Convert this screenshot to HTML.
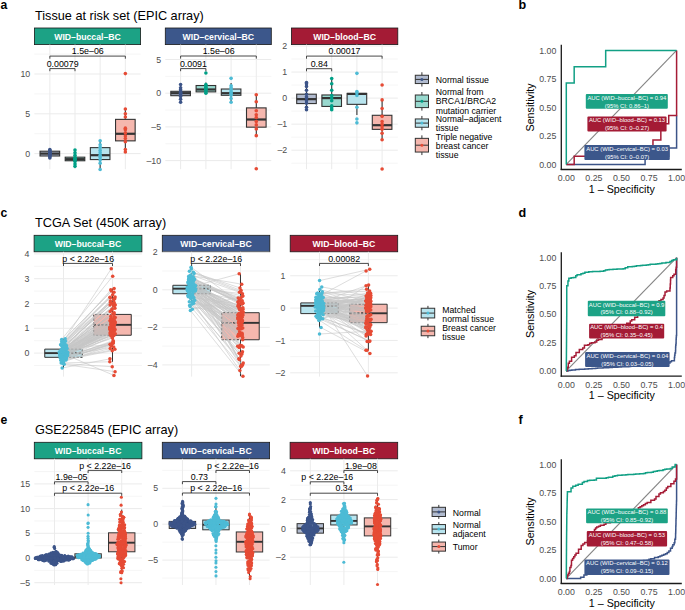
<!DOCTYPE html><html><head><meta charset="utf-8"><style>html,body{margin:0;padding:0;background:#fff;width:685px;height:610px;overflow:hidden}svg{display:block}</style></head><body><svg width="685" height="610" viewBox="0 0 685 610" font-family='"Liberation Sans", sans-serif'>
<rect x="0.00" y="0.00" width="685.00" height="610.00" fill="#fff" stroke="none" stroke-width="1" />
<text x="0.40" y="9.20" font-size="12.2" text-anchor="start" fill="#000" font-weight="bold" >a</text>
<text x="35.00" y="19.50" font-size="12.7" text-anchor="start" fill="#000" font-weight="normal" >Tissue at risk set (EPIC array)</text>
<rect x="34.40" y="28.00" width="106.20" height="16.60" fill="#1CA285" stroke="#1a1a1a" stroke-width="0.8" />
<text x="87.50" y="40.00" font-size="8.7" text-anchor="middle" fill="#fff" font-weight="bold" >WID–buccal–BC</text>
<line x1="34.40" y1="133.70" x2="140.60" y2="133.70" stroke="#EBEBEB" stroke-width="0.5" />
<line x1="34.40" y1="93.90" x2="140.60" y2="93.90" stroke="#EBEBEB" stroke-width="0.5" />
<line x1="34.40" y1="54.10" x2="140.60" y2="54.10" stroke="#EBEBEB" stroke-width="0.5" />
<line x1="34.40" y1="153.60" x2="140.60" y2="153.60" stroke="#EBEBEB" stroke-width="1" />
<line x1="34.40" y1="113.80" x2="140.60" y2="113.80" stroke="#EBEBEB" stroke-width="1" />
<line x1="34.40" y1="74.00" x2="140.60" y2="74.00" stroke="#EBEBEB" stroke-width="1" />
<line x1="49.85" y1="44.60" x2="49.85" y2="169.20" stroke="#EBEBEB" stroke-width="1" />
<line x1="75.00" y1="44.60" x2="75.00" y2="169.20" stroke="#EBEBEB" stroke-width="1" />
<line x1="100.15" y1="44.60" x2="100.15" y2="169.20" stroke="#EBEBEB" stroke-width="1" />
<line x1="125.35" y1="44.60" x2="125.35" y2="169.20" stroke="#EBEBEB" stroke-width="1" />
<text x="30.20" y="156.70" font-size="8.8" text-anchor="end" fill="#4D4D4D" font-weight="normal" >0</text>
<text x="30.20" y="116.90" font-size="8.8" text-anchor="end" fill="#4D4D4D" font-weight="normal" >5</text>
<text x="30.20" y="77.10" font-size="8.8" text-anchor="end" fill="#4D4D4D" font-weight="normal" >10</text>
<line x1="49.85" y1="148.82" x2="49.85" y2="151.21" stroke="#333333" stroke-width="1.1" />
<line x1="49.85" y1="155.99" x2="49.85" y2="158.38" stroke="#333333" stroke-width="1.1" />
<rect x="40.05" y="151.21" width="19.60" height="4.78" fill="#B1BBCF" stroke="#333333" stroke-width="1.1" />
<line x1="40.05" y1="153.60" x2="59.65" y2="153.60" stroke="#333333" stroke-width="2.2" />
<circle cx="49.85" cy="157.98" r="1.8" fill="#3C5488" />
<circle cx="49.85" cy="156.78" r="1.8" fill="#3C5488" />
<circle cx="49.85" cy="155.99" r="1.8" fill="#3C5488" />
<circle cx="49.85" cy="155.19" r="1.8" fill="#3C5488" />
<circle cx="49.85" cy="154.40" r="1.8" fill="#3C5488" />
<circle cx="49.85" cy="153.60" r="1.8" fill="#3C5488" />
<circle cx="49.85" cy="153.20" r="1.8" fill="#3C5488" />
<circle cx="49.85" cy="152.80" r="1.8" fill="#3C5488" />
<circle cx="49.85" cy="152.01" r="1.8" fill="#3C5488" />
<circle cx="49.85" cy="151.21" r="1.8" fill="#3C5488" />
<circle cx="49.85" cy="150.42" r="1.8" fill="#3C5488" />
<circle cx="49.85" cy="149.62" r="1.8" fill="#3C5488" />
<line x1="75.00" y1="149.62" x2="75.00" y2="157.18" stroke="#333333" stroke-width="1.1" />
<line x1="75.00" y1="160.76" x2="75.00" y2="166.34" stroke="#333333" stroke-width="1.1" />
<rect x="65.20" y="157.18" width="19.60" height="3.58" fill="#99D9CF" stroke="#333333" stroke-width="1.1" />
<line x1="65.20" y1="159.17" x2="84.80" y2="159.17" stroke="#333333" stroke-width="2.2" />
<circle cx="75.00" cy="166.34" r="1.8" fill="#00A087" />
<circle cx="75.00" cy="163.95" r="1.8" fill="#00A087" />
<circle cx="75.00" cy="161.56" r="1.8" fill="#00A087" />
<circle cx="75.00" cy="159.97" r="1.8" fill="#00A087" />
<circle cx="75.00" cy="159.17" r="1.8" fill="#00A087" />
<circle cx="75.00" cy="158.38" r="1.8" fill="#00A087" />
<circle cx="75.00" cy="157.58" r="1.8" fill="#00A087" />
<circle cx="75.00" cy="155.19" r="1.8" fill="#00A087" />
<circle cx="75.00" cy="152.80" r="1.8" fill="#00A087" />
<circle cx="75.00" cy="150.02" r="1.8" fill="#00A087" />
<line x1="100.15" y1="140.86" x2="100.15" y2="147.63" stroke="#333333" stroke-width="1.1" />
<line x1="100.15" y1="159.57" x2="100.15" y2="169.52" stroke="#333333" stroke-width="1.1" />
<rect x="90.35" y="147.63" width="19.60" height="11.94" fill="#B8E4EE" stroke="#333333" stroke-width="1.1" />
<line x1="90.35" y1="155.19" x2="109.95" y2="155.19" stroke="#333333" stroke-width="2.2" />
<circle cx="100.15" cy="169.52" r="1.8" fill="#4DBBD5" />
<circle cx="100.15" cy="163.15" r="1.8" fill="#4DBBD5" />
<circle cx="100.15" cy="159.97" r="1.8" fill="#4DBBD5" />
<circle cx="100.15" cy="157.58" r="1.8" fill="#4DBBD5" />
<circle cx="100.15" cy="155.19" r="1.8" fill="#4DBBD5" />
<circle cx="100.15" cy="152.80" r="1.8" fill="#4DBBD5" />
<circle cx="100.15" cy="150.42" r="1.8" fill="#4DBBD5" />
<circle cx="100.15" cy="147.23" r="1.8" fill="#4DBBD5" />
<circle cx="100.15" cy="144.84" r="1.8" fill="#4DBBD5" />
<circle cx="100.15" cy="140.86" r="1.8" fill="#4DBBD5" />
<line x1="125.35" y1="109.02" x2="125.35" y2="119.37" stroke="#333333" stroke-width="1.1" />
<line x1="125.35" y1="140.86" x2="125.35" y2="152.01" stroke="#333333" stroke-width="1.1" />
<rect x="115.55" y="119.37" width="19.60" height="21.49" fill="#F5B7AE" stroke="#333333" stroke-width="1.1" />
<line x1="115.55" y1="133.78" x2="135.15" y2="133.78" stroke="#333333" stroke-width="2.2" />
<circle cx="125.35" cy="73.60" r="1.8" fill="#E64B35" />
<circle cx="125.35" cy="109.02" r="1.8" fill="#E64B35" />
<circle cx="125.35" cy="113.80" r="1.8" fill="#E64B35" />
<circle cx="125.35" cy="116.98" r="1.8" fill="#E64B35" />
<circle cx="125.35" cy="128.13" r="1.8" fill="#E64B35" />
<circle cx="125.35" cy="129.72" r="1.8" fill="#E64B35" />
<circle cx="125.35" cy="132.90" r="1.8" fill="#E64B35" />
<circle cx="125.35" cy="136.09" r="1.8" fill="#E64B35" />
<circle cx="125.35" cy="138.48" r="1.8" fill="#E64B35" />
<circle cx="125.35" cy="141.66" r="1.8" fill="#E64B35" />
<circle cx="125.35" cy="149.62" r="1.8" fill="#E64B35" />
<circle cx="125.35" cy="152.01" r="1.8" fill="#E64B35" />
<polyline points="49.85,58.70 49.85,56.10 125.35,56.10 125.35,58.70" fill="none" stroke="#333333" stroke-width="0.9"/>
<text x="87.80" y="54.30" font-size="8.85" text-anchor="middle" fill="#000" font-weight="normal" >1.5e–06</text>
<polyline points="49.85,71.20 49.85,68.60 75.00,68.60 75.00,71.20" fill="none" stroke="#333333" stroke-width="0.9"/>
<text x="62.62" y="66.80" font-size="8.85" text-anchor="middle" fill="#000" font-weight="normal" >0.00079</text>
<rect x="165.30" y="28.00" width="106.00" height="16.60" fill="#3C578B" stroke="#1a1a1a" stroke-width="0.8" />
<text x="218.30" y="40.00" font-size="8.7" text-anchor="middle" fill="#fff" font-weight="bold" >WID–cervical–BC</text>
<line x1="165.30" y1="143.75" x2="271.30" y2="143.75" stroke="#EBEBEB" stroke-width="0.5" />
<line x1="165.30" y1="110.05" x2="271.30" y2="110.05" stroke="#EBEBEB" stroke-width="0.5" />
<line x1="165.30" y1="76.35" x2="271.30" y2="76.35" stroke="#EBEBEB" stroke-width="0.5" />
<line x1="165.30" y1="160.60" x2="271.30" y2="160.60" stroke="#EBEBEB" stroke-width="1" />
<line x1="165.30" y1="126.90" x2="271.30" y2="126.90" stroke="#EBEBEB" stroke-width="1" />
<line x1="165.30" y1="93.20" x2="271.30" y2="93.20" stroke="#EBEBEB" stroke-width="1" />
<line x1="165.30" y1="59.50" x2="271.30" y2="59.50" stroke="#EBEBEB" stroke-width="1" />
<line x1="180.60" y1="44.60" x2="180.60" y2="169.20" stroke="#EBEBEB" stroke-width="1" />
<line x1="205.90" y1="44.60" x2="205.90" y2="169.20" stroke="#EBEBEB" stroke-width="1" />
<line x1="231.10" y1="44.60" x2="231.10" y2="169.20" stroke="#EBEBEB" stroke-width="1" />
<line x1="256.30" y1="44.60" x2="256.30" y2="169.20" stroke="#EBEBEB" stroke-width="1" />
<text x="161.10" y="163.70" font-size="8.8" text-anchor="end" fill="#4D4D4D" font-weight="normal" >–10</text>
<text x="161.10" y="130.00" font-size="8.8" text-anchor="end" fill="#4D4D4D" font-weight="normal" >–5</text>
<text x="161.10" y="96.30" font-size="8.8" text-anchor="end" fill="#4D4D4D" font-weight="normal" >0</text>
<text x="161.10" y="62.60" font-size="8.8" text-anchor="end" fill="#4D4D4D" font-weight="normal" >5</text>
<line x1="180.60" y1="84.44" x2="180.60" y2="91.31" stroke="#333333" stroke-width="1.1" />
<line x1="180.60" y1="95.69" x2="180.60" y2="102.30" stroke="#333333" stroke-width="1.1" />
<rect x="170.80" y="91.31" width="19.60" height="4.38" fill="#B1BBCF" stroke="#333333" stroke-width="1.1" />
<line x1="170.80" y1="93.20" x2="190.40" y2="93.20" stroke="#333333" stroke-width="2.2" />
<circle cx="180.60" cy="102.30" r="1.8" fill="#3C5488" />
<circle cx="180.60" cy="99.27" r="1.8" fill="#3C5488" />
<circle cx="180.60" cy="96.57" r="1.8" fill="#3C5488" />
<circle cx="180.60" cy="95.22" r="1.8" fill="#3C5488" />
<circle cx="180.60" cy="93.87" r="1.8" fill="#3C5488" />
<circle cx="180.60" cy="93.20" r="1.8" fill="#3C5488" />
<circle cx="180.60" cy="92.53" r="1.8" fill="#3C5488" />
<circle cx="180.60" cy="91.52" r="1.8" fill="#3C5488" />
<circle cx="180.60" cy="89.83" r="1.8" fill="#3C5488" />
<circle cx="180.60" cy="87.81" r="1.8" fill="#3C5488" />
<circle cx="180.60" cy="84.44" r="1.8" fill="#3C5488" />
<line x1="205.90" y1="82.42" x2="205.90" y2="85.52" stroke="#333333" stroke-width="1.1" />
<line x1="205.90" y1="91.85" x2="205.90" y2="93.20" stroke="#333333" stroke-width="1.1" />
<rect x="196.10" y="85.52" width="19.60" height="6.34" fill="#99D9CF" stroke="#333333" stroke-width="1.1" />
<line x1="196.10" y1="89.49" x2="215.70" y2="89.49" stroke="#333333" stroke-width="2.2" />
<circle cx="205.90" cy="93.20" r="1.8" fill="#00A087" />
<circle cx="205.90" cy="91.85" r="1.8" fill="#00A087" />
<circle cx="205.90" cy="90.50" r="1.8" fill="#00A087" />
<circle cx="205.90" cy="89.49" r="1.8" fill="#00A087" />
<circle cx="205.90" cy="88.48" r="1.8" fill="#00A087" />
<circle cx="205.90" cy="87.13" r="1.8" fill="#00A087" />
<circle cx="205.90" cy="85.79" r="1.8" fill="#00A087" />
<circle cx="205.90" cy="84.44" r="1.8" fill="#00A087" />
<circle cx="205.90" cy="72.98" r="1.8" fill="#00A087" />
<line x1="231.10" y1="83.09" x2="231.10" y2="89.02" stroke="#333333" stroke-width="1.1" />
<line x1="231.10" y1="95.29" x2="231.10" y2="102.30" stroke="#333333" stroke-width="1.1" />
<rect x="221.30" y="89.02" width="19.60" height="6.27" fill="#B8E4EE" stroke="#333333" stroke-width="1.1" />
<line x1="221.30" y1="93.20" x2="240.90" y2="93.20" stroke="#333333" stroke-width="2.2" />
<circle cx="231.10" cy="102.30" r="1.8" fill="#4DBBD5" />
<circle cx="231.10" cy="98.59" r="1.8" fill="#4DBBD5" />
<circle cx="231.10" cy="95.22" r="1.8" fill="#4DBBD5" />
<circle cx="231.10" cy="93.20" r="1.8" fill="#4DBBD5" />
<circle cx="231.10" cy="91.85" r="1.8" fill="#4DBBD5" />
<circle cx="231.10" cy="89.83" r="1.8" fill="#4DBBD5" />
<circle cx="231.10" cy="87.81" r="1.8" fill="#4DBBD5" />
<circle cx="231.10" cy="85.79" r="1.8" fill="#4DBBD5" />
<circle cx="231.10" cy="78.37" r="1.8" fill="#4DBBD5" />
<line x1="256.30" y1="94.82" x2="256.30" y2="107.89" stroke="#333333" stroke-width="1.1" />
<line x1="256.30" y1="127.17" x2="256.30" y2="135.66" stroke="#333333" stroke-width="1.1" />
<rect x="246.50" y="107.89" width="19.60" height="19.28" fill="#F5B7AE" stroke="#333333" stroke-width="1.1" />
<line x1="246.50" y1="119.49" x2="266.10" y2="119.49" stroke="#333333" stroke-width="2.2" />
<circle cx="256.30" cy="94.82" r="1.8" fill="#E64B35" />
<circle cx="256.30" cy="101.76" r="1.8" fill="#E64B35" />
<circle cx="256.30" cy="110.72" r="1.8" fill="#E64B35" />
<circle cx="256.30" cy="114.77" r="1.8" fill="#E64B35" />
<circle cx="256.30" cy="117.46" r="1.8" fill="#E64B35" />
<circle cx="256.30" cy="121.51" r="1.8" fill="#E64B35" />
<circle cx="256.30" cy="124.88" r="1.8" fill="#E64B35" />
<circle cx="256.30" cy="128.92" r="1.8" fill="#E64B35" />
<circle cx="256.30" cy="135.66" r="1.8" fill="#E64B35" />
<circle cx="256.30" cy="168.69" r="1.8" fill="#E64B35" />
<polyline points="180.60,58.60 180.60,56.00 256.30,56.00 256.30,58.60" fill="none" stroke="#333333" stroke-width="0.9"/>
<text x="218.65" y="54.20" font-size="8.85" text-anchor="middle" fill="#000" font-weight="normal" >1.5e–06</text>
<polyline points="180.60,71.20 180.60,68.60 205.90,68.60 205.90,71.20" fill="none" stroke="#333333" stroke-width="0.9"/>
<text x="193.45" y="66.80" font-size="8.85" text-anchor="middle" fill="#000" font-weight="normal" >0.0091</text>
<rect x="291.40" y="28.00" width="106.40" height="16.60" fill="#A41B35" stroke="#1a1a1a" stroke-width="0.8" />
<text x="344.60" y="40.00" font-size="8.7" text-anchor="middle" fill="#fff" font-weight="bold" >WID–blood–BC</text>
<line x1="291.40" y1="163.22" x2="397.80" y2="163.22" stroke="#EBEBEB" stroke-width="0.5" />
<line x1="291.40" y1="137.18" x2="397.80" y2="137.18" stroke="#EBEBEB" stroke-width="0.5" />
<line x1="291.40" y1="111.12" x2="397.80" y2="111.12" stroke="#EBEBEB" stroke-width="0.5" />
<line x1="291.40" y1="85.07" x2="397.80" y2="85.07" stroke="#EBEBEB" stroke-width="0.5" />
<line x1="291.40" y1="59.02" x2="397.80" y2="59.02" stroke="#EBEBEB" stroke-width="0.5" />
<line x1="291.40" y1="150.20" x2="397.80" y2="150.20" stroke="#EBEBEB" stroke-width="1" />
<line x1="291.40" y1="124.15" x2="397.80" y2="124.15" stroke="#EBEBEB" stroke-width="1" />
<line x1="291.40" y1="98.10" x2="397.80" y2="98.10" stroke="#EBEBEB" stroke-width="1" />
<line x1="291.40" y1="72.05" x2="397.80" y2="72.05" stroke="#EBEBEB" stroke-width="1" />
<line x1="291.40" y1="46.00" x2="397.80" y2="46.00" stroke="#EBEBEB" stroke-width="1" />
<line x1="306.50" y1="44.60" x2="306.50" y2="169.20" stroke="#EBEBEB" stroke-width="1" />
<line x1="331.70" y1="44.60" x2="331.70" y2="169.20" stroke="#EBEBEB" stroke-width="1" />
<line x1="356.90" y1="44.60" x2="356.90" y2="169.20" stroke="#EBEBEB" stroke-width="1" />
<line x1="382.10" y1="44.60" x2="382.10" y2="169.20" stroke="#EBEBEB" stroke-width="1" />
<text x="287.20" y="153.30" font-size="8.8" text-anchor="end" fill="#4D4D4D" font-weight="normal" >–2</text>
<text x="287.20" y="127.25" font-size="8.8" text-anchor="end" fill="#4D4D4D" font-weight="normal" >–1</text>
<text x="287.20" y="101.20" font-size="8.8" text-anchor="end" fill="#4D4D4D" font-weight="normal" >0</text>
<text x="287.20" y="75.15" font-size="8.8" text-anchor="end" fill="#4D4D4D" font-weight="normal" >1</text>
<text x="287.20" y="49.10" font-size="8.8" text-anchor="end" fill="#4D4D4D" font-weight="normal" >2</text>
<line x1="306.50" y1="82.47" x2="306.50" y2="94.19" stroke="#333333" stroke-width="1.1" />
<line x1="306.50" y1="103.57" x2="306.50" y2="109.82" stroke="#333333" stroke-width="1.1" />
<rect x="296.70" y="94.19" width="19.60" height="9.38" fill="#B1BBCF" stroke="#333333" stroke-width="1.1" />
<line x1="296.70" y1="99.14" x2="316.30" y2="99.14" stroke="#333333" stroke-width="2.2" />
<circle cx="306.50" cy="109.82" r="1.8" fill="#3C5488" />
<circle cx="306.50" cy="107.22" r="1.8" fill="#3C5488" />
<circle cx="306.50" cy="103.31" r="1.8" fill="#3C5488" />
<circle cx="306.50" cy="100.70" r="1.8" fill="#3C5488" />
<circle cx="306.50" cy="98.10" r="1.8" fill="#3C5488" />
<circle cx="306.50" cy="96.80" r="1.8" fill="#3C5488" />
<circle cx="306.50" cy="94.19" r="1.8" fill="#3C5488" />
<circle cx="306.50" cy="90.28" r="1.8" fill="#3C5488" />
<circle cx="306.50" cy="86.38" r="1.8" fill="#3C5488" />
<circle cx="306.50" cy="83.77" r="1.8" fill="#3C5488" />
<circle cx="306.50" cy="82.47" r="1.8" fill="#3C5488" />
<line x1="331.70" y1="78.56" x2="331.70" y2="94.97" stroke="#333333" stroke-width="1.1" />
<line x1="331.70" y1="106.44" x2="331.70" y2="109.82" stroke="#333333" stroke-width="1.1" />
<rect x="321.90" y="94.97" width="19.60" height="11.46" fill="#99D9CF" stroke="#333333" stroke-width="1.1" />
<line x1="321.90" y1="98.10" x2="341.50" y2="98.10" stroke="#333333" stroke-width="2.2" />
<circle cx="331.70" cy="109.82" r="1.8" fill="#00A087" />
<circle cx="331.70" cy="108.00" r="1.8" fill="#00A087" />
<circle cx="331.70" cy="105.91" r="1.8" fill="#00A087" />
<circle cx="331.70" cy="100.70" r="1.8" fill="#00A087" />
<circle cx="331.70" cy="98.10" r="1.8" fill="#00A087" />
<circle cx="331.70" cy="95.49" r="1.8" fill="#00A087" />
<circle cx="331.70" cy="90.28" r="1.8" fill="#00A087" />
<circle cx="331.70" cy="83.77" r="1.8" fill="#00A087" />
<circle cx="331.70" cy="78.56" r="1.8" fill="#00A087" />
<line x1="356.90" y1="91.59" x2="356.90" y2="93.41" stroke="#333333" stroke-width="1.1" />
<line x1="356.90" y1="104.35" x2="356.90" y2="115.03" stroke="#333333" stroke-width="1.1" />
<rect x="347.10" y="93.41" width="19.60" height="10.94" fill="#B8E4EE" stroke="#333333" stroke-width="1.1" />
<line x1="347.10" y1="93.93" x2="366.70" y2="93.93" stroke="#333333" stroke-width="2.2" />
<circle cx="356.90" cy="122.85" r="1.8" fill="#4DBBD5" />
<circle cx="356.90" cy="118.94" r="1.8" fill="#4DBBD5" />
<circle cx="356.90" cy="107.22" r="1.8" fill="#4DBBD5" />
<circle cx="356.90" cy="95.49" r="1.8" fill="#4DBBD5" />
<circle cx="356.90" cy="92.89" r="1.8" fill="#4DBBD5" />
<circle cx="356.90" cy="91.59" r="1.8" fill="#4DBBD5" />
<circle cx="356.90" cy="73.35" r="1.8" fill="#4DBBD5" />
<line x1="382.10" y1="99.92" x2="382.10" y2="115.29" stroke="#333333" stroke-width="1.1" />
<line x1="382.10" y1="129.36" x2="382.10" y2="139.78" stroke="#333333" stroke-width="1.1" />
<rect x="372.30" y="115.29" width="19.60" height="14.07" fill="#F5B7AE" stroke="#333333" stroke-width="1.1" />
<line x1="372.30" y1="125.19" x2="391.90" y2="125.19" stroke="#333333" stroke-width="2.2" />
<circle cx="382.10" cy="85.07" r="1.8" fill="#E64B35" />
<circle cx="382.10" cy="99.92" r="1.8" fill="#E64B35" />
<circle cx="382.10" cy="108.52" r="1.8" fill="#E64B35" />
<circle cx="382.10" cy="116.33" r="1.8" fill="#E64B35" />
<circle cx="382.10" cy="121.54" r="1.8" fill="#E64B35" />
<circle cx="382.10" cy="124.15" r="1.8" fill="#E64B35" />
<circle cx="382.10" cy="126.75" r="1.8" fill="#E64B35" />
<circle cx="382.10" cy="129.36" r="1.8" fill="#E64B35" />
<circle cx="382.10" cy="133.27" r="1.8" fill="#E64B35" />
<circle cx="382.10" cy="139.78" r="1.8" fill="#E64B35" />
<circle cx="382.10" cy="168.96" r="1.8" fill="#E64B35" />
<polyline points="306.50,58.70 306.50,56.10 382.10,56.10 382.10,58.70" fill="none" stroke="#333333" stroke-width="0.9"/>
<text x="344.50" y="54.30" font-size="8.85" text-anchor="middle" fill="#000" font-weight="normal" >0.00017</text>
<polyline points="306.50,71.30 306.50,68.70 331.70,68.70 331.70,71.30" fill="none" stroke="#333333" stroke-width="0.9"/>
<text x="319.30" y="66.90" font-size="8.85" text-anchor="middle" fill="#000" font-weight="normal" >0.84</text>
<line x1="421.90" y1="72.25" x2="421.90" y2="86.55" stroke="#333333" stroke-width="1" />
<rect x="415.30" y="75.25" width="13.20" height="8.30" fill="#B1BBCF" stroke="#333333" stroke-width="1" />
<line x1="415.30" y1="79.40" x2="428.50" y2="79.40" stroke="#333333" stroke-width="1" />
<circle cx="421.90" cy="79.40" r="1.5" fill="#3C5488" />
<text x="435.80" y="82.70" font-size="8.7" text-anchor="start" fill="#000" font-weight="normal" >Normal tissue</text>
<line x1="421.90" y1="92.00" x2="421.90" y2="110.60" stroke="#333333" stroke-width="1" />
<rect x="415.30" y="95.00" width="13.20" height="12.60" fill="#99D9CF" stroke="#333333" stroke-width="1" />
<line x1="415.30" y1="101.30" x2="428.50" y2="101.30" stroke="#333333" stroke-width="1" />
<circle cx="421.90" cy="101.30" r="1.5" fill="#00A087" />
<text x="435.80" y="94.90" font-size="8.7" text-anchor="start" fill="#000" font-weight="normal" >Normal from</text>
<text x="435.80" y="104.20" font-size="8.7" text-anchor="start" fill="#000" font-weight="normal" >BRCA1/BRCA2</text>
<text x="435.80" y="113.60" font-size="8.7" text-anchor="start" fill="#000" font-weight="normal" >mutation carrier</text>
<line x1="421.90" y1="115.95" x2="421.90" y2="130.25" stroke="#333333" stroke-width="1" />
<rect x="415.30" y="118.95" width="13.20" height="8.30" fill="#B8E4EE" stroke="#333333" stroke-width="1" />
<line x1="415.30" y1="123.10" x2="428.50" y2="123.10" stroke="#333333" stroke-width="1" />
<circle cx="421.90" cy="123.10" r="1.5" fill="#4DBBD5" />
<text x="435.80" y="121.90" font-size="8.7" text-anchor="start" fill="#000" font-weight="normal" >Normal–adjacent</text>
<text x="435.80" y="131.10" font-size="8.7" text-anchor="start" fill="#000" font-weight="normal" >tissue</text>
<line x1="421.90" y1="135.35" x2="421.90" y2="155.05" stroke="#333333" stroke-width="1" />
<rect x="415.30" y="138.35" width="13.20" height="13.70" fill="#F5B7AE" stroke="#333333" stroke-width="1" />
<line x1="415.30" y1="145.20" x2="428.50" y2="145.20" stroke="#333333" stroke-width="1" />
<circle cx="421.90" cy="145.20" r="1.5" fill="#E64B35" />
<text x="435.80" y="139.70" font-size="8.7" text-anchor="start" fill="#000" font-weight="normal" >Triple negative</text>
<text x="435.80" y="149.00" font-size="8.7" text-anchor="start" fill="#000" font-weight="normal" >breast cancer</text>
<text x="435.80" y="158.20" font-size="8.7" text-anchor="start" fill="#000" font-weight="normal" >tissue</text>
<text x="518.50" y="8.90" font-size="12.6" text-anchor="start" fill="#000" font-weight="bold" >b</text>
<line x1="566.30" y1="164.40" x2="676.60" y2="50.40" stroke="#858585" stroke-width="1.15" />
<polyline points="566.30,164.40 645.09,164.40 645.09,156.26 668.72,156.26 668.72,148.11 676.60,148.11 676.60,115.54" fill="none" stroke="#3C5488" stroke-width="1.5" stroke-linejoin="miter" />
<polyline points="566.30,164.40 574.18,164.40 574.18,156.26 589.94,156.26 589.94,148.11 652.96,148.11 652.96,139.97 660.84,139.97 660.84,123.69 668.72,123.69 668.72,115.54 676.60,115.54 676.60,50.40" fill="none" stroke="#A51C36" stroke-width="1.5" stroke-linejoin="miter" />
<polyline points="566.30,164.40 566.30,82.97 574.18,82.97 574.18,66.69 605.69,66.69 605.69,50.40 676.60,50.40" fill="none" stroke="#12A085" stroke-width="1.5" stroke-linejoin="miter" />
<rect x="585.80" y="93.90" width="82.00" height="14.80" rx="1" fill="#1CA285"/>
<text x="626.80" y="99.60" font-size="5.85" text-anchor="middle" fill="#fff" font-weight="normal" >AUC (WID–buccal–BC) = 0.94</text>
<text x="626.80" y="107.50" font-size="5.85" text-anchor="middle" fill="#fff" font-weight="normal" >(95% CI: 0.86–1)</text>
<rect x="587.40" y="116.40" width="79.20" height="15.20" rx="1" fill="#A41B35"/>
<text x="627.00" y="122.10" font-size="5.85" text-anchor="middle" fill="#fff" font-weight="normal" >AUC (WID–blood–BC) = 0.13</text>
<text x="627.00" y="130.00" font-size="5.85" text-anchor="middle" fill="#fff" font-weight="normal" >(95% CI: 0–0.27)</text>
<rect x="584.40" y="144.90" width="85.40" height="15.10" rx="1" fill="#3C578B"/>
<text x="627.10" y="150.60" font-size="5.85" text-anchor="middle" fill="#fff" font-weight="normal" >AUC (WID–cervical–BC) = 0.03</text>
<text x="627.10" y="158.50" font-size="5.85" text-anchor="middle" fill="#fff" font-weight="normal" >(95% CI: 0–0.07)</text>
<line x1="561.30" y1="44.70" x2="561.30" y2="170.10" stroke="#1a1a1a" stroke-width="1.3" />
<line x1="560.65" y1="169.50" x2="681.80" y2="169.50" stroke="#1a1a1a" stroke-width="1.3" />
<text x="556.30" y="167.50" font-size="8.8" text-anchor="end" fill="#4D4D4D" font-weight="normal" >0.00</text>
<text x="566.30" y="180.90" font-size="8.8" text-anchor="middle" fill="#4D4D4D" font-weight="normal" >0.00</text>
<text x="556.30" y="139.00" font-size="8.8" text-anchor="end" fill="#4D4D4D" font-weight="normal" >0.25</text>
<text x="593.88" y="180.90" font-size="8.8" text-anchor="middle" fill="#4D4D4D" font-weight="normal" >0.25</text>
<text x="556.30" y="110.50" font-size="8.8" text-anchor="end" fill="#4D4D4D" font-weight="normal" >0.50</text>
<text x="621.45" y="180.90" font-size="8.8" text-anchor="middle" fill="#4D4D4D" font-weight="normal" >0.50</text>
<text x="556.30" y="82.00" font-size="8.8" text-anchor="end" fill="#4D4D4D" font-weight="normal" >0.75</text>
<text x="649.02" y="180.90" font-size="8.8" text-anchor="middle" fill="#4D4D4D" font-weight="normal" >0.75</text>
<text x="556.30" y="53.50" font-size="8.8" text-anchor="end" fill="#4D4D4D" font-weight="normal" >1.00</text>
<text x="676.60" y="180.90" font-size="8.8" text-anchor="middle" fill="#4D4D4D" font-weight="normal" >1.00</text>
<text x="621.80" y="192.50" font-size="10.7" text-anchor="middle" fill="#000" font-weight="normal" >1 – Specificity</text>
<text x="0" y="0" font-size="10.7" text-anchor="middle" fill="#000" transform="translate(534.3,107.40) rotate(-90)">Sensitivity</text>
<text x="0.40" y="216.50" font-size="12.2" text-anchor="start" fill="#000" font-weight="bold" >c</text>
<text x="35.00" y="227.00" font-size="12.7" text-anchor="start" fill="#000" font-weight="normal" >TCGA Set (450K array)</text>
<rect x="34.10" y="235.30" width="107.80" height="16.50" fill="#1CA285" stroke="#1a1a1a" stroke-width="0.8" />
<text x="88.00" y="247.20" font-size="8.7" text-anchor="middle" fill="#fff" font-weight="bold" >WID–buccal–BC</text>
<line x1="34.10" y1="365.50" x2="141.90" y2="365.50" stroke="#EBEBEB" stroke-width="0.5" />
<line x1="34.10" y1="340.70" x2="141.90" y2="340.70" stroke="#EBEBEB" stroke-width="0.5" />
<line x1="34.10" y1="315.90" x2="141.90" y2="315.90" stroke="#EBEBEB" stroke-width="0.5" />
<line x1="34.10" y1="291.10" x2="141.90" y2="291.10" stroke="#EBEBEB" stroke-width="0.5" />
<line x1="34.10" y1="266.30" x2="141.90" y2="266.30" stroke="#EBEBEB" stroke-width="0.5" />
<line x1="34.10" y1="353.10" x2="141.90" y2="353.10" stroke="#EBEBEB" stroke-width="1" />
<line x1="34.10" y1="328.30" x2="141.90" y2="328.30" stroke="#EBEBEB" stroke-width="1" />
<line x1="34.10" y1="303.50" x2="141.90" y2="303.50" stroke="#EBEBEB" stroke-width="1" />
<line x1="34.10" y1="278.70" x2="141.90" y2="278.70" stroke="#EBEBEB" stroke-width="1" />
<line x1="34.10" y1="253.90" x2="141.90" y2="253.90" stroke="#EBEBEB" stroke-width="1" />
<line x1="63.50" y1="251.80" x2="63.50" y2="376.60" stroke="#EBEBEB" stroke-width="1" />
<line x1="112.50" y1="251.80" x2="112.50" y2="376.60" stroke="#EBEBEB" stroke-width="1" />
<text x="29.40" y="356.20" font-size="8.8" text-anchor="end" fill="#4D4D4D" font-weight="normal" >0</text>
<text x="29.40" y="331.40" font-size="8.8" text-anchor="end" fill="#4D4D4D" font-weight="normal" >1</text>
<text x="29.40" y="306.60" font-size="8.8" text-anchor="end" fill="#4D4D4D" font-weight="normal" >2</text>
<text x="29.40" y="281.80" font-size="8.8" text-anchor="end" fill="#4D4D4D" font-weight="normal" >3</text>
<text x="29.40" y="257.00" font-size="8.8" text-anchor="end" fill="#4D4D4D" font-weight="normal" >4</text>
<line x1="63.50" y1="338.72" x2="63.50" y2="349.13" stroke="#333333" stroke-width="1.0" />
<line x1="63.50" y1="357.32" x2="63.50" y2="367.98" stroke="#333333" stroke-width="1.0" />
<rect x="44.75" y="349.13" width="37.50" height="8.18" fill="#B8E4EE" stroke="none" stroke-width="1" />
<polyline points="63.50,349.13 44.75,349.13 44.75,357.32 63.50,357.32" fill="none" stroke="#333333" stroke-width="1"/>
<polyline points="63.50,349.13 82.25,349.13 82.25,357.32 63.50,357.32" fill="none" stroke="#333333" stroke-width="1" stroke-dasharray="2.2,1.6"/>
<line x1="44.75" y1="353.10" x2="63.50" y2="353.10" stroke="#333333" stroke-width="1.9" />
<line x1="63.50" y1="353.10" x2="82.25" y2="353.10" stroke="#333333" stroke-width="1.9" stroke-dasharray="2.2,1.6"/>
<line x1="112.50" y1="288.62" x2="112.50" y2="314.41" stroke="#333333" stroke-width="1.0" />
<line x1="112.50" y1="335.24" x2="112.50" y2="361.78" stroke="#333333" stroke-width="1.0" />
<rect x="93.75" y="314.41" width="37.50" height="20.83" fill="#F5B7AE" stroke="none" stroke-width="1" />
<polyline points="112.50,314.41 131.25,314.41 131.25,335.24 112.50,335.24" fill="none" stroke="#333333" stroke-width="1"/>
<polyline points="112.50,314.41 93.75,314.41 93.75,335.24 112.50,335.24" fill="none" stroke="#333333" stroke-width="1" stroke-dasharray="2.2,1.6"/>
<line x1="112.50" y1="324.83" x2="131.25" y2="324.83" stroke="#333333" stroke-width="1.9" />
<line x1="93.75" y1="324.83" x2="112.50" y2="324.83" stroke="#333333" stroke-width="1.9" stroke-dasharray="2.2,1.6"/>
<g stroke="#BDBDBD" stroke-width="0.6" opacity="0.85">
<line x1="62.16" y1="367.98" x2="109.93" y2="358.85"/>
<line x1="64.14" y1="364.36" x2="115.07" y2="371.70"/>
<line x1="62.89" y1="363.62" x2="112.23" y2="366.74"/>
<line x1="61.17" y1="363.00" x2="109.81" y2="361.78"/>
<line x1="63.68" y1="361.85" x2="111.07" y2="345.67"/>
<line x1="62.04" y1="360.51" x2="112.26" y2="350.65"/>
<line x1="60.78" y1="360.19" x2="114.92" y2="349.31"/>
<line x1="66.06" y1="359.91" x2="110.21" y2="348.47"/>
<line x1="63.68" y1="359.09" x2="113.88" y2="335.41"/>
<line x1="63.32" y1="359.04" x2="114.23" y2="325.26"/>
<line x1="65.89" y1="358.75" x2="111.01" y2="344.76"/>
<line x1="65.30" y1="358.47" x2="110.99" y2="344.64"/>
<line x1="64.56" y1="358.44" x2="112.28" y2="343.32"/>
<line x1="65.94" y1="358.39" x2="110.13" y2="344.36"/>
<line x1="66.47" y1="357.98" x2="111.31" y2="322.70"/>
<line x1="60.19" y1="357.81" x2="113.24" y2="343.26"/>
<line x1="61.27" y1="357.55" x2="113.06" y2="342.05"/>
<line x1="62.25" y1="357.47" x2="113.35" y2="341.73"/>
<line x1="64.94" y1="357.44" x2="113.18" y2="340.69"/>
<line x1="60.69" y1="356.87" x2="112.40" y2="337.93"/>
<line x1="63.39" y1="356.42" x2="115.15" y2="321.98"/>
<line x1="60.33" y1="356.30" x2="110.92" y2="335.67"/>
<line x1="63.42" y1="356.30" x2="113.67" y2="347.01"/>
<line x1="61.80" y1="356.20" x2="112.31" y2="335.14"/>
<line x1="65.63" y1="356.17" x2="115.26" y2="317.41"/>
<line x1="63.90" y1="355.92" x2="111.45" y2="335.07"/>
<line x1="60.13" y1="355.72" x2="112.35" y2="337.69"/>
<line x1="61.78" y1="355.66" x2="110.13" y2="333.88"/>
<line x1="63.55" y1="355.55" x2="115.27" y2="333.84"/>
<line x1="67.56" y1="355.53" x2="111.87" y2="333.43"/>
<line x1="66.95" y1="355.38" x2="114.91" y2="308.31"/>
<line x1="59.97" y1="355.35" x2="110.21" y2="332.56"/>
<line x1="65.61" y1="354.73" x2="111.17" y2="331.98"/>
<line x1="62.30" y1="354.73" x2="113.08" y2="331.97"/>
<line x1="64.63" y1="354.67" x2="111.27" y2="331.01"/>
<line x1="60.16" y1="354.55" x2="111.75" y2="330.80"/>
<line x1="63.48" y1="354.23" x2="114.61" y2="330.44"/>
<line x1="62.57" y1="354.22" x2="110.59" y2="330.43"/>
<line x1="67.45" y1="354.16" x2="113.52" y2="330.24"/>
<line x1="62.67" y1="354.07" x2="113.77" y2="330.22"/>
<line x1="62.76" y1="354.00" x2="111.81" y2="329.62"/>
<line x1="60.14" y1="353.96" x2="111.56" y2="335.14"/>
<line x1="61.93" y1="353.73" x2="111.59" y2="329.40"/>
<line x1="62.58" y1="353.39" x2="114.96" y2="329.30"/>
<line x1="60.73" y1="353.38" x2="109.77" y2="329.15"/>
<line x1="65.70" y1="353.06" x2="111.12" y2="328.56"/>
<line x1="59.52" y1="352.98" x2="111.88" y2="328.48"/>
<line x1="66.86" y1="352.84" x2="110.13" y2="327.88"/>
<line x1="67.37" y1="352.84" x2="113.93" y2="327.57"/>
<line x1="66.68" y1="352.58" x2="111.27" y2="329.59"/>
<line x1="59.48" y1="352.52" x2="113.41" y2="327.09"/>
<line x1="64.70" y1="352.41" x2="110.53" y2="327.03"/>
<line x1="67.68" y1="352.32" x2="112.14" y2="326.02"/>
<line x1="61.88" y1="352.11" x2="114.03" y2="325.79"/>
<line x1="66.00" y1="352.07" x2="112.10" y2="325.47"/>
<line x1="59.37" y1="352.06" x2="113.97" y2="375.42"/>
<line x1="62.63" y1="351.99" x2="114.60" y2="324.47"/>
<line x1="63.97" y1="351.96" x2="110.84" y2="324.27"/>
<line x1="59.84" y1="351.91" x2="114.93" y2="322.43"/>
<line x1="62.73" y1="351.84" x2="113.14" y2="323.58"/>
<line x1="60.37" y1="351.77" x2="114.57" y2="323.27"/>
<line x1="63.38" y1="351.68" x2="114.81" y2="322.88"/>
<line x1="63.93" y1="351.66" x2="110.66" y2="333.96"/>
<line x1="62.77" y1="351.58" x2="111.28" y2="322.69"/>
<line x1="61.41" y1="351.47" x2="113.84" y2="306.00"/>
<line x1="64.80" y1="351.42" x2="111.97" y2="323.75"/>
<line x1="61.28" y1="351.40" x2="112.41" y2="321.94"/>
<line x1="64.93" y1="351.23" x2="110.37" y2="321.09"/>
<line x1="64.70" y1="351.06" x2="110.12" y2="320.84"/>
<line x1="63.51" y1="350.82" x2="114.25" y2="320.71"/>
<line x1="63.91" y1="350.70" x2="112.24" y2="320.29"/>
<line x1="62.15" y1="350.37" x2="113.95" y2="319.71"/>
<line x1="62.91" y1="350.35" x2="112.77" y2="332.79"/>
<line x1="61.43" y1="350.33" x2="110.68" y2="318.86"/>
<line x1="63.95" y1="350.20" x2="111.49" y2="318.82"/>
<line x1="62.46" y1="349.88" x2="114.23" y2="317.69"/>
<line x1="61.16" y1="349.77" x2="109.81" y2="327.37"/>
<line x1="66.35" y1="349.38" x2="111.84" y2="319.52"/>
<line x1="65.39" y1="349.36" x2="110.88" y2="316.19"/>
<line x1="61.74" y1="349.31" x2="113.91" y2="314.18"/>
<line x1="63.49" y1="349.23" x2="112.92" y2="313.79"/>
<line x1="62.44" y1="349.13" x2="113.55" y2="313.42"/>
<line x1="63.72" y1="348.65" x2="114.13" y2="312.64"/>
<line x1="66.06" y1="348.51" x2="110.22" y2="311.52"/>
<line x1="66.41" y1="348.48" x2="111.85" y2="309.95"/>
<line x1="64.57" y1="348.46" x2="112.12" y2="308.98"/>
<line x1="62.13" y1="348.39" x2="114.26" y2="317.07"/>
<line x1="66.91" y1="348.37" x2="110.41" y2="344.56"/>
<line x1="62.97" y1="348.02" x2="113.98" y2="305.35"/>
<line x1="65.57" y1="347.21" x2="115.12" y2="305.09"/>
<line x1="63.43" y1="347.18" x2="110.11" y2="304.91"/>
<line x1="66.41" y1="347.05" x2="114.90" y2="304.82"/>
<line x1="63.68" y1="346.31" x2="112.32" y2="303.50"/>
<line x1="63.18" y1="346.01" x2="114.09" y2="302.49"/>
<line x1="61.78" y1="345.77" x2="110.55" y2="302.37"/>
<line x1="66.38" y1="345.44" x2="110.31" y2="301.02"/>
<line x1="65.46" y1="345.24" x2="113.63" y2="299.81"/>
<line x1="65.55" y1="344.96" x2="114.71" y2="298.64"/>
<line x1="61.06" y1="344.87" x2="114.05" y2="298.51"/>
<line x1="60.62" y1="344.65" x2="110.40" y2="297.73"/>
<line x1="63.88" y1="343.89" x2="109.91" y2="297.30"/>
<line x1="64.66" y1="343.68" x2="115.09" y2="297.12"/>
<line x1="64.12" y1="342.40" x2="112.66" y2="294.82"/>
<line x1="63.20" y1="342.18" x2="113.98" y2="292.34"/>
<line x1="61.65" y1="341.75" x2="111.38" y2="291.10"/>
<line x1="65.46" y1="341.28" x2="110.77" y2="289.86"/>
<line x1="62.46" y1="341.11" x2="114.13" y2="288.62"/>
<line x1="61.66" y1="339.46" x2="112.71" y2="276.22"/>
<line x1="65.18" y1="338.72" x2="111.26" y2="268.78"/>
</g>
<circle cx="62.16" cy="367.98" r="1.75" fill="#4DBBD5" />
<circle cx="64.14" cy="364.36" r="1.75" fill="#4DBBD5" />
<circle cx="62.89" cy="363.62" r="1.75" fill="#4DBBD5" />
<circle cx="61.17" cy="363.00" r="1.75" fill="#4DBBD5" />
<circle cx="63.68" cy="361.85" r="1.75" fill="#4DBBD5" />
<circle cx="62.04" cy="360.51" r="1.75" fill="#4DBBD5" />
<circle cx="60.78" cy="360.19" r="1.75" fill="#4DBBD5" />
<circle cx="66.06" cy="359.91" r="1.75" fill="#4DBBD5" />
<circle cx="63.68" cy="359.09" r="1.75" fill="#4DBBD5" />
<circle cx="63.32" cy="359.04" r="1.75" fill="#4DBBD5" />
<circle cx="65.89" cy="358.75" r="1.75" fill="#4DBBD5" />
<circle cx="65.30" cy="358.47" r="1.75" fill="#4DBBD5" />
<circle cx="64.56" cy="358.44" r="1.75" fill="#4DBBD5" />
<circle cx="65.94" cy="358.39" r="1.75" fill="#4DBBD5" />
<circle cx="66.47" cy="357.98" r="1.75" fill="#4DBBD5" />
<circle cx="60.19" cy="357.81" r="1.75" fill="#4DBBD5" />
<circle cx="61.27" cy="357.55" r="1.75" fill="#4DBBD5" />
<circle cx="62.25" cy="357.47" r="1.75" fill="#4DBBD5" />
<circle cx="64.94" cy="357.44" r="1.75" fill="#4DBBD5" />
<circle cx="60.69" cy="356.87" r="1.75" fill="#4DBBD5" />
<circle cx="63.39" cy="356.42" r="1.75" fill="#4DBBD5" />
<circle cx="60.33" cy="356.30" r="1.75" fill="#4DBBD5" />
<circle cx="63.42" cy="356.30" r="1.75" fill="#4DBBD5" />
<circle cx="61.80" cy="356.20" r="1.75" fill="#4DBBD5" />
<circle cx="65.63" cy="356.17" r="1.75" fill="#4DBBD5" />
<circle cx="63.90" cy="355.92" r="1.75" fill="#4DBBD5" />
<circle cx="60.13" cy="355.72" r="1.75" fill="#4DBBD5" />
<circle cx="61.78" cy="355.66" r="1.75" fill="#4DBBD5" />
<circle cx="63.55" cy="355.55" r="1.75" fill="#4DBBD5" />
<circle cx="67.56" cy="355.53" r="1.75" fill="#4DBBD5" />
<circle cx="66.95" cy="355.38" r="1.75" fill="#4DBBD5" />
<circle cx="59.97" cy="355.35" r="1.75" fill="#4DBBD5" />
<circle cx="65.61" cy="354.73" r="1.75" fill="#4DBBD5" />
<circle cx="62.30" cy="354.73" r="1.75" fill="#4DBBD5" />
<circle cx="64.63" cy="354.67" r="1.75" fill="#4DBBD5" />
<circle cx="60.16" cy="354.55" r="1.75" fill="#4DBBD5" />
<circle cx="63.48" cy="354.23" r="1.75" fill="#4DBBD5" />
<circle cx="62.57" cy="354.22" r="1.75" fill="#4DBBD5" />
<circle cx="67.45" cy="354.16" r="1.75" fill="#4DBBD5" />
<circle cx="62.67" cy="354.07" r="1.75" fill="#4DBBD5" />
<circle cx="62.76" cy="354.00" r="1.75" fill="#4DBBD5" />
<circle cx="60.14" cy="353.96" r="1.75" fill="#4DBBD5" />
<circle cx="61.93" cy="353.73" r="1.75" fill="#4DBBD5" />
<circle cx="62.58" cy="353.39" r="1.75" fill="#4DBBD5" />
<circle cx="60.73" cy="353.38" r="1.75" fill="#4DBBD5" />
<circle cx="65.70" cy="353.06" r="1.75" fill="#4DBBD5" />
<circle cx="59.52" cy="352.98" r="1.75" fill="#4DBBD5" />
<circle cx="66.86" cy="352.84" r="1.75" fill="#4DBBD5" />
<circle cx="67.37" cy="352.84" r="1.75" fill="#4DBBD5" />
<circle cx="66.68" cy="352.58" r="1.75" fill="#4DBBD5" />
<circle cx="59.48" cy="352.52" r="1.75" fill="#4DBBD5" />
<circle cx="64.70" cy="352.41" r="1.75" fill="#4DBBD5" />
<circle cx="67.68" cy="352.32" r="1.75" fill="#4DBBD5" />
<circle cx="61.88" cy="352.11" r="1.75" fill="#4DBBD5" />
<circle cx="66.00" cy="352.07" r="1.75" fill="#4DBBD5" />
<circle cx="59.37" cy="352.06" r="1.75" fill="#4DBBD5" />
<circle cx="62.63" cy="351.99" r="1.75" fill="#4DBBD5" />
<circle cx="63.97" cy="351.96" r="1.75" fill="#4DBBD5" />
<circle cx="59.84" cy="351.91" r="1.75" fill="#4DBBD5" />
<circle cx="62.73" cy="351.84" r="1.75" fill="#4DBBD5" />
<circle cx="60.37" cy="351.77" r="1.75" fill="#4DBBD5" />
<circle cx="63.38" cy="351.68" r="1.75" fill="#4DBBD5" />
<circle cx="63.93" cy="351.66" r="1.75" fill="#4DBBD5" />
<circle cx="62.77" cy="351.58" r="1.75" fill="#4DBBD5" />
<circle cx="61.41" cy="351.47" r="1.75" fill="#4DBBD5" />
<circle cx="64.80" cy="351.42" r="1.75" fill="#4DBBD5" />
<circle cx="61.28" cy="351.40" r="1.75" fill="#4DBBD5" />
<circle cx="64.93" cy="351.23" r="1.75" fill="#4DBBD5" />
<circle cx="64.70" cy="351.06" r="1.75" fill="#4DBBD5" />
<circle cx="63.51" cy="350.82" r="1.75" fill="#4DBBD5" />
<circle cx="63.91" cy="350.70" r="1.75" fill="#4DBBD5" />
<circle cx="62.15" cy="350.37" r="1.75" fill="#4DBBD5" />
<circle cx="62.91" cy="350.35" r="1.75" fill="#4DBBD5" />
<circle cx="61.43" cy="350.33" r="1.75" fill="#4DBBD5" />
<circle cx="63.95" cy="350.20" r="1.75" fill="#4DBBD5" />
<circle cx="62.46" cy="349.88" r="1.75" fill="#4DBBD5" />
<circle cx="61.16" cy="349.77" r="1.75" fill="#4DBBD5" />
<circle cx="66.35" cy="349.38" r="1.75" fill="#4DBBD5" />
<circle cx="65.39" cy="349.36" r="1.75" fill="#4DBBD5" />
<circle cx="61.74" cy="349.31" r="1.75" fill="#4DBBD5" />
<circle cx="63.49" cy="349.23" r="1.75" fill="#4DBBD5" />
<circle cx="62.44" cy="349.13" r="1.75" fill="#4DBBD5" />
<circle cx="63.72" cy="348.65" r="1.75" fill="#4DBBD5" />
<circle cx="66.06" cy="348.51" r="1.75" fill="#4DBBD5" />
<circle cx="66.41" cy="348.48" r="1.75" fill="#4DBBD5" />
<circle cx="64.57" cy="348.46" r="1.75" fill="#4DBBD5" />
<circle cx="62.13" cy="348.39" r="1.75" fill="#4DBBD5" />
<circle cx="66.91" cy="348.37" r="1.75" fill="#4DBBD5" />
<circle cx="62.97" cy="348.02" r="1.75" fill="#4DBBD5" />
<circle cx="65.57" cy="347.21" r="1.75" fill="#4DBBD5" />
<circle cx="63.43" cy="347.18" r="1.75" fill="#4DBBD5" />
<circle cx="66.41" cy="347.05" r="1.75" fill="#4DBBD5" />
<circle cx="63.68" cy="346.31" r="1.75" fill="#4DBBD5" />
<circle cx="63.18" cy="346.01" r="1.75" fill="#4DBBD5" />
<circle cx="61.78" cy="345.77" r="1.75" fill="#4DBBD5" />
<circle cx="66.38" cy="345.44" r="1.75" fill="#4DBBD5" />
<circle cx="65.46" cy="345.24" r="1.75" fill="#4DBBD5" />
<circle cx="65.55" cy="344.96" r="1.75" fill="#4DBBD5" />
<circle cx="61.06" cy="344.87" r="1.75" fill="#4DBBD5" />
<circle cx="60.62" cy="344.65" r="1.75" fill="#4DBBD5" />
<circle cx="63.88" cy="343.89" r="1.75" fill="#4DBBD5" />
<circle cx="64.66" cy="343.68" r="1.75" fill="#4DBBD5" />
<circle cx="64.12" cy="342.40" r="1.75" fill="#4DBBD5" />
<circle cx="63.20" cy="342.18" r="1.75" fill="#4DBBD5" />
<circle cx="61.65" cy="341.75" r="1.75" fill="#4DBBD5" />
<circle cx="65.46" cy="341.28" r="1.75" fill="#4DBBD5" />
<circle cx="62.46" cy="341.11" r="1.75" fill="#4DBBD5" />
<circle cx="61.66" cy="339.46" r="1.75" fill="#4DBBD5" />
<circle cx="65.18" cy="338.72" r="1.75" fill="#4DBBD5" />
<circle cx="109.93" cy="358.85" r="1.75" fill="#E64B35" />
<circle cx="115.07" cy="371.70" r="1.75" fill="#E64B35" />
<circle cx="112.23" cy="366.74" r="1.75" fill="#E64B35" />
<circle cx="109.81" cy="361.78" r="1.75" fill="#E64B35" />
<circle cx="111.07" cy="345.67" r="1.75" fill="#E64B35" />
<circle cx="112.26" cy="350.65" r="1.75" fill="#E64B35" />
<circle cx="114.92" cy="349.31" r="1.75" fill="#E64B35" />
<circle cx="110.21" cy="348.47" r="1.75" fill="#E64B35" />
<circle cx="113.88" cy="335.41" r="1.75" fill="#E64B35" />
<circle cx="114.23" cy="325.26" r="1.75" fill="#E64B35" />
<circle cx="111.01" cy="344.76" r="1.75" fill="#E64B35" />
<circle cx="110.99" cy="344.64" r="1.75" fill="#E64B35" />
<circle cx="112.28" cy="343.32" r="1.75" fill="#E64B35" />
<circle cx="110.13" cy="344.36" r="1.75" fill="#E64B35" />
<circle cx="111.31" cy="322.70" r="1.75" fill="#E64B35" />
<circle cx="113.24" cy="343.26" r="1.75" fill="#E64B35" />
<circle cx="113.06" cy="342.05" r="1.75" fill="#E64B35" />
<circle cx="113.35" cy="341.73" r="1.75" fill="#E64B35" />
<circle cx="113.18" cy="340.69" r="1.75" fill="#E64B35" />
<circle cx="112.40" cy="337.93" r="1.75" fill="#E64B35" />
<circle cx="115.15" cy="321.98" r="1.75" fill="#E64B35" />
<circle cx="110.92" cy="335.67" r="1.75" fill="#E64B35" />
<circle cx="113.67" cy="347.01" r="1.75" fill="#E64B35" />
<circle cx="112.31" cy="335.14" r="1.75" fill="#E64B35" />
<circle cx="115.26" cy="317.41" r="1.75" fill="#E64B35" />
<circle cx="111.45" cy="335.07" r="1.75" fill="#E64B35" />
<circle cx="112.35" cy="337.69" r="1.75" fill="#E64B35" />
<circle cx="110.13" cy="333.88" r="1.75" fill="#E64B35" />
<circle cx="115.27" cy="333.84" r="1.75" fill="#E64B35" />
<circle cx="111.87" cy="333.43" r="1.75" fill="#E64B35" />
<circle cx="114.91" cy="308.31" r="1.75" fill="#E64B35" />
<circle cx="110.21" cy="332.56" r="1.75" fill="#E64B35" />
<circle cx="111.17" cy="331.98" r="1.75" fill="#E64B35" />
<circle cx="113.08" cy="331.97" r="1.75" fill="#E64B35" />
<circle cx="111.27" cy="331.01" r="1.75" fill="#E64B35" />
<circle cx="111.75" cy="330.80" r="1.75" fill="#E64B35" />
<circle cx="114.61" cy="330.44" r="1.75" fill="#E64B35" />
<circle cx="110.59" cy="330.43" r="1.75" fill="#E64B35" />
<circle cx="113.52" cy="330.24" r="1.75" fill="#E64B35" />
<circle cx="113.77" cy="330.22" r="1.75" fill="#E64B35" />
<circle cx="111.81" cy="329.62" r="1.75" fill="#E64B35" />
<circle cx="111.56" cy="335.14" r="1.75" fill="#E64B35" />
<circle cx="111.59" cy="329.40" r="1.75" fill="#E64B35" />
<circle cx="114.96" cy="329.30" r="1.75" fill="#E64B35" />
<circle cx="109.77" cy="329.15" r="1.75" fill="#E64B35" />
<circle cx="111.12" cy="328.56" r="1.75" fill="#E64B35" />
<circle cx="111.88" cy="328.48" r="1.75" fill="#E64B35" />
<circle cx="110.13" cy="327.88" r="1.75" fill="#E64B35" />
<circle cx="113.93" cy="327.57" r="1.75" fill="#E64B35" />
<circle cx="111.27" cy="329.59" r="1.75" fill="#E64B35" />
<circle cx="113.41" cy="327.09" r="1.75" fill="#E64B35" />
<circle cx="110.53" cy="327.03" r="1.75" fill="#E64B35" />
<circle cx="112.14" cy="326.02" r="1.75" fill="#E64B35" />
<circle cx="114.03" cy="325.79" r="1.75" fill="#E64B35" />
<circle cx="112.10" cy="325.47" r="1.75" fill="#E64B35" />
<circle cx="113.97" cy="375.42" r="1.75" fill="#E64B35" />
<circle cx="114.60" cy="324.47" r="1.75" fill="#E64B35" />
<circle cx="110.84" cy="324.27" r="1.75" fill="#E64B35" />
<circle cx="114.93" cy="322.43" r="1.75" fill="#E64B35" />
<circle cx="113.14" cy="323.58" r="1.75" fill="#E64B35" />
<circle cx="114.57" cy="323.27" r="1.75" fill="#E64B35" />
<circle cx="114.81" cy="322.88" r="1.75" fill="#E64B35" />
<circle cx="110.66" cy="333.96" r="1.75" fill="#E64B35" />
<circle cx="111.28" cy="322.69" r="1.75" fill="#E64B35" />
<circle cx="113.84" cy="306.00" r="1.75" fill="#E64B35" />
<circle cx="111.97" cy="323.75" r="1.75" fill="#E64B35" />
<circle cx="112.41" cy="321.94" r="1.75" fill="#E64B35" />
<circle cx="110.37" cy="321.09" r="1.75" fill="#E64B35" />
<circle cx="110.12" cy="320.84" r="1.75" fill="#E64B35" />
<circle cx="114.25" cy="320.71" r="1.75" fill="#E64B35" />
<circle cx="112.24" cy="320.29" r="1.75" fill="#E64B35" />
<circle cx="113.95" cy="319.71" r="1.75" fill="#E64B35" />
<circle cx="112.77" cy="332.79" r="1.75" fill="#E64B35" />
<circle cx="110.68" cy="318.86" r="1.75" fill="#E64B35" />
<circle cx="111.49" cy="318.82" r="1.75" fill="#E64B35" />
<circle cx="114.23" cy="317.69" r="1.75" fill="#E64B35" />
<circle cx="109.81" cy="327.37" r="1.75" fill="#E64B35" />
<circle cx="111.84" cy="319.52" r="1.75" fill="#E64B35" />
<circle cx="110.88" cy="316.19" r="1.75" fill="#E64B35" />
<circle cx="113.91" cy="314.18" r="1.75" fill="#E64B35" />
<circle cx="112.92" cy="313.79" r="1.75" fill="#E64B35" />
<circle cx="113.55" cy="313.42" r="1.75" fill="#E64B35" />
<circle cx="114.13" cy="312.64" r="1.75" fill="#E64B35" />
<circle cx="110.22" cy="311.52" r="1.75" fill="#E64B35" />
<circle cx="111.85" cy="309.95" r="1.75" fill="#E64B35" />
<circle cx="112.12" cy="308.98" r="1.75" fill="#E64B35" />
<circle cx="114.26" cy="317.07" r="1.75" fill="#E64B35" />
<circle cx="110.41" cy="344.56" r="1.75" fill="#E64B35" />
<circle cx="113.98" cy="305.35" r="1.75" fill="#E64B35" />
<circle cx="115.12" cy="305.09" r="1.75" fill="#E64B35" />
<circle cx="110.11" cy="304.91" r="1.75" fill="#E64B35" />
<circle cx="114.90" cy="304.82" r="1.75" fill="#E64B35" />
<circle cx="112.32" cy="303.50" r="1.75" fill="#E64B35" />
<circle cx="114.09" cy="302.49" r="1.75" fill="#E64B35" />
<circle cx="110.55" cy="302.37" r="1.75" fill="#E64B35" />
<circle cx="110.31" cy="301.02" r="1.75" fill="#E64B35" />
<circle cx="113.63" cy="299.81" r="1.75" fill="#E64B35" />
<circle cx="114.71" cy="298.64" r="1.75" fill="#E64B35" />
<circle cx="114.05" cy="298.51" r="1.75" fill="#E64B35" />
<circle cx="110.40" cy="297.73" r="1.75" fill="#E64B35" />
<circle cx="109.91" cy="297.30" r="1.75" fill="#E64B35" />
<circle cx="115.09" cy="297.12" r="1.75" fill="#E64B35" />
<circle cx="112.66" cy="294.82" r="1.75" fill="#E64B35" />
<circle cx="113.98" cy="292.34" r="1.75" fill="#E64B35" />
<circle cx="111.38" cy="291.10" r="1.75" fill="#E64B35" />
<circle cx="110.77" cy="289.86" r="1.75" fill="#E64B35" />
<circle cx="114.13" cy="288.62" r="1.75" fill="#E64B35" />
<circle cx="112.71" cy="276.22" r="1.75" fill="#E64B35" />
<circle cx="111.26" cy="268.78" r="1.75" fill="#E64B35" />
<polyline points="63.50,266.00 63.50,263.40 112.50,263.40 112.50,266.00" fill="none" stroke="#333333" stroke-width="0.9"/>
<text x="88.20" y="261.60" font-size="8.85" text-anchor="middle" fill="#000" font-weight="normal" >p &lt; 2.22e–16</text>
<rect x="162.30" y="235.30" width="107.50" height="16.50" fill="#3C578B" stroke="#1a1a1a" stroke-width="0.8" />
<text x="216.05" y="247.20" font-size="8.7" text-anchor="middle" fill="#fff" font-weight="bold" >WID–cervical–BC</text>
<line x1="162.30" y1="346.14" x2="269.80" y2="346.14" stroke="#EBEBEB" stroke-width="0.5" />
<line x1="162.30" y1="308.58" x2="269.80" y2="308.58" stroke="#EBEBEB" stroke-width="0.5" />
<line x1="162.30" y1="271.02" x2="269.80" y2="271.02" stroke="#EBEBEB" stroke-width="0.5" />
<line x1="162.30" y1="364.92" x2="269.80" y2="364.92" stroke="#EBEBEB" stroke-width="1" />
<line x1="162.30" y1="327.36" x2="269.80" y2="327.36" stroke="#EBEBEB" stroke-width="1" />
<line x1="162.30" y1="289.80" x2="269.80" y2="289.80" stroke="#EBEBEB" stroke-width="1" />
<line x1="162.30" y1="252.24" x2="269.80" y2="252.24" stroke="#EBEBEB" stroke-width="1" />
<line x1="191.62" y1="251.80" x2="191.62" y2="376.60" stroke="#EBEBEB" stroke-width="1" />
<line x1="240.48" y1="251.80" x2="240.48" y2="376.60" stroke="#EBEBEB" stroke-width="1" />
<text x="157.60" y="368.02" font-size="8.8" text-anchor="end" fill="#4D4D4D" font-weight="normal" >–4</text>
<text x="157.60" y="330.46" font-size="8.8" text-anchor="end" fill="#4D4D4D" font-weight="normal" >–2</text>
<text x="157.60" y="292.90" font-size="8.8" text-anchor="end" fill="#4D4D4D" font-weight="normal" >0</text>
<text x="157.60" y="255.34" font-size="8.8" text-anchor="end" fill="#4D4D4D" font-weight="normal" >2</text>
<line x1="191.62" y1="273.43" x2="191.62" y2="285.29" stroke="#333333" stroke-width="1.0" />
<line x1="191.62" y1="293.74" x2="191.62" y2="305.19" stroke="#333333" stroke-width="1.0" />
<rect x="172.87" y="285.29" width="37.50" height="8.45" fill="#B8E4EE" stroke="none" stroke-width="1" />
<polyline points="191.62,285.29 172.87,285.29 172.87,293.74 191.62,293.74" fill="none" stroke="#333333" stroke-width="1"/>
<polyline points="191.62,285.29 210.37,285.29 210.37,293.74 191.62,293.74" fill="none" stroke="#333333" stroke-width="1" stroke-dasharray="2.2,1.6"/>
<line x1="172.87" y1="288.67" x2="191.62" y2="288.67" stroke="#333333" stroke-width="1.9" />
<line x1="191.62" y1="288.67" x2="210.37" y2="288.67" stroke="#333333" stroke-width="1.9" stroke-dasharray="2.2,1.6"/>
<line x1="240.48" y1="273.84" x2="240.48" y2="312.71" stroke="#333333" stroke-width="1.0" />
<line x1="240.48" y1="339.75" x2="240.48" y2="376.19" stroke="#333333" stroke-width="1.0" />
<rect x="221.73" y="312.71" width="37.50" height="27.04" fill="#F5B7AE" stroke="none" stroke-width="1" />
<polyline points="240.48,312.71 259.23,312.71 259.23,339.75 240.48,339.75" fill="none" stroke="#333333" stroke-width="1"/>
<polyline points="240.48,312.71 221.73,312.71 221.73,339.75 240.48,339.75" fill="none" stroke="#333333" stroke-width="1" stroke-dasharray="2.2,1.6"/>
<line x1="240.48" y1="322.85" x2="259.23" y2="322.85" stroke="#333333" stroke-width="1.9" />
<line x1="221.73" y1="322.85" x2="240.48" y2="322.85" stroke="#333333" stroke-width="1.9" stroke-dasharray="2.2,1.6"/>
<g stroke="#BDBDBD" stroke-width="0.6" opacity="0.85">
<line x1="190.39" y1="310.46" x2="242.93" y2="376.19"/>
<line x1="192.33" y1="309.22" x2="242.70" y2="295.95"/>
<line x1="190.07" y1="306.42" x2="242.08" y2="317.26"/>
<line x1="189.70" y1="305.19" x2="240.65" y2="366.36"/>
<line x1="192.34" y1="304.09" x2="239.70" y2="309.80"/>
<line x1="193.67" y1="303.16" x2="240.79" y2="308.79"/>
<line x1="192.06" y1="303.04" x2="242.62" y2="364.80"/>
<line x1="189.31" y1="301.78" x2="243.24" y2="363.04"/>
<line x1="192.39" y1="301.44" x2="239.89" y2="370.55"/>
<line x1="193.39" y1="301.42" x2="239.16" y2="353.21"/>
<line x1="194.68" y1="300.25" x2="240.92" y2="356.03"/>
<line x1="190.69" y1="298.55" x2="241.96" y2="354.08"/>
<line x1="191.23" y1="298.05" x2="238.67" y2="328.82"/>
<line x1="193.29" y1="297.85" x2="237.95" y2="328.38"/>
<line x1="193.83" y1="297.65" x2="239.10" y2="347.60"/>
<line x1="192.59" y1="297.41" x2="243.19" y2="347.04"/>
<line x1="192.23" y1="296.71" x2="241.40" y2="334.43"/>
<line x1="190.28" y1="296.69" x2="237.69" y2="346.19"/>
<line x1="188.28" y1="296.64" x2="238.52" y2="304.15"/>
<line x1="192.45" y1="296.63" x2="240.10" y2="345.36"/>
<line x1="191.71" y1="296.60" x2="242.70" y2="339.83"/>
<line x1="188.94" y1="296.21" x2="238.95" y2="307.92"/>
<line x1="192.74" y1="295.95" x2="237.81" y2="336.27"/>
<line x1="187.91" y1="295.50" x2="239.67" y2="335.60"/>
<line x1="188.66" y1="295.27" x2="239.68" y2="335.13"/>
<line x1="189.50" y1="294.63" x2="240.95" y2="335.05"/>
<line x1="192.31" y1="294.20" x2="238.83" y2="328.68"/>
<line x1="192.61" y1="293.42" x2="240.34" y2="334.93"/>
<line x1="188.61" y1="292.47" x2="242.93" y2="309.13"/>
<line x1="189.50" y1="292.29" x2="238.52" y2="334.35"/>
<line x1="188.19" y1="291.44" x2="241.26" y2="333.56"/>
<line x1="194.78" y1="291.31" x2="242.06" y2="333.22"/>
<line x1="190.77" y1="290.86" x2="239.16" y2="319.87"/>
<line x1="187.36" y1="290.60" x2="241.29" y2="328.84"/>
<line x1="192.16" y1="290.53" x2="239.64" y2="331.80"/>
<line x1="192.89" y1="290.44" x2="240.17" y2="300.48"/>
<line x1="195.45" y1="290.39" x2="241.79" y2="345.83"/>
<line x1="189.40" y1="290.15" x2="242.74" y2="327.96"/>
<line x1="187.53" y1="289.63" x2="240.66" y2="326.17"/>
<line x1="190.77" y1="289.54" x2="239.01" y2="325.55"/>
<line x1="187.65" y1="289.48" x2="242.04" y2="324.98"/>
<line x1="187.21" y1="289.34" x2="240.77" y2="324.60"/>
<line x1="195.64" y1="288.99" x2="238.48" y2="323.05"/>
<line x1="188.87" y1="288.51" x2="241.09" y2="317.06"/>
<line x1="191.68" y1="288.17" x2="241.27" y2="313.17"/>
<line x1="194.46" y1="288.12" x2="238.66" y2="322.30"/>
<line x1="189.90" y1="288.03" x2="239.36" y2="321.43"/>
<line x1="187.54" y1="288.01" x2="242.66" y2="337.38"/>
<line x1="194.15" y1="287.73" x2="241.69" y2="320.23"/>
<line x1="187.25" y1="287.33" x2="242.41" y2="293.76"/>
<line x1="193.77" y1="287.03" x2="240.29" y2="319.38"/>
<line x1="193.73" y1="286.80" x2="240.22" y2="309.39"/>
<line x1="189.23" y1="286.74" x2="238.27" y2="319.24"/>
<line x1="189.30" y1="286.57" x2="237.90" y2="317.56"/>
<line x1="190.19" y1="286.56" x2="241.88" y2="316.90"/>
<line x1="193.30" y1="286.32" x2="242.42" y2="320.54"/>
<line x1="193.44" y1="286.27" x2="239.17" y2="273.84"/>
<line x1="192.08" y1="286.18" x2="240.12" y2="315.64"/>
<line x1="194.07" y1="285.99" x2="240.61" y2="317.53"/>
<line x1="189.63" y1="285.90" x2="241.28" y2="315.20"/>
<line x1="195.55" y1="285.78" x2="238.90" y2="322.78"/>
<line x1="194.83" y1="285.73" x2="237.77" y2="315.11"/>
<line x1="189.60" y1="285.58" x2="239.00" y2="314.36"/>
<line x1="193.66" y1="285.38" x2="242.97" y2="315.11"/>
<line x1="193.65" y1="285.05" x2="239.51" y2="313.54"/>
<line x1="194.75" y1="284.88" x2="239.52" y2="308.63"/>
<line x1="189.49" y1="284.54" x2="242.76" y2="312.28"/>
<line x1="192.68" y1="284.54" x2="241.56" y2="312.15"/>
<line x1="192.95" y1="284.29" x2="243.16" y2="312.08"/>
<line x1="191.37" y1="284.15" x2="242.38" y2="335.00"/>
<line x1="193.20" y1="283.91" x2="242.48" y2="351.65"/>
<line x1="191.12" y1="283.76" x2="241.74" y2="309.19"/>
<line x1="192.18" y1="283.74" x2="239.41" y2="359.44"/>
<line x1="189.35" y1="283.54" x2="241.17" y2="366.80"/>
<line x1="188.30" y1="283.40" x2="242.78" y2="296.09"/>
<line x1="188.87" y1="282.95" x2="237.83" y2="318.52"/>
<line x1="188.58" y1="282.87" x2="242.88" y2="307.63"/>
<line x1="190.42" y1="282.77" x2="238.48" y2="306.33"/>
<line x1="188.06" y1="282.24" x2="237.92" y2="305.97"/>
<line x1="193.04" y1="281.66" x2="241.23" y2="302.20"/>
<line x1="193.07" y1="281.51" x2="241.81" y2="365.22"/>
<line x1="188.45" y1="281.18" x2="240.99" y2="297.68"/>
<line x1="190.65" y1="280.36" x2="242.26" y2="303.78"/>
<line x1="193.86" y1="280.10" x2="242.67" y2="303.52"/>
<line x1="188.63" y1="279.62" x2="242.54" y2="303.33"/>
<line x1="194.43" y1="279.27" x2="242.97" y2="302.98"/>
<line x1="188.99" y1="278.81" x2="238.83" y2="313.59"/>
<line x1="189.04" y1="278.65" x2="237.87" y2="302.08"/>
<line x1="193.92" y1="278.56" x2="242.23" y2="300.64"/>
<line x1="192.50" y1="278.51" x2="242.30" y2="322.06"/>
<line x1="192.49" y1="278.50" x2="239.29" y2="300.27"/>
<line x1="189.11" y1="277.20" x2="238.23" y2="298.05"/>
<line x1="193.21" y1="276.84" x2="238.83" y2="358.65"/>
<line x1="190.50" y1="276.83" x2="240.05" y2="346.54"/>
<line x1="188.74" y1="276.16" x2="239.12" y2="304.16"/>
<line x1="190.35" y1="275.51" x2="241.69" y2="284.17"/>
<line x1="190.87" y1="274.91" x2="239.48" y2="292.24"/>
<line x1="194.08" y1="273.43" x2="240.50" y2="291.80"/>
<line x1="193.38" y1="272.24" x2="241.14" y2="290.59"/>
<line x1="189.40" y1="271.15" x2="239.99" y2="287.92"/>
<line x1="191.35" y1="269.04" x2="242.01" y2="365.39"/>
<line x1="191.05" y1="267.26" x2="241.63" y2="304.02"/>
</g>
<circle cx="190.39" cy="310.46" r="1.75" fill="#4DBBD5" />
<circle cx="192.33" cy="309.22" r="1.75" fill="#4DBBD5" />
<circle cx="190.07" cy="306.42" r="1.75" fill="#4DBBD5" />
<circle cx="189.70" cy="305.19" r="1.75" fill="#4DBBD5" />
<circle cx="192.34" cy="304.09" r="1.75" fill="#4DBBD5" />
<circle cx="193.67" cy="303.16" r="1.75" fill="#4DBBD5" />
<circle cx="192.06" cy="303.04" r="1.75" fill="#4DBBD5" />
<circle cx="189.31" cy="301.78" r="1.75" fill="#4DBBD5" />
<circle cx="192.39" cy="301.44" r="1.75" fill="#4DBBD5" />
<circle cx="193.39" cy="301.42" r="1.75" fill="#4DBBD5" />
<circle cx="194.68" cy="300.25" r="1.75" fill="#4DBBD5" />
<circle cx="190.69" cy="298.55" r="1.75" fill="#4DBBD5" />
<circle cx="191.23" cy="298.05" r="1.75" fill="#4DBBD5" />
<circle cx="193.29" cy="297.85" r="1.75" fill="#4DBBD5" />
<circle cx="193.83" cy="297.65" r="1.75" fill="#4DBBD5" />
<circle cx="192.59" cy="297.41" r="1.75" fill="#4DBBD5" />
<circle cx="192.23" cy="296.71" r="1.75" fill="#4DBBD5" />
<circle cx="190.28" cy="296.69" r="1.75" fill="#4DBBD5" />
<circle cx="188.28" cy="296.64" r="1.75" fill="#4DBBD5" />
<circle cx="192.45" cy="296.63" r="1.75" fill="#4DBBD5" />
<circle cx="191.71" cy="296.60" r="1.75" fill="#4DBBD5" />
<circle cx="188.94" cy="296.21" r="1.75" fill="#4DBBD5" />
<circle cx="192.74" cy="295.95" r="1.75" fill="#4DBBD5" />
<circle cx="187.91" cy="295.50" r="1.75" fill="#4DBBD5" />
<circle cx="188.66" cy="295.27" r="1.75" fill="#4DBBD5" />
<circle cx="189.50" cy="294.63" r="1.75" fill="#4DBBD5" />
<circle cx="192.31" cy="294.20" r="1.75" fill="#4DBBD5" />
<circle cx="192.61" cy="293.42" r="1.75" fill="#4DBBD5" />
<circle cx="188.61" cy="292.47" r="1.75" fill="#4DBBD5" />
<circle cx="189.50" cy="292.29" r="1.75" fill="#4DBBD5" />
<circle cx="188.19" cy="291.44" r="1.75" fill="#4DBBD5" />
<circle cx="194.78" cy="291.31" r="1.75" fill="#4DBBD5" />
<circle cx="190.77" cy="290.86" r="1.75" fill="#4DBBD5" />
<circle cx="187.36" cy="290.60" r="1.75" fill="#4DBBD5" />
<circle cx="192.16" cy="290.53" r="1.75" fill="#4DBBD5" />
<circle cx="192.89" cy="290.44" r="1.75" fill="#4DBBD5" />
<circle cx="195.45" cy="290.39" r="1.75" fill="#4DBBD5" />
<circle cx="189.40" cy="290.15" r="1.75" fill="#4DBBD5" />
<circle cx="187.53" cy="289.63" r="1.75" fill="#4DBBD5" />
<circle cx="190.77" cy="289.54" r="1.75" fill="#4DBBD5" />
<circle cx="187.65" cy="289.48" r="1.75" fill="#4DBBD5" />
<circle cx="187.21" cy="289.34" r="1.75" fill="#4DBBD5" />
<circle cx="195.64" cy="288.99" r="1.75" fill="#4DBBD5" />
<circle cx="188.87" cy="288.51" r="1.75" fill="#4DBBD5" />
<circle cx="191.68" cy="288.17" r="1.75" fill="#4DBBD5" />
<circle cx="194.46" cy="288.12" r="1.75" fill="#4DBBD5" />
<circle cx="189.90" cy="288.03" r="1.75" fill="#4DBBD5" />
<circle cx="187.54" cy="288.01" r="1.75" fill="#4DBBD5" />
<circle cx="194.15" cy="287.73" r="1.75" fill="#4DBBD5" />
<circle cx="187.25" cy="287.33" r="1.75" fill="#4DBBD5" />
<circle cx="193.77" cy="287.03" r="1.75" fill="#4DBBD5" />
<circle cx="193.73" cy="286.80" r="1.75" fill="#4DBBD5" />
<circle cx="189.23" cy="286.74" r="1.75" fill="#4DBBD5" />
<circle cx="189.30" cy="286.57" r="1.75" fill="#4DBBD5" />
<circle cx="190.19" cy="286.56" r="1.75" fill="#4DBBD5" />
<circle cx="193.30" cy="286.32" r="1.75" fill="#4DBBD5" />
<circle cx="193.44" cy="286.27" r="1.75" fill="#4DBBD5" />
<circle cx="192.08" cy="286.18" r="1.75" fill="#4DBBD5" />
<circle cx="194.07" cy="285.99" r="1.75" fill="#4DBBD5" />
<circle cx="189.63" cy="285.90" r="1.75" fill="#4DBBD5" />
<circle cx="195.55" cy="285.78" r="1.75" fill="#4DBBD5" />
<circle cx="194.83" cy="285.73" r="1.75" fill="#4DBBD5" />
<circle cx="189.60" cy="285.58" r="1.75" fill="#4DBBD5" />
<circle cx="193.66" cy="285.38" r="1.75" fill="#4DBBD5" />
<circle cx="193.65" cy="285.05" r="1.75" fill="#4DBBD5" />
<circle cx="194.75" cy="284.88" r="1.75" fill="#4DBBD5" />
<circle cx="189.49" cy="284.54" r="1.75" fill="#4DBBD5" />
<circle cx="192.68" cy="284.54" r="1.75" fill="#4DBBD5" />
<circle cx="192.95" cy="284.29" r="1.75" fill="#4DBBD5" />
<circle cx="191.37" cy="284.15" r="1.75" fill="#4DBBD5" />
<circle cx="193.20" cy="283.91" r="1.75" fill="#4DBBD5" />
<circle cx="191.12" cy="283.76" r="1.75" fill="#4DBBD5" />
<circle cx="192.18" cy="283.74" r="1.75" fill="#4DBBD5" />
<circle cx="189.35" cy="283.54" r="1.75" fill="#4DBBD5" />
<circle cx="188.30" cy="283.40" r="1.75" fill="#4DBBD5" />
<circle cx="188.87" cy="282.95" r="1.75" fill="#4DBBD5" />
<circle cx="188.58" cy="282.87" r="1.75" fill="#4DBBD5" />
<circle cx="190.42" cy="282.77" r="1.75" fill="#4DBBD5" />
<circle cx="188.06" cy="282.24" r="1.75" fill="#4DBBD5" />
<circle cx="193.04" cy="281.66" r="1.75" fill="#4DBBD5" />
<circle cx="193.07" cy="281.51" r="1.75" fill="#4DBBD5" />
<circle cx="188.45" cy="281.18" r="1.75" fill="#4DBBD5" />
<circle cx="190.65" cy="280.36" r="1.75" fill="#4DBBD5" />
<circle cx="193.86" cy="280.10" r="1.75" fill="#4DBBD5" />
<circle cx="188.63" cy="279.62" r="1.75" fill="#4DBBD5" />
<circle cx="194.43" cy="279.27" r="1.75" fill="#4DBBD5" />
<circle cx="188.99" cy="278.81" r="1.75" fill="#4DBBD5" />
<circle cx="189.04" cy="278.65" r="1.75" fill="#4DBBD5" />
<circle cx="193.92" cy="278.56" r="1.75" fill="#4DBBD5" />
<circle cx="192.50" cy="278.51" r="1.75" fill="#4DBBD5" />
<circle cx="192.49" cy="278.50" r="1.75" fill="#4DBBD5" />
<circle cx="189.11" cy="277.20" r="1.75" fill="#4DBBD5" />
<circle cx="193.21" cy="276.84" r="1.75" fill="#4DBBD5" />
<circle cx="190.50" cy="276.83" r="1.75" fill="#4DBBD5" />
<circle cx="188.74" cy="276.16" r="1.75" fill="#4DBBD5" />
<circle cx="190.35" cy="275.51" r="1.75" fill="#4DBBD5" />
<circle cx="190.87" cy="274.91" r="1.75" fill="#4DBBD5" />
<circle cx="194.08" cy="273.43" r="1.75" fill="#4DBBD5" />
<circle cx="193.38" cy="272.24" r="1.75" fill="#4DBBD5" />
<circle cx="189.40" cy="271.15" r="1.75" fill="#4DBBD5" />
<circle cx="191.35" cy="269.04" r="1.75" fill="#4DBBD5" />
<circle cx="191.05" cy="267.26" r="1.75" fill="#4DBBD5" />
<circle cx="242.93" cy="376.19" r="1.75" fill="#E64B35" />
<circle cx="242.70" cy="295.95" r="1.75" fill="#E64B35" />
<circle cx="242.08" cy="317.26" r="1.75" fill="#E64B35" />
<circle cx="240.65" cy="366.36" r="1.75" fill="#E64B35" />
<circle cx="239.70" cy="309.80" r="1.75" fill="#E64B35" />
<circle cx="240.79" cy="308.79" r="1.75" fill="#E64B35" />
<circle cx="242.62" cy="364.80" r="1.75" fill="#E64B35" />
<circle cx="243.24" cy="363.04" r="1.75" fill="#E64B35" />
<circle cx="239.89" cy="370.55" r="1.75" fill="#E64B35" />
<circle cx="239.16" cy="353.21" r="1.75" fill="#E64B35" />
<circle cx="240.92" cy="356.03" r="1.75" fill="#E64B35" />
<circle cx="241.96" cy="354.08" r="1.75" fill="#E64B35" />
<circle cx="238.67" cy="328.82" r="1.75" fill="#E64B35" />
<circle cx="237.95" cy="328.38" r="1.75" fill="#E64B35" />
<circle cx="239.10" cy="347.60" r="1.75" fill="#E64B35" />
<circle cx="243.19" cy="347.04" r="1.75" fill="#E64B35" />
<circle cx="241.40" cy="334.43" r="1.75" fill="#E64B35" />
<circle cx="237.69" cy="346.19" r="1.75" fill="#E64B35" />
<circle cx="238.52" cy="304.15" r="1.75" fill="#E64B35" />
<circle cx="240.10" cy="345.36" r="1.75" fill="#E64B35" />
<circle cx="242.70" cy="339.83" r="1.75" fill="#E64B35" />
<circle cx="238.95" cy="307.92" r="1.75" fill="#E64B35" />
<circle cx="237.81" cy="336.27" r="1.75" fill="#E64B35" />
<circle cx="239.67" cy="335.60" r="1.75" fill="#E64B35" />
<circle cx="239.68" cy="335.13" r="1.75" fill="#E64B35" />
<circle cx="240.95" cy="335.05" r="1.75" fill="#E64B35" />
<circle cx="238.83" cy="328.68" r="1.75" fill="#E64B35" />
<circle cx="240.34" cy="334.93" r="1.75" fill="#E64B35" />
<circle cx="242.93" cy="309.13" r="1.75" fill="#E64B35" />
<circle cx="238.52" cy="334.35" r="1.75" fill="#E64B35" />
<circle cx="241.26" cy="333.56" r="1.75" fill="#E64B35" />
<circle cx="242.06" cy="333.22" r="1.75" fill="#E64B35" />
<circle cx="239.16" cy="319.87" r="1.75" fill="#E64B35" />
<circle cx="241.29" cy="328.84" r="1.75" fill="#E64B35" />
<circle cx="239.64" cy="331.80" r="1.75" fill="#E64B35" />
<circle cx="240.17" cy="300.48" r="1.75" fill="#E64B35" />
<circle cx="241.79" cy="345.83" r="1.75" fill="#E64B35" />
<circle cx="242.74" cy="327.96" r="1.75" fill="#E64B35" />
<circle cx="240.66" cy="326.17" r="1.75" fill="#E64B35" />
<circle cx="239.01" cy="325.55" r="1.75" fill="#E64B35" />
<circle cx="242.04" cy="324.98" r="1.75" fill="#E64B35" />
<circle cx="240.77" cy="324.60" r="1.75" fill="#E64B35" />
<circle cx="238.48" cy="323.05" r="1.75" fill="#E64B35" />
<circle cx="241.09" cy="317.06" r="1.75" fill="#E64B35" />
<circle cx="241.27" cy="313.17" r="1.75" fill="#E64B35" />
<circle cx="238.66" cy="322.30" r="1.75" fill="#E64B35" />
<circle cx="239.36" cy="321.43" r="1.75" fill="#E64B35" />
<circle cx="242.66" cy="337.38" r="1.75" fill="#E64B35" />
<circle cx="241.69" cy="320.23" r="1.75" fill="#E64B35" />
<circle cx="242.41" cy="293.76" r="1.75" fill="#E64B35" />
<circle cx="240.29" cy="319.38" r="1.75" fill="#E64B35" />
<circle cx="240.22" cy="309.39" r="1.75" fill="#E64B35" />
<circle cx="238.27" cy="319.24" r="1.75" fill="#E64B35" />
<circle cx="237.90" cy="317.56" r="1.75" fill="#E64B35" />
<circle cx="241.88" cy="316.90" r="1.75" fill="#E64B35" />
<circle cx="242.42" cy="320.54" r="1.75" fill="#E64B35" />
<circle cx="239.17" cy="273.84" r="1.75" fill="#E64B35" />
<circle cx="240.12" cy="315.64" r="1.75" fill="#E64B35" />
<circle cx="240.61" cy="317.53" r="1.75" fill="#E64B35" />
<circle cx="241.28" cy="315.20" r="1.75" fill="#E64B35" />
<circle cx="238.90" cy="322.78" r="1.75" fill="#E64B35" />
<circle cx="237.77" cy="315.11" r="1.75" fill="#E64B35" />
<circle cx="239.00" cy="314.36" r="1.75" fill="#E64B35" />
<circle cx="242.97" cy="315.11" r="1.75" fill="#E64B35" />
<circle cx="239.51" cy="313.54" r="1.75" fill="#E64B35" />
<circle cx="239.52" cy="308.63" r="1.75" fill="#E64B35" />
<circle cx="242.76" cy="312.28" r="1.75" fill="#E64B35" />
<circle cx="241.56" cy="312.15" r="1.75" fill="#E64B35" />
<circle cx="243.16" cy="312.08" r="1.75" fill="#E64B35" />
<circle cx="242.38" cy="335.00" r="1.75" fill="#E64B35" />
<circle cx="242.48" cy="351.65" r="1.75" fill="#E64B35" />
<circle cx="241.74" cy="309.19" r="1.75" fill="#E64B35" />
<circle cx="239.41" cy="359.44" r="1.75" fill="#E64B35" />
<circle cx="241.17" cy="366.80" r="1.75" fill="#E64B35" />
<circle cx="242.78" cy="296.09" r="1.75" fill="#E64B35" />
<circle cx="237.83" cy="318.52" r="1.75" fill="#E64B35" />
<circle cx="242.88" cy="307.63" r="1.75" fill="#E64B35" />
<circle cx="238.48" cy="306.33" r="1.75" fill="#E64B35" />
<circle cx="237.92" cy="305.97" r="1.75" fill="#E64B35" />
<circle cx="241.23" cy="302.20" r="1.75" fill="#E64B35" />
<circle cx="241.81" cy="365.22" r="1.75" fill="#E64B35" />
<circle cx="240.99" cy="297.68" r="1.75" fill="#E64B35" />
<circle cx="242.26" cy="303.78" r="1.75" fill="#E64B35" />
<circle cx="242.67" cy="303.52" r="1.75" fill="#E64B35" />
<circle cx="242.54" cy="303.33" r="1.75" fill="#E64B35" />
<circle cx="242.97" cy="302.98" r="1.75" fill="#E64B35" />
<circle cx="238.83" cy="313.59" r="1.75" fill="#E64B35" />
<circle cx="237.87" cy="302.08" r="1.75" fill="#E64B35" />
<circle cx="242.23" cy="300.64" r="1.75" fill="#E64B35" />
<circle cx="242.30" cy="322.06" r="1.75" fill="#E64B35" />
<circle cx="239.29" cy="300.27" r="1.75" fill="#E64B35" />
<circle cx="238.23" cy="298.05" r="1.75" fill="#E64B35" />
<circle cx="238.83" cy="358.65" r="1.75" fill="#E64B35" />
<circle cx="240.05" cy="346.54" r="1.75" fill="#E64B35" />
<circle cx="239.12" cy="304.16" r="1.75" fill="#E64B35" />
<circle cx="241.69" cy="284.17" r="1.75" fill="#E64B35" />
<circle cx="239.48" cy="292.24" r="1.75" fill="#E64B35" />
<circle cx="240.50" cy="291.80" r="1.75" fill="#E64B35" />
<circle cx="241.14" cy="290.59" r="1.75" fill="#E64B35" />
<circle cx="239.99" cy="287.92" r="1.75" fill="#E64B35" />
<circle cx="242.01" cy="365.39" r="1.75" fill="#E64B35" />
<circle cx="241.63" cy="304.02" r="1.75" fill="#E64B35" />
<polyline points="191.62,266.00 191.62,263.40 240.48,263.40 240.48,266.00" fill="none" stroke="#333333" stroke-width="0.9"/>
<text x="216.25" y="261.60" font-size="8.85" text-anchor="middle" fill="#000" font-weight="normal" >p &lt; 2.22e–16</text>
<rect x="290.20" y="235.30" width="107.50" height="16.50" fill="#A41B35" stroke="#1a1a1a" stroke-width="0.8" />
<text x="343.95" y="247.20" font-size="8.7" text-anchor="middle" fill="#fff" font-weight="bold" >WID–blood–BC</text>
<line x1="290.20" y1="356.62" x2="397.70" y2="356.62" stroke="#EBEBEB" stroke-width="0.5" />
<line x1="290.20" y1="324.28" x2="397.70" y2="324.28" stroke="#EBEBEB" stroke-width="0.5" />
<line x1="290.20" y1="291.93" x2="397.70" y2="291.93" stroke="#EBEBEB" stroke-width="0.5" />
<line x1="290.20" y1="259.58" x2="397.70" y2="259.58" stroke="#EBEBEB" stroke-width="0.5" />
<line x1="290.20" y1="372.80" x2="397.70" y2="372.80" stroke="#EBEBEB" stroke-width="1" />
<line x1="290.20" y1="340.45" x2="397.70" y2="340.45" stroke="#EBEBEB" stroke-width="1" />
<line x1="290.20" y1="308.10" x2="397.70" y2="308.10" stroke="#EBEBEB" stroke-width="1" />
<line x1="290.20" y1="275.75" x2="397.70" y2="275.75" stroke="#EBEBEB" stroke-width="1" />
<line x1="319.52" y1="251.80" x2="319.52" y2="376.60" stroke="#EBEBEB" stroke-width="1" />
<line x1="368.38" y1="251.80" x2="368.38" y2="376.60" stroke="#EBEBEB" stroke-width="1" />
<text x="285.50" y="375.90" font-size="8.8" text-anchor="end" fill="#4D4D4D" font-weight="normal" >–2</text>
<text x="285.50" y="343.55" font-size="8.8" text-anchor="end" fill="#4D4D4D" font-weight="normal" >–1</text>
<text x="285.50" y="311.20" font-size="8.8" text-anchor="end" fill="#4D4D4D" font-weight="normal" >0</text>
<text x="285.50" y="278.85" font-size="8.8" text-anchor="end" fill="#4D4D4D" font-weight="normal" >1</text>
<line x1="319.52" y1="289.57" x2="319.52" y2="302.92" stroke="#333333" stroke-width="1.0" />
<line x1="319.52" y1="313.60" x2="319.52" y2="327.62" stroke="#333333" stroke-width="1.0" />
<rect x="300.77" y="302.92" width="37.50" height="10.68" fill="#B8E4EE" stroke="none" stroke-width="1" />
<polyline points="319.52,302.92 300.77,302.92 300.77,313.60 319.52,313.60" fill="none" stroke="#333333" stroke-width="1"/>
<polyline points="319.52,302.92 338.27,302.92 338.27,313.60 319.52,313.60" fill="none" stroke="#333333" stroke-width="1" stroke-dasharray="2.2,1.6"/>
<line x1="300.77" y1="305.84" x2="319.52" y2="305.84" stroke="#333333" stroke-width="1.9" />
<line x1="319.52" y1="305.84" x2="338.27" y2="305.84" stroke="#333333" stroke-width="1.9" stroke-dasharray="2.2,1.6"/>
<line x1="368.38" y1="284.93" x2="368.38" y2="304.22" stroke="#333333" stroke-width="1.0" />
<line x1="368.38" y1="322.66" x2="368.38" y2="350.25" stroke="#333333" stroke-width="1.0" />
<rect x="349.63" y="304.22" width="37.50" height="18.44" fill="#F5B7AE" stroke="none" stroke-width="1" />
<polyline points="368.38,304.22 387.13,304.22 387.13,322.66 368.38,322.66" fill="none" stroke="#333333" stroke-width="1"/>
<polyline points="368.38,304.22 349.63,304.22 349.63,322.66 368.38,322.66" fill="none" stroke="#333333" stroke-width="1" stroke-dasharray="2.2,1.6"/>
<line x1="368.38" y1="313.28" x2="387.13" y2="313.28" stroke="#333333" stroke-width="1.9" />
<line x1="349.63" y1="313.28" x2="368.38" y2="313.28" stroke="#333333" stroke-width="1.9" stroke-dasharray="2.2,1.6"/>
<g stroke="#BDBDBD" stroke-width="0.6" opacity="0.85">
<line x1="319.51" y1="333.98" x2="368.51" y2="331.32"/>
<line x1="321.04" y1="327.62" x2="369.91" y2="353.39"/>
<line x1="319.03" y1="320.43" x2="369.48" y2="295.08"/>
<line x1="318.92" y1="319.94" x2="365.96" y2="350.16"/>
<line x1="320.68" y1="318.99" x2="368.91" y2="306.32"/>
<line x1="322.73" y1="318.84" x2="369.27" y2="341.38"/>
<line x1="317.20" y1="317.76" x2="369.89" y2="341.00"/>
<line x1="319.85" y1="317.24" x2="366.05" y2="285.84"/>
<line x1="319.33" y1="317.11" x2="370.60" y2="334.43"/>
<line x1="320.39" y1="316.93" x2="367.97" y2="334.29"/>
<line x1="316.05" y1="316.13" x2="369.33" y2="296.65"/>
<line x1="323.11" y1="314.67" x2="370.39" y2="324.95"/>
<line x1="317.44" y1="314.58" x2="366.26" y2="323.47"/>
<line x1="319.31" y1="314.40" x2="367.12" y2="299.09"/>
<line x1="320.03" y1="314.24" x2="368.11" y2="298.78"/>
<line x1="321.42" y1="312.67" x2="370.75" y2="325.05"/>
<line x1="318.47" y1="312.36" x2="369.77" y2="298.89"/>
<line x1="321.05" y1="312.29" x2="366.39" y2="334.25"/>
<line x1="321.59" y1="311.78" x2="367.22" y2="329.77"/>
<line x1="319.98" y1="311.26" x2="368.37" y2="307.98"/>
<line x1="320.89" y1="311.21" x2="370.57" y2="293.17"/>
<line x1="322.87" y1="311.18" x2="365.88" y2="323.41"/>
<line x1="315.71" y1="310.98" x2="365.92" y2="326.63"/>
<line x1="322.68" y1="310.48" x2="369.43" y2="330.51"/>
<line x1="320.49" y1="310.37" x2="367.76" y2="307.35"/>
<line x1="317.96" y1="310.26" x2="368.94" y2="324.46"/>
<line x1="323.31" y1="310.21" x2="370.26" y2="324.34"/>
<line x1="320.43" y1="309.92" x2="367.35" y2="320.02"/>
<line x1="323.29" y1="309.69" x2="369.66" y2="327.55"/>
<line x1="319.26" y1="309.08" x2="366.51" y2="322.98"/>
<line x1="323.53" y1="308.74" x2="366.24" y2="322.75"/>
<line x1="323.45" y1="308.47" x2="366.50" y2="321.94"/>
<line x1="322.13" y1="308.45" x2="368.25" y2="321.20"/>
<line x1="321.94" y1="308.25" x2="368.12" y2="315.38"/>
<line x1="317.52" y1="307.97" x2="369.81" y2="319.44"/>
<line x1="318.06" y1="307.82" x2="367.15" y2="320.62"/>
<line x1="320.60" y1="307.42" x2="369.23" y2="315.39"/>
<line x1="322.21" y1="307.26" x2="368.94" y2="302.74"/>
<line x1="322.82" y1="307.14" x2="369.65" y2="319.70"/>
<line x1="315.19" y1="307.10" x2="366.43" y2="311.00"/>
<line x1="322.50" y1="306.99" x2="368.86" y2="310.89"/>
<line x1="323.79" y1="306.99" x2="366.96" y2="316.15"/>
<line x1="318.50" y1="306.72" x2="367.69" y2="326.64"/>
<line x1="321.98" y1="306.49" x2="366.89" y2="297.87"/>
<line x1="319.07" y1="305.79" x2="369.44" y2="297.00"/>
<line x1="317.88" y1="305.73" x2="367.08" y2="350.25"/>
<line x1="316.38" y1="305.62" x2="370.74" y2="314.77"/>
<line x1="321.93" y1="305.58" x2="369.97" y2="299.63"/>
<line x1="317.61" y1="305.08" x2="366.37" y2="300.60"/>
<line x1="323.04" y1="304.93" x2="371.14" y2="331.37"/>
<line x1="316.37" y1="304.49" x2="371.04" y2="319.31"/>
<line x1="322.17" y1="304.47" x2="368.65" y2="310.91"/>
<line x1="321.98" y1="304.31" x2="368.38" y2="305.14"/>
<line x1="319.82" y1="304.17" x2="368.61" y2="309.68"/>
<line x1="319.38" y1="304.15" x2="367.72" y2="309.60"/>
<line x1="322.04" y1="303.78" x2="369.63" y2="309.21"/>
<line x1="323.73" y1="303.60" x2="367.31" y2="312.09"/>
<line x1="315.67" y1="303.43" x2="367.80" y2="308.59"/>
<line x1="321.32" y1="303.24" x2="370.77" y2="297.73"/>
<line x1="320.27" y1="303.24" x2="365.63" y2="308.12"/>
<line x1="318.54" y1="302.49" x2="368.61" y2="284.93"/>
<line x1="319.82" y1="302.14" x2="367.57" y2="376.04"/>
<line x1="315.83" y1="302.09" x2="367.81" y2="332.74"/>
<line x1="319.70" y1="302.03" x2="367.04" y2="298.81"/>
<line x1="322.30" y1="301.72" x2="367.38" y2="306.19"/>
<line x1="319.57" y1="301.62" x2="366.71" y2="302.67"/>
<line x1="317.14" y1="301.46" x2="366.10" y2="336.12"/>
<line x1="322.05" y1="301.31" x2="367.20" y2="308.91"/>
<line x1="320.16" y1="301.23" x2="367.59" y2="293.07"/>
<line x1="321.82" y1="301.19" x2="370.38" y2="301.63"/>
<line x1="317.46" y1="300.52" x2="370.75" y2="309.89"/>
<line x1="319.46" y1="300.46" x2="370.43" y2="303.15"/>
<line x1="318.49" y1="300.10" x2="368.18" y2="318.82"/>
<line x1="316.19" y1="299.88" x2="367.35" y2="301.59"/>
<line x1="315.80" y1="299.65" x2="367.15" y2="341.40"/>
<line x1="320.37" y1="299.58" x2="366.11" y2="296.10"/>
<line x1="317.18" y1="299.58" x2="370.46" y2="300.61"/>
<line x1="320.04" y1="299.56" x2="368.87" y2="333.60"/>
<line x1="317.28" y1="299.05" x2="370.76" y2="306.85"/>
<line x1="317.81" y1="298.80" x2="366.13" y2="308.51"/>
<line x1="319.11" y1="298.66" x2="368.90" y2="331.83"/>
<line x1="320.35" y1="298.39" x2="366.31" y2="320.82"/>
<line x1="322.14" y1="298.24" x2="367.48" y2="304.68"/>
<line x1="323.22" y1="297.54" x2="367.70" y2="320.69"/>
<line x1="316.00" y1="297.36" x2="365.78" y2="327.87"/>
<line x1="318.55" y1="297.30" x2="369.53" y2="297.72"/>
<line x1="319.42" y1="297.16" x2="370.32" y2="320.39"/>
<line x1="322.44" y1="297.09" x2="370.41" y2="331.85"/>
<line x1="320.54" y1="296.64" x2="370.75" y2="301.14"/>
<line x1="320.96" y1="295.19" x2="366.09" y2="270.90"/>
<line x1="318.27" y1="294.54" x2="366.89" y2="318.17"/>
<line x1="316.77" y1="293.74" x2="370.74" y2="305.05"/>
<line x1="319.56" y1="293.66" x2="366.60" y2="289.16"/>
<line x1="321.85" y1="293.59" x2="367.66" y2="310.08"/>
<line x1="317.77" y1="293.22" x2="369.62" y2="291.08"/>
<line x1="317.36" y1="293.21" x2="370.86" y2="295.53"/>
<line x1="322.30" y1="291.82" x2="365.91" y2="305.37"/>
<line x1="319.83" y1="289.57" x2="365.74" y2="300.90"/>
<line x1="321.73" y1="286.88" x2="367.03" y2="295.53"/>
<line x1="319.57" y1="280.60" x2="369.72" y2="269.28"/>
</g>
<circle cx="319.51" cy="333.98" r="1.75" fill="#4DBBD5" />
<circle cx="321.04" cy="327.62" r="1.75" fill="#4DBBD5" />
<circle cx="319.03" cy="320.43" r="1.75" fill="#4DBBD5" />
<circle cx="318.92" cy="319.94" r="1.75" fill="#4DBBD5" />
<circle cx="320.68" cy="318.99" r="1.75" fill="#4DBBD5" />
<circle cx="322.73" cy="318.84" r="1.75" fill="#4DBBD5" />
<circle cx="317.20" cy="317.76" r="1.75" fill="#4DBBD5" />
<circle cx="319.85" cy="317.24" r="1.75" fill="#4DBBD5" />
<circle cx="319.33" cy="317.11" r="1.75" fill="#4DBBD5" />
<circle cx="320.39" cy="316.93" r="1.75" fill="#4DBBD5" />
<circle cx="316.05" cy="316.13" r="1.75" fill="#4DBBD5" />
<circle cx="323.11" cy="314.67" r="1.75" fill="#4DBBD5" />
<circle cx="317.44" cy="314.58" r="1.75" fill="#4DBBD5" />
<circle cx="319.31" cy="314.40" r="1.75" fill="#4DBBD5" />
<circle cx="320.03" cy="314.24" r="1.75" fill="#4DBBD5" />
<circle cx="321.42" cy="312.67" r="1.75" fill="#4DBBD5" />
<circle cx="318.47" cy="312.36" r="1.75" fill="#4DBBD5" />
<circle cx="321.05" cy="312.29" r="1.75" fill="#4DBBD5" />
<circle cx="321.59" cy="311.78" r="1.75" fill="#4DBBD5" />
<circle cx="319.98" cy="311.26" r="1.75" fill="#4DBBD5" />
<circle cx="320.89" cy="311.21" r="1.75" fill="#4DBBD5" />
<circle cx="322.87" cy="311.18" r="1.75" fill="#4DBBD5" />
<circle cx="315.71" cy="310.98" r="1.75" fill="#4DBBD5" />
<circle cx="322.68" cy="310.48" r="1.75" fill="#4DBBD5" />
<circle cx="320.49" cy="310.37" r="1.75" fill="#4DBBD5" />
<circle cx="317.96" cy="310.26" r="1.75" fill="#4DBBD5" />
<circle cx="323.31" cy="310.21" r="1.75" fill="#4DBBD5" />
<circle cx="320.43" cy="309.92" r="1.75" fill="#4DBBD5" />
<circle cx="323.29" cy="309.69" r="1.75" fill="#4DBBD5" />
<circle cx="319.26" cy="309.08" r="1.75" fill="#4DBBD5" />
<circle cx="323.53" cy="308.74" r="1.75" fill="#4DBBD5" />
<circle cx="323.45" cy="308.47" r="1.75" fill="#4DBBD5" />
<circle cx="322.13" cy="308.45" r="1.75" fill="#4DBBD5" />
<circle cx="321.94" cy="308.25" r="1.75" fill="#4DBBD5" />
<circle cx="317.52" cy="307.97" r="1.75" fill="#4DBBD5" />
<circle cx="318.06" cy="307.82" r="1.75" fill="#4DBBD5" />
<circle cx="320.60" cy="307.42" r="1.75" fill="#4DBBD5" />
<circle cx="322.21" cy="307.26" r="1.75" fill="#4DBBD5" />
<circle cx="322.82" cy="307.14" r="1.75" fill="#4DBBD5" />
<circle cx="315.19" cy="307.10" r="1.75" fill="#4DBBD5" />
<circle cx="322.50" cy="306.99" r="1.75" fill="#4DBBD5" />
<circle cx="323.79" cy="306.99" r="1.75" fill="#4DBBD5" />
<circle cx="318.50" cy="306.72" r="1.75" fill="#4DBBD5" />
<circle cx="321.98" cy="306.49" r="1.75" fill="#4DBBD5" />
<circle cx="319.07" cy="305.79" r="1.75" fill="#4DBBD5" />
<circle cx="317.88" cy="305.73" r="1.75" fill="#4DBBD5" />
<circle cx="316.38" cy="305.62" r="1.75" fill="#4DBBD5" />
<circle cx="321.93" cy="305.58" r="1.75" fill="#4DBBD5" />
<circle cx="317.61" cy="305.08" r="1.75" fill="#4DBBD5" />
<circle cx="323.04" cy="304.93" r="1.75" fill="#4DBBD5" />
<circle cx="316.37" cy="304.49" r="1.75" fill="#4DBBD5" />
<circle cx="322.17" cy="304.47" r="1.75" fill="#4DBBD5" />
<circle cx="321.98" cy="304.31" r="1.75" fill="#4DBBD5" />
<circle cx="319.82" cy="304.17" r="1.75" fill="#4DBBD5" />
<circle cx="319.38" cy="304.15" r="1.75" fill="#4DBBD5" />
<circle cx="322.04" cy="303.78" r="1.75" fill="#4DBBD5" />
<circle cx="323.73" cy="303.60" r="1.75" fill="#4DBBD5" />
<circle cx="315.67" cy="303.43" r="1.75" fill="#4DBBD5" />
<circle cx="321.32" cy="303.24" r="1.75" fill="#4DBBD5" />
<circle cx="320.27" cy="303.24" r="1.75" fill="#4DBBD5" />
<circle cx="318.54" cy="302.49" r="1.75" fill="#4DBBD5" />
<circle cx="319.82" cy="302.14" r="1.75" fill="#4DBBD5" />
<circle cx="315.83" cy="302.09" r="1.75" fill="#4DBBD5" />
<circle cx="319.70" cy="302.03" r="1.75" fill="#4DBBD5" />
<circle cx="322.30" cy="301.72" r="1.75" fill="#4DBBD5" />
<circle cx="319.57" cy="301.62" r="1.75" fill="#4DBBD5" />
<circle cx="317.14" cy="301.46" r="1.75" fill="#4DBBD5" />
<circle cx="322.05" cy="301.31" r="1.75" fill="#4DBBD5" />
<circle cx="320.16" cy="301.23" r="1.75" fill="#4DBBD5" />
<circle cx="321.82" cy="301.19" r="1.75" fill="#4DBBD5" />
<circle cx="317.46" cy="300.52" r="1.75" fill="#4DBBD5" />
<circle cx="319.46" cy="300.46" r="1.75" fill="#4DBBD5" />
<circle cx="318.49" cy="300.10" r="1.75" fill="#4DBBD5" />
<circle cx="316.19" cy="299.88" r="1.75" fill="#4DBBD5" />
<circle cx="315.80" cy="299.65" r="1.75" fill="#4DBBD5" />
<circle cx="320.37" cy="299.58" r="1.75" fill="#4DBBD5" />
<circle cx="317.18" cy="299.58" r="1.75" fill="#4DBBD5" />
<circle cx="320.04" cy="299.56" r="1.75" fill="#4DBBD5" />
<circle cx="317.28" cy="299.05" r="1.75" fill="#4DBBD5" />
<circle cx="317.81" cy="298.80" r="1.75" fill="#4DBBD5" />
<circle cx="319.11" cy="298.66" r="1.75" fill="#4DBBD5" />
<circle cx="320.35" cy="298.39" r="1.75" fill="#4DBBD5" />
<circle cx="322.14" cy="298.24" r="1.75" fill="#4DBBD5" />
<circle cx="323.22" cy="297.54" r="1.75" fill="#4DBBD5" />
<circle cx="316.00" cy="297.36" r="1.75" fill="#4DBBD5" />
<circle cx="318.55" cy="297.30" r="1.75" fill="#4DBBD5" />
<circle cx="319.42" cy="297.16" r="1.75" fill="#4DBBD5" />
<circle cx="322.44" cy="297.09" r="1.75" fill="#4DBBD5" />
<circle cx="320.54" cy="296.64" r="1.75" fill="#4DBBD5" />
<circle cx="320.96" cy="295.19" r="1.75" fill="#4DBBD5" />
<circle cx="318.27" cy="294.54" r="1.75" fill="#4DBBD5" />
<circle cx="316.77" cy="293.74" r="1.75" fill="#4DBBD5" />
<circle cx="319.56" cy="293.66" r="1.75" fill="#4DBBD5" />
<circle cx="321.85" cy="293.59" r="1.75" fill="#4DBBD5" />
<circle cx="317.77" cy="293.22" r="1.75" fill="#4DBBD5" />
<circle cx="317.36" cy="293.21" r="1.75" fill="#4DBBD5" />
<circle cx="322.30" cy="291.82" r="1.75" fill="#4DBBD5" />
<circle cx="319.83" cy="289.57" r="1.75" fill="#4DBBD5" />
<circle cx="321.73" cy="286.88" r="1.75" fill="#4DBBD5" />
<circle cx="319.57" cy="280.60" r="1.75" fill="#4DBBD5" />
<circle cx="368.51" cy="331.32" r="1.75" fill="#E64B35" />
<circle cx="369.91" cy="353.39" r="1.75" fill="#E64B35" />
<circle cx="369.48" cy="295.08" r="1.75" fill="#E64B35" />
<circle cx="365.96" cy="350.16" r="1.75" fill="#E64B35" />
<circle cx="368.91" cy="306.32" r="1.75" fill="#E64B35" />
<circle cx="369.27" cy="341.38" r="1.75" fill="#E64B35" />
<circle cx="369.89" cy="341.00" r="1.75" fill="#E64B35" />
<circle cx="366.05" cy="285.84" r="1.75" fill="#E64B35" />
<circle cx="370.60" cy="334.43" r="1.75" fill="#E64B35" />
<circle cx="367.97" cy="334.29" r="1.75" fill="#E64B35" />
<circle cx="369.33" cy="296.65" r="1.75" fill="#E64B35" />
<circle cx="370.39" cy="324.95" r="1.75" fill="#E64B35" />
<circle cx="366.26" cy="323.47" r="1.75" fill="#E64B35" />
<circle cx="367.12" cy="299.09" r="1.75" fill="#E64B35" />
<circle cx="368.11" cy="298.78" r="1.75" fill="#E64B35" />
<circle cx="370.75" cy="325.05" r="1.75" fill="#E64B35" />
<circle cx="369.77" cy="298.89" r="1.75" fill="#E64B35" />
<circle cx="366.39" cy="334.25" r="1.75" fill="#E64B35" />
<circle cx="367.22" cy="329.77" r="1.75" fill="#E64B35" />
<circle cx="368.37" cy="307.98" r="1.75" fill="#E64B35" />
<circle cx="370.57" cy="293.17" r="1.75" fill="#E64B35" />
<circle cx="365.88" cy="323.41" r="1.75" fill="#E64B35" />
<circle cx="365.92" cy="326.63" r="1.75" fill="#E64B35" />
<circle cx="369.43" cy="330.51" r="1.75" fill="#E64B35" />
<circle cx="367.76" cy="307.35" r="1.75" fill="#E64B35" />
<circle cx="368.94" cy="324.46" r="1.75" fill="#E64B35" />
<circle cx="370.26" cy="324.34" r="1.75" fill="#E64B35" />
<circle cx="367.35" cy="320.02" r="1.75" fill="#E64B35" />
<circle cx="369.66" cy="327.55" r="1.75" fill="#E64B35" />
<circle cx="366.51" cy="322.98" r="1.75" fill="#E64B35" />
<circle cx="366.24" cy="322.75" r="1.75" fill="#E64B35" />
<circle cx="366.50" cy="321.94" r="1.75" fill="#E64B35" />
<circle cx="368.25" cy="321.20" r="1.75" fill="#E64B35" />
<circle cx="368.12" cy="315.38" r="1.75" fill="#E64B35" />
<circle cx="369.81" cy="319.44" r="1.75" fill="#E64B35" />
<circle cx="367.15" cy="320.62" r="1.75" fill="#E64B35" />
<circle cx="369.23" cy="315.39" r="1.75" fill="#E64B35" />
<circle cx="368.94" cy="302.74" r="1.75" fill="#E64B35" />
<circle cx="369.65" cy="319.70" r="1.75" fill="#E64B35" />
<circle cx="366.43" cy="311.00" r="1.75" fill="#E64B35" />
<circle cx="368.86" cy="310.89" r="1.75" fill="#E64B35" />
<circle cx="366.96" cy="316.15" r="1.75" fill="#E64B35" />
<circle cx="367.69" cy="326.64" r="1.75" fill="#E64B35" />
<circle cx="366.89" cy="297.87" r="1.75" fill="#E64B35" />
<circle cx="369.44" cy="297.00" r="1.75" fill="#E64B35" />
<circle cx="367.08" cy="350.25" r="1.75" fill="#E64B35" />
<circle cx="370.74" cy="314.77" r="1.75" fill="#E64B35" />
<circle cx="369.97" cy="299.63" r="1.75" fill="#E64B35" />
<circle cx="366.37" cy="300.60" r="1.75" fill="#E64B35" />
<circle cx="371.14" cy="331.37" r="1.75" fill="#E64B35" />
<circle cx="371.04" cy="319.31" r="1.75" fill="#E64B35" />
<circle cx="368.65" cy="310.91" r="1.75" fill="#E64B35" />
<circle cx="368.38" cy="305.14" r="1.75" fill="#E64B35" />
<circle cx="368.61" cy="309.68" r="1.75" fill="#E64B35" />
<circle cx="367.72" cy="309.60" r="1.75" fill="#E64B35" />
<circle cx="369.63" cy="309.21" r="1.75" fill="#E64B35" />
<circle cx="367.31" cy="312.09" r="1.75" fill="#E64B35" />
<circle cx="367.80" cy="308.59" r="1.75" fill="#E64B35" />
<circle cx="370.77" cy="297.73" r="1.75" fill="#E64B35" />
<circle cx="365.63" cy="308.12" r="1.75" fill="#E64B35" />
<circle cx="368.61" cy="284.93" r="1.75" fill="#E64B35" />
<circle cx="367.57" cy="376.04" r="1.75" fill="#E64B35" />
<circle cx="367.81" cy="332.74" r="1.75" fill="#E64B35" />
<circle cx="367.04" cy="298.81" r="1.75" fill="#E64B35" />
<circle cx="367.38" cy="306.19" r="1.75" fill="#E64B35" />
<circle cx="366.71" cy="302.67" r="1.75" fill="#E64B35" />
<circle cx="366.10" cy="336.12" r="1.75" fill="#E64B35" />
<circle cx="367.20" cy="308.91" r="1.75" fill="#E64B35" />
<circle cx="367.59" cy="293.07" r="1.75" fill="#E64B35" />
<circle cx="370.38" cy="301.63" r="1.75" fill="#E64B35" />
<circle cx="370.75" cy="309.89" r="1.75" fill="#E64B35" />
<circle cx="370.43" cy="303.15" r="1.75" fill="#E64B35" />
<circle cx="368.18" cy="318.82" r="1.75" fill="#E64B35" />
<circle cx="367.35" cy="301.59" r="1.75" fill="#E64B35" />
<circle cx="367.15" cy="341.40" r="1.75" fill="#E64B35" />
<circle cx="366.11" cy="296.10" r="1.75" fill="#E64B35" />
<circle cx="370.46" cy="300.61" r="1.75" fill="#E64B35" />
<circle cx="368.87" cy="333.60" r="1.75" fill="#E64B35" />
<circle cx="370.76" cy="306.85" r="1.75" fill="#E64B35" />
<circle cx="366.13" cy="308.51" r="1.75" fill="#E64B35" />
<circle cx="368.90" cy="331.83" r="1.75" fill="#E64B35" />
<circle cx="366.31" cy="320.82" r="1.75" fill="#E64B35" />
<circle cx="367.48" cy="304.68" r="1.75" fill="#E64B35" />
<circle cx="367.70" cy="320.69" r="1.75" fill="#E64B35" />
<circle cx="365.78" cy="327.87" r="1.75" fill="#E64B35" />
<circle cx="369.53" cy="297.72" r="1.75" fill="#E64B35" />
<circle cx="370.32" cy="320.39" r="1.75" fill="#E64B35" />
<circle cx="370.41" cy="331.85" r="1.75" fill="#E64B35" />
<circle cx="370.75" cy="301.14" r="1.75" fill="#E64B35" />
<circle cx="366.09" cy="270.90" r="1.75" fill="#E64B35" />
<circle cx="366.89" cy="318.17" r="1.75" fill="#E64B35" />
<circle cx="370.74" cy="305.05" r="1.75" fill="#E64B35" />
<circle cx="366.60" cy="289.16" r="1.75" fill="#E64B35" />
<circle cx="367.66" cy="310.08" r="1.75" fill="#E64B35" />
<circle cx="369.62" cy="291.08" r="1.75" fill="#E64B35" />
<circle cx="370.86" cy="295.53" r="1.75" fill="#E64B35" />
<circle cx="365.91" cy="305.37" r="1.75" fill="#E64B35" />
<circle cx="365.74" cy="300.90" r="1.75" fill="#E64B35" />
<circle cx="367.03" cy="295.53" r="1.75" fill="#E64B35" />
<circle cx="369.72" cy="269.28" r="1.75" fill="#E64B35" />
<polyline points="319.52,266.00 319.52,263.40 368.38,263.40 368.38,266.00" fill="none" stroke="#333333" stroke-width="0.9"/>
<text x="344.15" y="261.60" font-size="8.85" text-anchor="middle" fill="#000" font-weight="normal" >0.00082</text>
<line x1="427.95" y1="305.85" x2="427.95" y2="320.35" stroke="#333333" stroke-width="1" />
<rect x="421.20" y="308.25" width="13.50" height="9.70" fill="#B8E4EE" stroke="#333333" stroke-width="1" />
<line x1="421.20" y1="313.10" x2="434.70" y2="313.10" stroke="#333333" stroke-width="1" />
<circle cx="427.95" cy="313.10" r="1.5" fill="#4DBBD5" />
<text x="442.30" y="312.50" font-size="8.7" text-anchor="start" fill="#000" font-weight="normal" >Matched</text>
<text x="442.30" y="321.70" font-size="8.7" text-anchor="start" fill="#000" font-weight="normal" >normal tissue</text>
<line x1="427.95" y1="323.85" x2="427.95" y2="338.15" stroke="#333333" stroke-width="1" />
<rect x="421.20" y="326.25" width="13.50" height="9.50" fill="#F5B7AE" stroke="#333333" stroke-width="1" />
<line x1="421.20" y1="331.00" x2="434.70" y2="331.00" stroke="#333333" stroke-width="1" />
<circle cx="427.95" cy="331.00" r="1.5" fill="#E64B35" />
<text x="442.30" y="330.50" font-size="8.7" text-anchor="start" fill="#000" font-weight="normal" >Breast cancer</text>
<text x="442.30" y="339.50" font-size="8.7" text-anchor="start" fill="#000" font-weight="normal" >tissue</text>
<text x="0.40" y="424.00" font-size="12.2" text-anchor="start" fill="#000" font-weight="bold" >e</text>
<text x="35.00" y="434.20" font-size="12.7" text-anchor="start" fill="#000" font-weight="normal" >GSE225845 (EPIC array)</text>
<rect x="34.30" y="442.30" width="107.60" height="16.50" fill="#1CA285" stroke="#1a1a1a" stroke-width="0.8" />
<text x="88.10" y="454.20" font-size="8.7" text-anchor="middle" fill="#fff" font-weight="bold" >WID–buccal–BC</text>
<line x1="34.30" y1="570.35" x2="141.90" y2="570.35" stroke="#EBEBEB" stroke-width="0.5" />
<line x1="34.30" y1="545.65" x2="141.90" y2="545.65" stroke="#EBEBEB" stroke-width="0.5" />
<line x1="34.30" y1="520.95" x2="141.90" y2="520.95" stroke="#EBEBEB" stroke-width="0.5" />
<line x1="34.30" y1="496.25" x2="141.90" y2="496.25" stroke="#EBEBEB" stroke-width="0.5" />
<line x1="34.30" y1="471.55" x2="141.90" y2="471.55" stroke="#EBEBEB" stroke-width="0.5" />
<line x1="34.30" y1="582.70" x2="141.90" y2="582.70" stroke="#EBEBEB" stroke-width="1" />
<line x1="34.30" y1="558.00" x2="141.90" y2="558.00" stroke="#EBEBEB" stroke-width="1" />
<line x1="34.30" y1="533.30" x2="141.90" y2="533.30" stroke="#EBEBEB" stroke-width="1" />
<line x1="34.30" y1="508.60" x2="141.90" y2="508.60" stroke="#EBEBEB" stroke-width="1" />
<line x1="34.30" y1="483.90" x2="141.90" y2="483.90" stroke="#EBEBEB" stroke-width="1" />
<line x1="54.47" y1="458.80" x2="54.47" y2="585.00" stroke="#EBEBEB" stroke-width="1" />
<line x1="88.10" y1="458.80" x2="88.10" y2="585.00" stroke="#EBEBEB" stroke-width="1" />
<line x1="121.72" y1="458.80" x2="121.72" y2="585.00" stroke="#EBEBEB" stroke-width="1" />
<text x="30.10" y="585.80" font-size="8.8" text-anchor="end" fill="#4D4D4D" font-weight="normal" >–5</text>
<text x="30.10" y="561.10" font-size="8.8" text-anchor="end" fill="#4D4D4D" font-weight="normal" >0</text>
<text x="30.10" y="536.40" font-size="8.8" text-anchor="end" fill="#4D4D4D" font-weight="normal" >5</text>
<text x="30.10" y="511.70" font-size="8.8" text-anchor="end" fill="#4D4D4D" font-weight="normal" >10</text>
<text x="30.10" y="487.00" font-size="8.8" text-anchor="end" fill="#4D4D4D" font-weight="normal" >15</text>
<line x1="54.47" y1="552.07" x2="54.47" y2="556.76" stroke="#333333" stroke-width="1.0" />
<line x1="54.47" y1="559.24" x2="54.47" y2="565.90" stroke="#333333" stroke-width="1.0" />
<rect x="41.27" y="556.76" width="26.40" height="2.47" fill="#B1BBCF" stroke="#333333" stroke-width="1.0" />
<line x1="41.27" y1="558.00" x2="67.67" y2="558.00" stroke="#333333" stroke-width="1.9" />
<circle cx="70.03" cy="556.68" r="1.55" fill="#3C5488" />
<circle cx="50.44" cy="558.06" r="1.55" fill="#3C5488" />
<circle cx="63.90" cy="560.85" r="1.55" fill="#3C5488" />
<circle cx="41.77" cy="558.81" r="1.55" fill="#3C5488" />
<circle cx="69.20" cy="559.64" r="1.55" fill="#3C5488" />
<circle cx="48.52" cy="556.78" r="1.55" fill="#3C5488" />
<circle cx="47.80" cy="557.65" r="1.55" fill="#3C5488" />
<circle cx="45.51" cy="558.22" r="1.55" fill="#3C5488" />
<circle cx="68.53" cy="557.35" r="1.55" fill="#3C5488" />
<circle cx="43.41" cy="558.11" r="1.55" fill="#3C5488" />
<circle cx="37.40" cy="558.53" r="1.55" fill="#3C5488" />
<circle cx="35.96" cy="558.44" r="1.55" fill="#3C5488" />
<circle cx="56.45" cy="558.51" r="1.55" fill="#3C5488" />
<circle cx="58.57" cy="558.49" r="1.55" fill="#3C5488" />
<circle cx="48.55" cy="558.22" r="1.55" fill="#3C5488" />
<circle cx="59.24" cy="556.30" r="1.55" fill="#3C5488" />
<circle cx="54.79" cy="554.86" r="1.55" fill="#3C5488" />
<circle cx="61.75" cy="555.27" r="1.55" fill="#3C5488" />
<circle cx="48.79" cy="558.12" r="1.55" fill="#3C5488" />
<circle cx="59.43" cy="554.89" r="1.55" fill="#3C5488" />
<circle cx="55.12" cy="556.38" r="1.55" fill="#3C5488" />
<circle cx="68.71" cy="560.06" r="1.55" fill="#3C5488" />
<circle cx="59.48" cy="556.05" r="1.55" fill="#3C5488" />
<circle cx="62.44" cy="561.32" r="1.55" fill="#3C5488" />
<circle cx="51.33" cy="557.52" r="1.55" fill="#3C5488" />
<circle cx="60.96" cy="558.52" r="1.55" fill="#3C5488" />
<circle cx="42.33" cy="556.77" r="1.55" fill="#3C5488" />
<circle cx="44.90" cy="556.55" r="1.55" fill="#3C5488" />
<circle cx="55.66" cy="553.59" r="1.55" fill="#3C5488" />
<circle cx="50.74" cy="554.60" r="1.55" fill="#3C5488" />
<circle cx="67.58" cy="558.47" r="1.55" fill="#3C5488" />
<circle cx="51.97" cy="563.59" r="1.55" fill="#3C5488" />
<circle cx="60.84" cy="561.38" r="1.55" fill="#3C5488" />
<circle cx="57.60" cy="552.84" r="1.55" fill="#3C5488" />
<circle cx="73.17" cy="558.78" r="1.55" fill="#3C5488" />
<circle cx="46.46" cy="559.35" r="1.55" fill="#3C5488" />
<circle cx="57.65" cy="560.61" r="1.55" fill="#3C5488" />
<circle cx="59.56" cy="558.56" r="1.55" fill="#3C5488" />
<circle cx="62.19" cy="558.73" r="1.55" fill="#3C5488" />
<circle cx="51.48" cy="556.86" r="1.55" fill="#3C5488" />
<circle cx="42.11" cy="559.82" r="1.55" fill="#3C5488" />
<circle cx="50.98" cy="558.18" r="1.55" fill="#3C5488" />
<circle cx="55.58" cy="555.31" r="1.55" fill="#3C5488" />
<circle cx="39.57" cy="558.23" r="1.55" fill="#3C5488" />
<circle cx="51.57" cy="560.15" r="1.55" fill="#3C5488" />
<circle cx="73.65" cy="558.32" r="1.55" fill="#3C5488" />
<circle cx="42.12" cy="559.26" r="1.55" fill="#3C5488" />
<circle cx="56.97" cy="563.31" r="1.55" fill="#3C5488" />
<circle cx="45.98" cy="557.73" r="1.55" fill="#3C5488" />
<circle cx="58.98" cy="558.93" r="1.55" fill="#3C5488" />
<circle cx="42.62" cy="556.33" r="1.55" fill="#3C5488" />
<circle cx="67.09" cy="559.16" r="1.55" fill="#3C5488" />
<circle cx="58.99" cy="560.71" r="1.55" fill="#3C5488" />
<circle cx="46.21" cy="558.16" r="1.55" fill="#3C5488" />
<circle cx="48.73" cy="558.06" r="1.55" fill="#3C5488" />
<circle cx="50.25" cy="560.11" r="1.55" fill="#3C5488" />
<circle cx="55.49" cy="557.95" r="1.55" fill="#3C5488" />
<circle cx="58.06" cy="557.46" r="1.55" fill="#3C5488" />
<circle cx="59.16" cy="556.47" r="1.55" fill="#3C5488" />
<circle cx="46.16" cy="554.61" r="1.55" fill="#3C5488" />
<circle cx="63.96" cy="557.77" r="1.55" fill="#3C5488" />
<circle cx="68.17" cy="556.02" r="1.55" fill="#3C5488" />
<circle cx="51.52" cy="560.56" r="1.55" fill="#3C5488" />
<circle cx="47.78" cy="556.73" r="1.55" fill="#3C5488" />
<circle cx="54.76" cy="552.94" r="1.55" fill="#3C5488" />
<circle cx="66.28" cy="558.26" r="1.55" fill="#3C5488" />
<circle cx="52.16" cy="559.15" r="1.55" fill="#3C5488" />
<circle cx="50.18" cy="559.32" r="1.55" fill="#3C5488" />
<circle cx="45.13" cy="559.32" r="1.55" fill="#3C5488" />
<circle cx="66.93" cy="558.44" r="1.55" fill="#3C5488" />
<circle cx="47.87" cy="558.33" r="1.55" fill="#3C5488" />
<circle cx="68.36" cy="560.01" r="1.55" fill="#3C5488" />
<circle cx="57.53" cy="556.05" r="1.55" fill="#3C5488" />
<circle cx="52.97" cy="552.39" r="1.55" fill="#3C5488" />
<circle cx="49.63" cy="560.21" r="1.55" fill="#3C5488" />
<circle cx="72.14" cy="557.42" r="1.55" fill="#3C5488" />
<circle cx="69.73" cy="558.22" r="1.55" fill="#3C5488" />
<circle cx="72.22" cy="557.97" r="1.55" fill="#3C5488" />
<circle cx="36.02" cy="557.96" r="1.55" fill="#3C5488" />
<circle cx="44.98" cy="558.22" r="1.55" fill="#3C5488" />
<circle cx="66.94" cy="556.46" r="1.55" fill="#3C5488" />
<circle cx="51.76" cy="554.11" r="1.55" fill="#3C5488" />
<circle cx="55.82" cy="558.99" r="1.55" fill="#3C5488" />
<circle cx="47.28" cy="558.58" r="1.55" fill="#3C5488" />
<circle cx="55.76" cy="562.48" r="1.55" fill="#3C5488" />
<circle cx="52.03" cy="558.36" r="1.55" fill="#3C5488" />
<circle cx="66.35" cy="559.05" r="1.55" fill="#3C5488" />
<circle cx="61.56" cy="559.81" r="1.55" fill="#3C5488" />
<circle cx="52.57" cy="555.93" r="1.55" fill="#3C5488" />
<circle cx="53.09" cy="557.92" r="1.55" fill="#3C5488" />
<circle cx="38.64" cy="559.38" r="1.55" fill="#3C5488" />
<circle cx="59.90" cy="559.86" r="1.55" fill="#3C5488" />
<circle cx="52.69" cy="557.60" r="1.55" fill="#3C5488" />
<circle cx="40.51" cy="556.09" r="1.55" fill="#3C5488" />
<circle cx="44.92" cy="555.31" r="1.55" fill="#3C5488" />
<circle cx="45.11" cy="556.90" r="1.55" fill="#3C5488" />
<circle cx="51.48" cy="556.68" r="1.55" fill="#3C5488" />
<circle cx="54.50" cy="559.87" r="1.55" fill="#3C5488" />
<circle cx="58.48" cy="560.31" r="1.55" fill="#3C5488" />
<circle cx="70.20" cy="557.26" r="1.55" fill="#3C5488" />
<circle cx="41.46" cy="557.47" r="1.55" fill="#3C5488" />
<circle cx="44.47" cy="559.70" r="1.55" fill="#3C5488" />
<circle cx="51.53" cy="558.86" r="1.55" fill="#3C5488" />
<circle cx="54.19" cy="564.97" r="1.55" fill="#3C5488" />
<circle cx="64.11" cy="557.14" r="1.55" fill="#3C5488" />
<circle cx="69.99" cy="557.93" r="1.55" fill="#3C5488" />
<circle cx="56.87" cy="555.96" r="1.55" fill="#3C5488" />
<circle cx="57.98" cy="554.82" r="1.55" fill="#3C5488" />
<circle cx="64.05" cy="557.93" r="1.55" fill="#3C5488" />
<circle cx="38.90" cy="558.65" r="1.55" fill="#3C5488" />
<circle cx="49.45" cy="559.02" r="1.55" fill="#3C5488" />
<circle cx="49.48" cy="557.42" r="1.55" fill="#3C5488" />
<circle cx="48.87" cy="554.05" r="1.55" fill="#3C5488" />
<circle cx="50.59" cy="561.05" r="1.55" fill="#3C5488" />
<circle cx="41.87" cy="558.36" r="1.55" fill="#3C5488" />
<circle cx="59.63" cy="556.67" r="1.55" fill="#3C5488" />
<circle cx="49.03" cy="560.36" r="1.55" fill="#3C5488" />
<circle cx="48.71" cy="557.28" r="1.55" fill="#3C5488" />
<circle cx="69.86" cy="559.25" r="1.55" fill="#3C5488" />
<circle cx="54.82" cy="557.76" r="1.55" fill="#3C5488" />
<circle cx="56.30" cy="551.66" r="1.55" fill="#3C5488" />
<circle cx="55.76" cy="562.66" r="1.55" fill="#3C5488" />
<circle cx="55.33" cy="557.08" r="1.55" fill="#3C5488" />
<circle cx="66.63" cy="557.71" r="1.55" fill="#3C5488" />
<circle cx="46.95" cy="555.76" r="1.55" fill="#3C5488" />
<circle cx="69.54" cy="558.60" r="1.55" fill="#3C5488" />
<circle cx="53.10" cy="554.44" r="1.55" fill="#3C5488" />
<circle cx="50.83" cy="553.06" r="1.55" fill="#3C5488" />
<circle cx="55.59" cy="561.47" r="1.55" fill="#3C5488" />
<circle cx="39.39" cy="558.60" r="1.55" fill="#3C5488" />
<circle cx="56.93" cy="559.27" r="1.55" fill="#3C5488" />
<circle cx="58.21" cy="556.08" r="1.55" fill="#3C5488" />
<circle cx="58.68" cy="554.89" r="1.55" fill="#3C5488" />
<circle cx="60.64" cy="556.54" r="1.55" fill="#3C5488" />
<circle cx="42.40" cy="555.63" r="1.55" fill="#3C5488" />
<circle cx="35.37" cy="557.70" r="1.55" fill="#3C5488" />
<circle cx="58.89" cy="555.17" r="1.55" fill="#3C5488" />
<circle cx="56.43" cy="558.96" r="1.55" fill="#3C5488" />
<circle cx="64.15" cy="560.74" r="1.55" fill="#3C5488" />
<circle cx="50.93" cy="556.90" r="1.55" fill="#3C5488" />
<circle cx="38.82" cy="558.20" r="1.55" fill="#3C5488" />
<circle cx="50.99" cy="563.29" r="1.55" fill="#3C5488" />
<circle cx="40.15" cy="556.33" r="1.55" fill="#3C5488" />
<circle cx="45.81" cy="560.34" r="1.55" fill="#3C5488" />
<circle cx="63.92" cy="559.28" r="1.55" fill="#3C5488" />
<circle cx="55.83" cy="561.08" r="1.55" fill="#3C5488" />
<circle cx="68.51" cy="557.52" r="1.55" fill="#3C5488" />
<circle cx="66.39" cy="559.94" r="1.55" fill="#3C5488" />
<circle cx="55.01" cy="558.84" r="1.55" fill="#3C5488" />
<circle cx="40.71" cy="557.79" r="1.55" fill="#3C5488" />
<circle cx="51.08" cy="553.69" r="1.55" fill="#3C5488" />
<circle cx="55.04" cy="563.79" r="1.55" fill="#3C5488" />
<circle cx="48.56" cy="554.59" r="1.55" fill="#3C5488" />
<circle cx="55.11" cy="556.84" r="1.55" fill="#3C5488" />
<circle cx="54.82" cy="559.16" r="1.55" fill="#3C5488" />
<circle cx="41.39" cy="556.00" r="1.55" fill="#3C5488" />
<circle cx="38.59" cy="557.43" r="1.55" fill="#3C5488" />
<circle cx="71.94" cy="558.13" r="1.55" fill="#3C5488" />
<circle cx="54.14" cy="559.32" r="1.55" fill="#3C5488" />
<circle cx="53.21" cy="558.21" r="1.55" fill="#3C5488" />
<circle cx="51.82" cy="558.63" r="1.55" fill="#3C5488" />
<circle cx="60.81" cy="560.98" r="1.55" fill="#3C5488" />
<circle cx="59.14" cy="559.83" r="1.55" fill="#3C5488" />
<circle cx="61.18" cy="559.08" r="1.55" fill="#3C5488" />
<circle cx="57.55" cy="558.13" r="1.55" fill="#3C5488" />
<circle cx="40.83" cy="557.66" r="1.55" fill="#3C5488" />
<circle cx="45.80" cy="556.68" r="1.55" fill="#3C5488" />
<circle cx="49.19" cy="560.70" r="1.55" fill="#3C5488" />
<circle cx="42.75" cy="560.52" r="1.55" fill="#3C5488" />
<circle cx="57.40" cy="555.39" r="1.55" fill="#3C5488" />
<circle cx="68.39" cy="557.85" r="1.55" fill="#3C5488" />
<circle cx="69.84" cy="559.40" r="1.55" fill="#3C5488" />
<circle cx="39.49" cy="559.41" r="1.55" fill="#3C5488" />
<circle cx="43.15" cy="557.27" r="1.55" fill="#3C5488" />
<circle cx="59.31" cy="558.14" r="1.55" fill="#3C5488" />
<circle cx="35.85" cy="558.41" r="1.55" fill="#3C5488" />
<circle cx="50.92" cy="553.96" r="1.55" fill="#3C5488" />
<circle cx="53.92" cy="563.87" r="1.55" fill="#3C5488" />
<circle cx="64.38" cy="557.44" r="1.55" fill="#3C5488" />
<circle cx="38.06" cy="557.13" r="1.55" fill="#3C5488" />
<circle cx="37.48" cy="557.62" r="1.55" fill="#3C5488" />
<circle cx="44.51" cy="557.59" r="1.55" fill="#3C5488" />
<circle cx="51.78" cy="562.68" r="1.55" fill="#3C5488" />
<circle cx="51.80" cy="552.96" r="1.55" fill="#3C5488" />
<circle cx="55.63" cy="562.03" r="1.55" fill="#3C5488" />
<circle cx="41.93" cy="558.57" r="1.55" fill="#3C5488" />
<circle cx="35.32" cy="558.39" r="1.55" fill="#3C5488" />
<circle cx="64.63" cy="555.99" r="1.55" fill="#3C5488" />
<circle cx="52.91" cy="556.99" r="1.55" fill="#3C5488" />
<circle cx="52.25" cy="555.94" r="1.55" fill="#3C5488" />
<circle cx="44.91" cy="557.75" r="1.55" fill="#3C5488" />
<circle cx="55.96" cy="551.65" r="1.55" fill="#3C5488" />
<circle cx="72.55" cy="558.79" r="1.55" fill="#3C5488" />
<circle cx="37.70" cy="558.40" r="1.55" fill="#3C5488" />
<circle cx="61.31" cy="557.77" r="1.55" fill="#3C5488" />
<circle cx="61.08" cy="558.77" r="1.55" fill="#3C5488" />
<circle cx="56.85" cy="560.19" r="1.55" fill="#3C5488" />
<circle cx="51.32" cy="557.20" r="1.55" fill="#3C5488" />
<circle cx="50.59" cy="558.62" r="1.55" fill="#3C5488" />
<circle cx="59.65" cy="555.59" r="1.55" fill="#3C5488" />
<circle cx="36.86" cy="557.30" r="1.55" fill="#3C5488" />
<circle cx="55.72" cy="564.71" r="1.55" fill="#3C5488" />
<circle cx="44.83" cy="560.71" r="1.55" fill="#3C5488" />
<circle cx="44.00" cy="559.75" r="1.55" fill="#3C5488" />
<circle cx="49.91" cy="558.77" r="1.55" fill="#3C5488" />
<circle cx="38.38" cy="559.63" r="1.55" fill="#3C5488" />
<circle cx="68.52" cy="557.26" r="1.55" fill="#3C5488" />
<circle cx="50.92" cy="559.42" r="1.55" fill="#3C5488" />
<circle cx="49.14" cy="558.31" r="1.55" fill="#3C5488" />
<circle cx="48.08" cy="558.41" r="1.55" fill="#3C5488" />
<circle cx="68.96" cy="558.17" r="1.55" fill="#3C5488" />
<circle cx="52.49" cy="562.22" r="1.55" fill="#3C5488" />
<circle cx="55.29" cy="552.25" r="1.55" fill="#3C5488" />
<circle cx="57.78" cy="552.78" r="1.55" fill="#3C5488" />
<circle cx="53.65" cy="562.49" r="1.55" fill="#3C5488" />
<circle cx="64.78" cy="555.66" r="1.55" fill="#3C5488" />
<circle cx="56.51" cy="557.51" r="1.55" fill="#3C5488" />
<circle cx="52.44" cy="554.78" r="1.55" fill="#3C5488" />
<circle cx="53.23" cy="557.49" r="1.55" fill="#3C5488" />
<circle cx="48.62" cy="557.47" r="1.55" fill="#3C5488" />
<circle cx="52.52" cy="556.31" r="1.55" fill="#3C5488" />
<circle cx="52.35" cy="562.70" r="1.55" fill="#3C5488" />
<circle cx="43.97" cy="560.86" r="1.55" fill="#3C5488" />
<circle cx="62.13" cy="560.52" r="1.55" fill="#3C5488" />
<circle cx="53.44" cy="564.41" r="1.55" fill="#3C5488" />
<circle cx="41.60" cy="559.33" r="1.55" fill="#3C5488" />
<circle cx="51.29" cy="562.53" r="1.55" fill="#3C5488" />
<circle cx="55.55" cy="560.65" r="1.55" fill="#3C5488" />
<circle cx="65.45" cy="558.65" r="1.55" fill="#3C5488" />
<circle cx="56.13" cy="559.95" r="1.55" fill="#3C5488" />
<circle cx="53.98" cy="561.77" r="1.55" fill="#3C5488" />
<circle cx="57.56" cy="553.54" r="1.55" fill="#3C5488" />
<circle cx="49.92" cy="554.71" r="1.55" fill="#3C5488" />
<circle cx="51.77" cy="555.11" r="1.55" fill="#3C5488" />
<circle cx="48.94" cy="561.17" r="1.55" fill="#3C5488" />
<circle cx="50.85" cy="557.65" r="1.55" fill="#3C5488" />
<circle cx="56.51" cy="554.45" r="1.55" fill="#3C5488" />
<circle cx="57.62" cy="558.23" r="1.55" fill="#3C5488" />
<circle cx="46.59" cy="557.96" r="1.55" fill="#3C5488" />
<circle cx="53.93" cy="555.38" r="1.55" fill="#3C5488" />
<circle cx="49.03" cy="554.83" r="1.55" fill="#3C5488" />
<circle cx="68.24" cy="557.70" r="1.55" fill="#3C5488" />
<circle cx="60.85" cy="559.07" r="1.55" fill="#3C5488" />
<circle cx="69.68" cy="556.86" r="1.55" fill="#3C5488" />
<circle cx="71.50" cy="556.83" r="1.55" fill="#3C5488" />
<circle cx="58.01" cy="558.99" r="1.55" fill="#3C5488" />
<circle cx="52.15" cy="558.17" r="1.55" fill="#3C5488" />
<circle cx="72.10" cy="557.12" r="1.55" fill="#3C5488" />
<circle cx="55.65" cy="559.45" r="1.55" fill="#3C5488" />
<circle cx="50.77" cy="558.46" r="1.55" fill="#3C5488" />
<circle cx="54.87" cy="557.82" r="1.55" fill="#3C5488" />
<circle cx="40.07" cy="558.55" r="1.55" fill="#3C5488" />
<circle cx="59.94" cy="555.27" r="1.55" fill="#3C5488" />
<circle cx="61.11" cy="558.89" r="1.55" fill="#3C5488" />
<circle cx="38.55" cy="558.08" r="1.55" fill="#3C5488" />
<circle cx="64.81" cy="556.19" r="1.55" fill="#3C5488" />
<circle cx="56.48" cy="562.96" r="1.55" fill="#3C5488" />
<circle cx="64.53" cy="558.72" r="1.55" fill="#3C5488" />
<circle cx="39.47" cy="559.74" r="1.55" fill="#3C5488" />
<circle cx="62.92" cy="557.83" r="1.55" fill="#3C5488" />
<circle cx="54.26" cy="546.64" r="1.55" fill="#3C5488" />
<circle cx="54.16" cy="547.13" r="1.55" fill="#3C5488" />
<circle cx="54.64" cy="548.61" r="1.55" fill="#3C5488" />
<line x1="88.10" y1="548.12" x2="88.10" y2="553.80" stroke="#333333" stroke-width="1.0" />
<line x1="88.10" y1="558.00" x2="88.10" y2="563.93" stroke="#333333" stroke-width="1.0" />
<rect x="74.90" y="553.80" width="26.40" height="4.20" fill="#B8E4EE" stroke="#333333" stroke-width="1.0" />
<line x1="74.90" y1="556.52" x2="101.30" y2="556.52" stroke="#333333" stroke-width="1.9" />
<circle cx="89.26" cy="555.02" r="1.55" fill="#4DBBD5" />
<circle cx="95.79" cy="554.08" r="1.55" fill="#4DBBD5" />
<circle cx="85.89" cy="558.85" r="1.55" fill="#4DBBD5" />
<circle cx="84.59" cy="559.48" r="1.55" fill="#4DBBD5" />
<circle cx="87.61" cy="551.89" r="1.55" fill="#4DBBD5" />
<circle cx="86.92" cy="562.56" r="1.55" fill="#4DBBD5" />
<circle cx="86.34" cy="551.19" r="1.55" fill="#4DBBD5" />
<circle cx="95.31" cy="553.66" r="1.55" fill="#4DBBD5" />
<circle cx="82.63" cy="554.31" r="1.55" fill="#4DBBD5" />
<circle cx="91.54" cy="559.40" r="1.55" fill="#4DBBD5" />
<circle cx="82.44" cy="554.78" r="1.55" fill="#4DBBD5" />
<circle cx="90.35" cy="561.78" r="1.55" fill="#4DBBD5" />
<circle cx="90.84" cy="558.18" r="1.55" fill="#4DBBD5" />
<circle cx="83.57" cy="553.48" r="1.55" fill="#4DBBD5" />
<circle cx="91.76" cy="557.20" r="1.55" fill="#4DBBD5" />
<circle cx="92.38" cy="557.55" r="1.55" fill="#4DBBD5" />
<circle cx="84.75" cy="552.98" r="1.55" fill="#4DBBD5" />
<circle cx="87.16" cy="556.74" r="1.55" fill="#4DBBD5" />
<circle cx="89.03" cy="555.62" r="1.55" fill="#4DBBD5" />
<circle cx="92.54" cy="555.62" r="1.55" fill="#4DBBD5" />
<circle cx="90.62" cy="552.59" r="1.55" fill="#4DBBD5" />
<circle cx="90.05" cy="550.25" r="1.55" fill="#4DBBD5" />
<circle cx="88.96" cy="559.67" r="1.55" fill="#4DBBD5" />
<circle cx="95.40" cy="557.46" r="1.55" fill="#4DBBD5" />
<circle cx="90.94" cy="553.75" r="1.55" fill="#4DBBD5" />
<circle cx="94.49" cy="555.06" r="1.55" fill="#4DBBD5" />
<circle cx="85.24" cy="551.73" r="1.55" fill="#4DBBD5" />
<circle cx="88.17" cy="554.93" r="1.55" fill="#4DBBD5" />
<circle cx="88.26" cy="556.75" r="1.55" fill="#4DBBD5" />
<circle cx="95.39" cy="557.19" r="1.55" fill="#4DBBD5" />
<circle cx="91.27" cy="551.45" r="1.55" fill="#4DBBD5" />
<circle cx="89.05" cy="561.46" r="1.55" fill="#4DBBD5" />
<circle cx="96.57" cy="558.15" r="1.55" fill="#4DBBD5" />
<circle cx="88.37" cy="558.37" r="1.55" fill="#4DBBD5" />
<circle cx="87.19" cy="555.77" r="1.55" fill="#4DBBD5" />
<circle cx="90.92" cy="559.02" r="1.55" fill="#4DBBD5" />
<circle cx="89.06" cy="555.19" r="1.55" fill="#4DBBD5" />
<circle cx="98.21" cy="557.16" r="1.55" fill="#4DBBD5" />
<circle cx="81.07" cy="555.78" r="1.55" fill="#4DBBD5" />
<circle cx="87.55" cy="556.97" r="1.55" fill="#4DBBD5" />
<circle cx="80.58" cy="554.33" r="1.55" fill="#4DBBD5" />
<circle cx="86.63" cy="560.04" r="1.55" fill="#4DBBD5" />
<circle cx="90.41" cy="554.56" r="1.55" fill="#4DBBD5" />
<circle cx="85.90" cy="556.18" r="1.55" fill="#4DBBD5" />
<circle cx="77.88" cy="555.61" r="1.55" fill="#4DBBD5" />
<circle cx="86.08" cy="550.01" r="1.55" fill="#4DBBD5" />
<circle cx="92.74" cy="556.10" r="1.55" fill="#4DBBD5" />
<circle cx="95.20" cy="558.90" r="1.55" fill="#4DBBD5" />
<circle cx="87.18" cy="556.53" r="1.55" fill="#4DBBD5" />
<circle cx="79.41" cy="556.39" r="1.55" fill="#4DBBD5" />
<circle cx="86.07" cy="550.74" r="1.55" fill="#4DBBD5" />
<circle cx="97.02" cy="555.26" r="1.55" fill="#4DBBD5" />
<circle cx="78.63" cy="556.02" r="1.55" fill="#4DBBD5" />
<circle cx="90.46" cy="550.31" r="1.55" fill="#4DBBD5" />
<circle cx="85.54" cy="561.05" r="1.55" fill="#4DBBD5" />
<circle cx="81.12" cy="554.25" r="1.55" fill="#4DBBD5" />
<circle cx="93.15" cy="555.39" r="1.55" fill="#4DBBD5" />
<circle cx="87.01" cy="551.61" r="1.55" fill="#4DBBD5" />
<circle cx="86.82" cy="552.32" r="1.55" fill="#4DBBD5" />
<circle cx="95.93" cy="555.95" r="1.55" fill="#4DBBD5" />
<circle cx="94.52" cy="555.01" r="1.55" fill="#4DBBD5" />
<circle cx="88.53" cy="547.55" r="1.55" fill="#4DBBD5" />
<circle cx="77.58" cy="555.16" r="1.55" fill="#4DBBD5" />
<circle cx="83.37" cy="557.88" r="1.55" fill="#4DBBD5" />
<circle cx="83.59" cy="554.07" r="1.55" fill="#4DBBD5" />
<circle cx="88.37" cy="557.64" r="1.55" fill="#4DBBD5" />
<circle cx="88.26" cy="551.20" r="1.55" fill="#4DBBD5" />
<circle cx="84.98" cy="557.07" r="1.55" fill="#4DBBD5" />
<circle cx="87.89" cy="554.49" r="1.55" fill="#4DBBD5" />
<circle cx="95.30" cy="555.72" r="1.55" fill="#4DBBD5" />
<circle cx="85.87" cy="558.99" r="1.55" fill="#4DBBD5" />
<circle cx="84.79" cy="556.35" r="1.55" fill="#4DBBD5" />
<circle cx="84.60" cy="557.61" r="1.55" fill="#4DBBD5" />
<circle cx="88.49" cy="549.57" r="1.55" fill="#4DBBD5" />
<circle cx="77.74" cy="556.89" r="1.55" fill="#4DBBD5" />
<circle cx="96.32" cy="557.68" r="1.55" fill="#4DBBD5" />
<circle cx="82.22" cy="556.50" r="1.55" fill="#4DBBD5" />
<circle cx="84.99" cy="555.09" r="1.55" fill="#4DBBD5" />
<circle cx="90.57" cy="553.09" r="1.55" fill="#4DBBD5" />
<circle cx="77.27" cy="555.64" r="1.55" fill="#4DBBD5" />
<circle cx="99.27" cy="556.47" r="1.55" fill="#4DBBD5" />
<circle cx="86.80" cy="555.20" r="1.55" fill="#4DBBD5" />
<circle cx="92.32" cy="559.20" r="1.55" fill="#4DBBD5" />
<circle cx="87.84" cy="555.23" r="1.55" fill="#4DBBD5" />
<circle cx="82.95" cy="552.94" r="1.55" fill="#4DBBD5" />
<circle cx="83.94" cy="554.05" r="1.55" fill="#4DBBD5" />
<circle cx="80.15" cy="556.58" r="1.55" fill="#4DBBD5" />
<circle cx="93.95" cy="559.46" r="1.55" fill="#4DBBD5" />
<circle cx="89.45" cy="549.40" r="1.55" fill="#4DBBD5" />
<circle cx="90.45" cy="553.33" r="1.55" fill="#4DBBD5" />
<circle cx="95.83" cy="556.14" r="1.55" fill="#4DBBD5" />
<circle cx="89.22" cy="559.71" r="1.55" fill="#4DBBD5" />
<circle cx="85.09" cy="559.90" r="1.55" fill="#4DBBD5" />
<circle cx="96.58" cy="554.02" r="1.55" fill="#4DBBD5" />
<circle cx="92.28" cy="558.79" r="1.55" fill="#4DBBD5" />
<circle cx="84.14" cy="558.50" r="1.55" fill="#4DBBD5" />
<circle cx="87.95" cy="548.58" r="1.55" fill="#4DBBD5" />
<circle cx="82.24" cy="559.82" r="1.55" fill="#4DBBD5" />
<circle cx="98.11" cy="557.62" r="1.55" fill="#4DBBD5" />
<circle cx="88.01" cy="561.63" r="1.55" fill="#4DBBD5" />
<circle cx="87.74" cy="555.55" r="1.55" fill="#4DBBD5" />
<circle cx="83.24" cy="560.44" r="1.55" fill="#4DBBD5" />
<circle cx="95.32" cy="555.11" r="1.55" fill="#4DBBD5" />
<circle cx="78.44" cy="556.60" r="1.55" fill="#4DBBD5" />
<circle cx="90.83" cy="556.62" r="1.55" fill="#4DBBD5" />
<circle cx="91.11" cy="554.91" r="1.55" fill="#4DBBD5" />
<circle cx="90.22" cy="555.05" r="1.55" fill="#4DBBD5" />
<circle cx="91.56" cy="560.53" r="1.55" fill="#4DBBD5" />
<circle cx="98.57" cy="555.52" r="1.55" fill="#4DBBD5" />
<circle cx="92.16" cy="554.99" r="1.55" fill="#4DBBD5" />
<circle cx="87.58" cy="560.52" r="1.55" fill="#4DBBD5" />
<circle cx="82.49" cy="554.89" r="1.55" fill="#4DBBD5" />
<circle cx="98.60" cy="555.93" r="1.55" fill="#4DBBD5" />
<circle cx="88.38" cy="558.73" r="1.55" fill="#4DBBD5" />
<circle cx="84.96" cy="555.61" r="1.55" fill="#4DBBD5" />
<circle cx="88.36" cy="560.89" r="1.55" fill="#4DBBD5" />
<circle cx="83.95" cy="557.01" r="1.55" fill="#4DBBD5" />
<circle cx="86.46" cy="550.03" r="1.55" fill="#4DBBD5" />
<circle cx="90.80" cy="555.19" r="1.55" fill="#4DBBD5" />
<circle cx="84.78" cy="560.07" r="1.55" fill="#4DBBD5" />
<circle cx="92.15" cy="553.08" r="1.55" fill="#4DBBD5" />
<circle cx="93.02" cy="557.15" r="1.55" fill="#4DBBD5" />
<circle cx="85.66" cy="559.20" r="1.55" fill="#4DBBD5" />
<circle cx="87.43" cy="555.07" r="1.55" fill="#4DBBD5" />
<circle cx="98.03" cy="556.60" r="1.55" fill="#4DBBD5" />
<circle cx="87.63" cy="563.92" r="1.55" fill="#4DBBD5" />
<circle cx="86.80" cy="551.77" r="1.55" fill="#4DBBD5" />
<circle cx="87.79" cy="558.03" r="1.55" fill="#4DBBD5" />
<circle cx="85.78" cy="561.09" r="1.55" fill="#4DBBD5" />
<circle cx="83.32" cy="557.98" r="1.55" fill="#4DBBD5" />
<circle cx="89.14" cy="548.64" r="1.55" fill="#4DBBD5" />
<circle cx="89.40" cy="559.95" r="1.55" fill="#4DBBD5" />
<circle cx="91.01" cy="556.87" r="1.55" fill="#4DBBD5" />
<circle cx="93.32" cy="556.07" r="1.55" fill="#4DBBD5" />
<circle cx="81.57" cy="558.17" r="1.55" fill="#4DBBD5" />
<circle cx="85.44" cy="556.15" r="1.55" fill="#4DBBD5" />
<circle cx="86.91" cy="563.77" r="1.55" fill="#4DBBD5" />
<circle cx="99.17" cy="556.72" r="1.55" fill="#4DBBD5" />
<circle cx="84.85" cy="556.61" r="1.55" fill="#4DBBD5" />
<circle cx="89.50" cy="554.45" r="1.55" fill="#4DBBD5" />
<circle cx="89.77" cy="557.76" r="1.55" fill="#4DBBD5" />
<circle cx="81.10" cy="554.55" r="1.55" fill="#4DBBD5" />
<circle cx="91.53" cy="558.45" r="1.55" fill="#4DBBD5" />
<circle cx="97.37" cy="555.48" r="1.55" fill="#4DBBD5" />
<circle cx="89.42" cy="549.10" r="1.55" fill="#4DBBD5" />
<circle cx="78.91" cy="556.59" r="1.55" fill="#4DBBD5" />
<circle cx="83.03" cy="553.98" r="1.55" fill="#4DBBD5" />
<circle cx="86.66" cy="557.85" r="1.55" fill="#4DBBD5" />
<circle cx="89.58" cy="557.52" r="1.55" fill="#4DBBD5" />
<circle cx="85.32" cy="561.68" r="1.55" fill="#4DBBD5" />
<circle cx="93.41" cy="558.21" r="1.55" fill="#4DBBD5" />
<circle cx="94.77" cy="555.74" r="1.55" fill="#4DBBD5" />
<circle cx="82.92" cy="554.64" r="1.55" fill="#4DBBD5" />
<circle cx="94.33" cy="554.98" r="1.55" fill="#4DBBD5" />
<circle cx="80.14" cy="555.41" r="1.55" fill="#4DBBD5" />
<circle cx="85.60" cy="562.14" r="1.55" fill="#4DBBD5" />
<circle cx="96.89" cy="554.45" r="1.55" fill="#4DBBD5" />
<circle cx="84.70" cy="557.23" r="1.55" fill="#4DBBD5" />
<circle cx="86.60" cy="560.27" r="1.55" fill="#4DBBD5" />
<circle cx="95.45" cy="557.45" r="1.55" fill="#4DBBD5" />
<circle cx="87.38" cy="548.71" r="1.55" fill="#4DBBD5" />
<circle cx="96.65" cy="556.36" r="1.55" fill="#4DBBD5" />
<circle cx="89.81" cy="551.77" r="1.55" fill="#4DBBD5" />
<circle cx="84.54" cy="555.15" r="1.55" fill="#4DBBD5" />
<circle cx="89.70" cy="561.33" r="1.55" fill="#4DBBD5" />
<circle cx="91.58" cy="554.77" r="1.55" fill="#4DBBD5" />
<circle cx="95.42" cy="557.96" r="1.55" fill="#4DBBD5" />
<circle cx="94.52" cy="555.71" r="1.55" fill="#4DBBD5" />
<circle cx="88.18" cy="557.35" r="1.55" fill="#4DBBD5" />
<circle cx="96.89" cy="555.46" r="1.55" fill="#4DBBD5" />
<circle cx="94.44" cy="557.54" r="1.55" fill="#4DBBD5" />
<circle cx="95.91" cy="558.87" r="1.55" fill="#4DBBD5" />
<circle cx="84.50" cy="560.45" r="1.55" fill="#4DBBD5" />
<circle cx="86.33" cy="550.98" r="1.55" fill="#4DBBD5" />
<circle cx="93.09" cy="553.11" r="1.55" fill="#4DBBD5" />
<circle cx="90.98" cy="558.58" r="1.55" fill="#4DBBD5" />
<circle cx="87.73" cy="563.06" r="1.55" fill="#4DBBD5" />
<circle cx="87.24" cy="561.18" r="1.55" fill="#4DBBD5" />
<circle cx="92.34" cy="553.70" r="1.55" fill="#4DBBD5" />
<circle cx="90.64" cy="550.92" r="1.55" fill="#4DBBD5" />
<circle cx="89.97" cy="557.17" r="1.55" fill="#4DBBD5" />
<circle cx="86.95" cy="563.46" r="1.55" fill="#4DBBD5" />
<circle cx="91.40" cy="559.05" r="1.55" fill="#4DBBD5" />
<circle cx="82.66" cy="557.02" r="1.55" fill="#4DBBD5" />
<circle cx="89.52" cy="554.64" r="1.55" fill="#4DBBD5" />
<circle cx="91.73" cy="555.82" r="1.55" fill="#4DBBD5" />
<circle cx="98.63" cy="555.63" r="1.55" fill="#4DBBD5" />
<circle cx="83.54" cy="560.33" r="1.55" fill="#4DBBD5" />
<circle cx="83.27" cy="558.90" r="1.55" fill="#4DBBD5" />
<circle cx="92.54" cy="560.41" r="1.55" fill="#4DBBD5" />
<circle cx="90.01" cy="555.55" r="1.55" fill="#4DBBD5" />
<circle cx="83.88" cy="557.18" r="1.55" fill="#4DBBD5" />
<circle cx="86.38" cy="552.86" r="1.55" fill="#4DBBD5" />
<circle cx="87.37" cy="556.65" r="1.55" fill="#4DBBD5" />
<circle cx="95.21" cy="559.03" r="1.55" fill="#4DBBD5" />
<circle cx="92.08" cy="557.41" r="1.55" fill="#4DBBD5" />
<circle cx="93.14" cy="555.76" r="1.55" fill="#4DBBD5" />
<circle cx="93.66" cy="553.19" r="1.55" fill="#4DBBD5" />
<circle cx="95.84" cy="556.45" r="1.55" fill="#4DBBD5" />
<circle cx="86.15" cy="560.31" r="1.55" fill="#4DBBD5" />
<circle cx="86.38" cy="562.39" r="1.55" fill="#4DBBD5" />
<circle cx="89.57" cy="563.19" r="1.55" fill="#4DBBD5" />
<circle cx="89.06" cy="554.86" r="1.55" fill="#4DBBD5" />
<circle cx="90.25" cy="551.91" r="1.55" fill="#4DBBD5" />
<circle cx="88.66" cy="562.81" r="1.55" fill="#4DBBD5" />
<circle cx="87.22" cy="549.15" r="1.55" fill="#4DBBD5" />
<circle cx="81.95" cy="559.68" r="1.55" fill="#4DBBD5" />
<circle cx="79.03" cy="554.71" r="1.55" fill="#4DBBD5" />
<circle cx="87.00" cy="557.36" r="1.55" fill="#4DBBD5" />
<circle cx="94.17" cy="553.68" r="1.55" fill="#4DBBD5" />
<circle cx="83.38" cy="555.21" r="1.55" fill="#4DBBD5" />
<circle cx="88.14" cy="556.08" r="1.55" fill="#4DBBD5" />
<circle cx="79.07" cy="556.71" r="1.55" fill="#4DBBD5" />
<circle cx="82.16" cy="556.25" r="1.55" fill="#4DBBD5" />
<circle cx="77.95" cy="556.41" r="1.55" fill="#4DBBD5" />
<circle cx="79.93" cy="556.99" r="1.55" fill="#4DBBD5" />
<circle cx="77.73" cy="556.30" r="1.55" fill="#4DBBD5" />
<circle cx="78.45" cy="555.64" r="1.55" fill="#4DBBD5" />
<circle cx="91.73" cy="560.08" r="1.55" fill="#4DBBD5" />
<circle cx="89.73" cy="557.18" r="1.55" fill="#4DBBD5" />
<circle cx="93.09" cy="555.77" r="1.55" fill="#4DBBD5" />
<circle cx="85.07" cy="562.02" r="1.55" fill="#4DBBD5" />
<circle cx="84.65" cy="553.59" r="1.55" fill="#4DBBD5" />
<circle cx="90.97" cy="554.73" r="1.55" fill="#4DBBD5" />
<circle cx="78.51" cy="557.76" r="1.55" fill="#4DBBD5" />
<circle cx="84.19" cy="555.36" r="1.55" fill="#4DBBD5" />
<circle cx="77.24" cy="556.10" r="1.55" fill="#4DBBD5" />
<circle cx="84.19" cy="557.04" r="1.55" fill="#4DBBD5" />
<circle cx="95.76" cy="557.44" r="1.55" fill="#4DBBD5" />
<circle cx="77.64" cy="555.38" r="1.55" fill="#4DBBD5" />
<circle cx="87.96" cy="560.44" r="1.55" fill="#4DBBD5" />
<circle cx="89.25" cy="552.55" r="1.55" fill="#4DBBD5" />
<circle cx="94.99" cy="556.33" r="1.55" fill="#4DBBD5" />
<circle cx="80.77" cy="555.57" r="1.55" fill="#4DBBD5" />
<circle cx="92.45" cy="552.91" r="1.55" fill="#4DBBD5" />
<circle cx="92.64" cy="558.97" r="1.55" fill="#4DBBD5" />
<circle cx="80.10" cy="554.54" r="1.55" fill="#4DBBD5" />
<circle cx="90.50" cy="555.06" r="1.55" fill="#4DBBD5" />
<circle cx="91.14" cy="560.23" r="1.55" fill="#4DBBD5" />
<circle cx="99.30" cy="556.00" r="1.55" fill="#4DBBD5" />
<circle cx="88.08" cy="504.65" r="1.55" fill="#4DBBD5" />
<circle cx="88.18" cy="515.02" r="1.55" fill="#4DBBD5" />
<circle cx="88.23" cy="522.93" r="1.55" fill="#4DBBD5" />
<circle cx="87.93" cy="523.42" r="1.55" fill="#4DBBD5" />
<circle cx="88.06" cy="527.37" r="1.55" fill="#4DBBD5" />
<circle cx="88.13" cy="533.30" r="1.55" fill="#4DBBD5" />
<circle cx="88.04" cy="536.26" r="1.55" fill="#4DBBD5" />
<circle cx="88.07" cy="538.24" r="1.55" fill="#4DBBD5" />
<circle cx="88.20" cy="540.22" r="1.55" fill="#4DBBD5" />
<circle cx="88.29" cy="541.70" r="1.55" fill="#4DBBD5" />
<circle cx="87.87" cy="543.18" r="1.55" fill="#4DBBD5" />
<circle cx="87.75" cy="544.17" r="1.55" fill="#4DBBD5" />
<circle cx="87.86" cy="545.16" r="1.55" fill="#4DBBD5" />
<circle cx="88.13" cy="546.14" r="1.55" fill="#4DBBD5" />
<line x1="121.72" y1="509.59" x2="121.72" y2="532.81" stroke="#333333" stroke-width="1.0" />
<line x1="121.72" y1="551.78" x2="121.72" y2="572.82" stroke="#333333" stroke-width="1.0" />
<rect x="108.52" y="532.81" width="26.40" height="18.97" fill="#F5B7AE" stroke="#333333" stroke-width="1.0" />
<line x1="108.52" y1="542.69" x2="134.92" y2="542.69" stroke="#333333" stroke-width="1.9" />
<circle cx="122.08" cy="535.55" r="1.55" fill="#E64B35" />
<circle cx="125.39" cy="553.83" r="1.55" fill="#E64B35" />
<circle cx="119.60" cy="551.03" r="1.55" fill="#E64B35" />
<circle cx="119.91" cy="532.82" r="1.55" fill="#E64B35" />
<circle cx="121.19" cy="554.66" r="1.55" fill="#E64B35" />
<circle cx="121.82" cy="568.20" r="1.55" fill="#E64B35" />
<circle cx="121.69" cy="520.05" r="1.55" fill="#E64B35" />
<circle cx="118.12" cy="551.75" r="1.55" fill="#E64B35" />
<circle cx="118.43" cy="547.30" r="1.55" fill="#E64B35" />
<circle cx="124.58" cy="561.62" r="1.55" fill="#E64B35" />
<circle cx="120.30" cy="560.17" r="1.55" fill="#E64B35" />
<circle cx="124.27" cy="546.22" r="1.55" fill="#E64B35" />
<circle cx="125.48" cy="542.18" r="1.55" fill="#E64B35" />
<circle cx="123.60" cy="554.97" r="1.55" fill="#E64B35" />
<circle cx="120.82" cy="559.00" r="1.55" fill="#E64B35" />
<circle cx="119.24" cy="563.64" r="1.55" fill="#E64B35" />
<circle cx="123.91" cy="549.42" r="1.55" fill="#E64B35" />
<circle cx="125.77" cy="555.09" r="1.55" fill="#E64B35" />
<circle cx="121.12" cy="547.53" r="1.55" fill="#E64B35" />
<circle cx="122.67" cy="553.74" r="1.55" fill="#E64B35" />
<circle cx="119.49" cy="544.77" r="1.55" fill="#E64B35" />
<circle cx="119.35" cy="543.02" r="1.55" fill="#E64B35" />
<circle cx="123.85" cy="524.72" r="1.55" fill="#E64B35" />
<circle cx="119.67" cy="521.96" r="1.55" fill="#E64B35" />
<circle cx="122.52" cy="527.67" r="1.55" fill="#E64B35" />
<circle cx="125.54" cy="534.74" r="1.55" fill="#E64B35" />
<circle cx="124.95" cy="543.85" r="1.55" fill="#E64B35" />
<circle cx="122.43" cy="552.50" r="1.55" fill="#E64B35" />
<circle cx="117.88" cy="552.99" r="1.55" fill="#E64B35" />
<circle cx="119.08" cy="547.02" r="1.55" fill="#E64B35" />
<circle cx="124.89" cy="547.77" r="1.55" fill="#E64B35" />
<circle cx="118.03" cy="547.75" r="1.55" fill="#E64B35" />
<circle cx="121.25" cy="551.86" r="1.55" fill="#E64B35" />
<circle cx="120.75" cy="545.24" r="1.55" fill="#E64B35" />
<circle cx="120.99" cy="540.82" r="1.55" fill="#E64B35" />
<circle cx="125.56" cy="553.42" r="1.55" fill="#E64B35" />
<circle cx="122.66" cy="560.77" r="1.55" fill="#E64B35" />
<circle cx="124.09" cy="556.91" r="1.55" fill="#E64B35" />
<circle cx="119.69" cy="519.37" r="1.55" fill="#E64B35" />
<circle cx="122.19" cy="558.99" r="1.55" fill="#E64B35" />
<circle cx="124.62" cy="527.63" r="1.55" fill="#E64B35" />
<circle cx="122.95" cy="561.93" r="1.55" fill="#E64B35" />
<circle cx="121.18" cy="555.55" r="1.55" fill="#E64B35" />
<circle cx="126.27" cy="545.01" r="1.55" fill="#E64B35" />
<circle cx="118.81" cy="546.49" r="1.55" fill="#E64B35" />
<circle cx="118.28" cy="557.38" r="1.55" fill="#E64B35" />
<circle cx="120.90" cy="536.49" r="1.55" fill="#E64B35" />
<circle cx="118.57" cy="550.19" r="1.55" fill="#E64B35" />
<circle cx="122.89" cy="516.91" r="1.55" fill="#E64B35" />
<circle cx="118.05" cy="558.51" r="1.55" fill="#E64B35" />
<circle cx="119.41" cy="550.13" r="1.55" fill="#E64B35" />
<circle cx="119.31" cy="536.45" r="1.55" fill="#E64B35" />
<circle cx="122.09" cy="541.88" r="1.55" fill="#E64B35" />
<circle cx="125.60" cy="545.84" r="1.55" fill="#E64B35" />
<circle cx="119.83" cy="544.01" r="1.55" fill="#E64B35" />
<circle cx="120.16" cy="544.78" r="1.55" fill="#E64B35" />
<circle cx="120.88" cy="531.82" r="1.55" fill="#E64B35" />
<circle cx="121.59" cy="571.85" r="1.55" fill="#E64B35" />
<circle cx="118.16" cy="548.68" r="1.55" fill="#E64B35" />
<circle cx="124.76" cy="554.30" r="1.55" fill="#E64B35" />
<circle cx="122.33" cy="540.81" r="1.55" fill="#E64B35" />
<circle cx="118.36" cy="529.16" r="1.55" fill="#E64B35" />
<circle cx="121.70" cy="531.30" r="1.55" fill="#E64B35" />
<circle cx="124.74" cy="550.21" r="1.55" fill="#E64B35" />
<circle cx="119.55" cy="558.07" r="1.55" fill="#E64B35" />
<circle cx="121.52" cy="565.96" r="1.55" fill="#E64B35" />
<circle cx="124.43" cy="539.86" r="1.55" fill="#E64B35" />
<circle cx="119.05" cy="542.13" r="1.55" fill="#E64B35" />
<circle cx="120.22" cy="545.34" r="1.55" fill="#E64B35" />
<circle cx="124.92" cy="552.81" r="1.55" fill="#E64B35" />
<circle cx="122.16" cy="550.30" r="1.55" fill="#E64B35" />
<circle cx="123.64" cy="532.78" r="1.55" fill="#E64B35" />
<circle cx="124.75" cy="552.83" r="1.55" fill="#E64B35" />
<circle cx="118.82" cy="537.56" r="1.55" fill="#E64B35" />
<circle cx="121.05" cy="530.68" r="1.55" fill="#E64B35" />
<circle cx="117.78" cy="554.04" r="1.55" fill="#E64B35" />
<circle cx="122.35" cy="517.98" r="1.55" fill="#E64B35" />
<circle cx="120.09" cy="545.60" r="1.55" fill="#E64B35" />
<circle cx="119.22" cy="538.04" r="1.55" fill="#E64B35" />
<circle cx="125.64" cy="538.48" r="1.55" fill="#E64B35" />
<circle cx="119.21" cy="534.92" r="1.55" fill="#E64B35" />
<circle cx="122.03" cy="533.70" r="1.55" fill="#E64B35" />
<circle cx="121.90" cy="541.63" r="1.55" fill="#E64B35" />
<circle cx="118.05" cy="542.03" r="1.55" fill="#E64B35" />
<circle cx="120.79" cy="535.29" r="1.55" fill="#E64B35" />
<circle cx="123.15" cy="550.36" r="1.55" fill="#E64B35" />
<circle cx="119.98" cy="550.88" r="1.55" fill="#E64B35" />
<circle cx="121.08" cy="525.21" r="1.55" fill="#E64B35" />
<circle cx="124.74" cy="533.33" r="1.55" fill="#E64B35" />
<circle cx="123.38" cy="545.29" r="1.55" fill="#E64B35" />
<circle cx="120.72" cy="519.44" r="1.55" fill="#E64B35" />
<circle cx="119.72" cy="534.79" r="1.55" fill="#E64B35" />
<circle cx="120.90" cy="529.05" r="1.55" fill="#E64B35" />
<circle cx="121.31" cy="561.13" r="1.55" fill="#E64B35" />
<circle cx="121.93" cy="519.45" r="1.55" fill="#E64B35" />
<circle cx="120.16" cy="535.75" r="1.55" fill="#E64B35" />
<circle cx="118.71" cy="556.62" r="1.55" fill="#E64B35" />
<circle cx="119.37" cy="537.08" r="1.55" fill="#E64B35" />
<circle cx="122.56" cy="521.63" r="1.55" fill="#E64B35" />
<circle cx="123.77" cy="517.29" r="1.55" fill="#E64B35" />
<circle cx="123.10" cy="552.76" r="1.55" fill="#E64B35" />
<circle cx="122.67" cy="566.03" r="1.55" fill="#E64B35" />
<circle cx="119.55" cy="524.74" r="1.55" fill="#E64B35" />
<circle cx="123.77" cy="517.34" r="1.55" fill="#E64B35" />
<circle cx="120.46" cy="534.70" r="1.55" fill="#E64B35" />
<circle cx="121.38" cy="533.81" r="1.55" fill="#E64B35" />
<circle cx="123.47" cy="555.78" r="1.55" fill="#E64B35" />
<circle cx="123.21" cy="542.90" r="1.55" fill="#E64B35" />
<circle cx="123.79" cy="542.56" r="1.55" fill="#E64B35" />
<circle cx="118.02" cy="558.40" r="1.55" fill="#E64B35" />
<circle cx="117.95" cy="554.30" r="1.55" fill="#E64B35" />
<circle cx="125.29" cy="533.93" r="1.55" fill="#E64B35" />
<circle cx="124.46" cy="555.73" r="1.55" fill="#E64B35" />
<circle cx="118.32" cy="558.90" r="1.55" fill="#E64B35" />
<circle cx="119.26" cy="552.82" r="1.55" fill="#E64B35" />
<circle cx="121.24" cy="535.00" r="1.55" fill="#E64B35" />
<circle cx="119.71" cy="527.95" r="1.55" fill="#E64B35" />
<circle cx="119.18" cy="554.12" r="1.55" fill="#E64B35" />
<circle cx="125.53" cy="536.74" r="1.55" fill="#E64B35" />
<circle cx="122.38" cy="523.84" r="1.55" fill="#E64B35" />
<circle cx="120.97" cy="535.15" r="1.55" fill="#E64B35" />
<circle cx="123.75" cy="541.96" r="1.55" fill="#E64B35" />
<circle cx="119.43" cy="557.89" r="1.55" fill="#E64B35" />
<circle cx="119.11" cy="553.04" r="1.55" fill="#E64B35" />
<circle cx="118.96" cy="549.92" r="1.55" fill="#E64B35" />
<circle cx="123.59" cy="564.21" r="1.55" fill="#E64B35" />
<circle cx="120.37" cy="514.26" r="1.55" fill="#E64B35" />
<circle cx="118.86" cy="533.78" r="1.55" fill="#E64B35" />
<circle cx="124.78" cy="536.44" r="1.55" fill="#E64B35" />
<circle cx="124.36" cy="540.00" r="1.55" fill="#E64B35" />
<circle cx="121.70" cy="552.62" r="1.55" fill="#E64B35" />
<circle cx="117.27" cy="543.68" r="1.55" fill="#E64B35" />
<circle cx="123.73" cy="542.85" r="1.55" fill="#E64B35" />
<circle cx="123.70" cy="539.82" r="1.55" fill="#E64B35" />
<circle cx="119.64" cy="525.39" r="1.55" fill="#E64B35" />
<circle cx="119.29" cy="554.51" r="1.55" fill="#E64B35" />
<circle cx="123.59" cy="555.80" r="1.55" fill="#E64B35" />
<circle cx="123.27" cy="525.42" r="1.55" fill="#E64B35" />
<circle cx="124.49" cy="543.40" r="1.55" fill="#E64B35" />
<circle cx="121.93" cy="523.85" r="1.55" fill="#E64B35" />
<circle cx="120.61" cy="572.55" r="1.55" fill="#E64B35" />
<circle cx="123.44" cy="525.26" r="1.55" fill="#E64B35" />
<circle cx="122.86" cy="519.97" r="1.55" fill="#E64B35" />
<circle cx="121.78" cy="572.67" r="1.55" fill="#E64B35" />
<circle cx="121.42" cy="541.80" r="1.55" fill="#E64B35" />
<circle cx="119.32" cy="537.31" r="1.55" fill="#E64B35" />
<circle cx="117.99" cy="543.39" r="1.55" fill="#E64B35" />
<circle cx="117.60" cy="545.04" r="1.55" fill="#E64B35" />
<circle cx="119.26" cy="547.05" r="1.55" fill="#E64B35" />
<circle cx="124.62" cy="541.23" r="1.55" fill="#E64B35" />
<circle cx="123.40" cy="538.53" r="1.55" fill="#E64B35" />
<circle cx="121.27" cy="534.17" r="1.55" fill="#E64B35" />
<circle cx="121.03" cy="544.03" r="1.55" fill="#E64B35" />
<circle cx="124.37" cy="530.27" r="1.55" fill="#E64B35" />
<circle cx="124.56" cy="527.74" r="1.55" fill="#E64B35" />
<circle cx="118.74" cy="538.71" r="1.55" fill="#E64B35" />
<circle cx="118.61" cy="545.21" r="1.55" fill="#E64B35" />
<circle cx="121.34" cy="530.34" r="1.55" fill="#E64B35" />
<circle cx="123.05" cy="518.92" r="1.55" fill="#E64B35" />
<circle cx="125.13" cy="543.02" r="1.55" fill="#E64B35" />
<circle cx="124.34" cy="553.80" r="1.55" fill="#E64B35" />
<circle cx="123.30" cy="558.15" r="1.55" fill="#E64B35" />
<circle cx="123.47" cy="534.43" r="1.55" fill="#E64B35" />
<circle cx="120.07" cy="548.66" r="1.55" fill="#E64B35" />
<circle cx="119.78" cy="537.28" r="1.55" fill="#E64B35" />
<circle cx="122.14" cy="540.69" r="1.55" fill="#E64B35" />
<circle cx="120.75" cy="571.67" r="1.55" fill="#E64B35" />
<circle cx="125.16" cy="532.73" r="1.55" fill="#E64B35" />
<circle cx="122.30" cy="571.04" r="1.55" fill="#E64B35" />
<circle cx="119.40" cy="549.56" r="1.55" fill="#E64B35" />
<circle cx="125.84" cy="550.48" r="1.55" fill="#E64B35" />
<circle cx="120.16" cy="542.96" r="1.55" fill="#E64B35" />
<circle cx="118.74" cy="550.57" r="1.55" fill="#E64B35" />
<circle cx="120.62" cy="564.03" r="1.55" fill="#E64B35" />
<circle cx="122.42" cy="516.45" r="1.55" fill="#E64B35" />
<circle cx="123.51" cy="544.17" r="1.55" fill="#E64B35" />
<circle cx="118.98" cy="545.79" r="1.55" fill="#E64B35" />
<circle cx="118.64" cy="547.81" r="1.55" fill="#E64B35" />
<circle cx="118.83" cy="545.35" r="1.55" fill="#E64B35" />
<circle cx="120.20" cy="545.22" r="1.55" fill="#E64B35" />
<circle cx="120.83" cy="545.69" r="1.55" fill="#E64B35" />
<circle cx="117.96" cy="556.72" r="1.55" fill="#E64B35" />
<circle cx="120.86" cy="562.63" r="1.55" fill="#E64B35" />
<circle cx="123.09" cy="550.37" r="1.55" fill="#E64B35" />
<circle cx="119.99" cy="562.22" r="1.55" fill="#E64B35" />
<circle cx="122.98" cy="535.30" r="1.55" fill="#E64B35" />
<circle cx="121.89" cy="560.43" r="1.55" fill="#E64B35" />
<circle cx="118.28" cy="537.59" r="1.55" fill="#E64B35" />
<circle cx="121.67" cy="562.71" r="1.55" fill="#E64B35" />
<circle cx="117.75" cy="539.32" r="1.55" fill="#E64B35" />
<circle cx="124.13" cy="555.34" r="1.55" fill="#E64B35" />
<circle cx="125.02" cy="540.32" r="1.55" fill="#E64B35" />
<circle cx="125.20" cy="555.86" r="1.55" fill="#E64B35" />
<circle cx="119.04" cy="546.62" r="1.55" fill="#E64B35" />
<circle cx="120.09" cy="531.38" r="1.55" fill="#E64B35" />
<circle cx="120.75" cy="564.87" r="1.55" fill="#E64B35" />
<circle cx="122.39" cy="533.70" r="1.55" fill="#E64B35" />
<circle cx="123.98" cy="552.32" r="1.55" fill="#E64B35" />
<circle cx="119.74" cy="527.63" r="1.55" fill="#E64B35" />
<circle cx="121.45" cy="544.81" r="1.55" fill="#E64B35" />
<circle cx="123.22" cy="522.15" r="1.55" fill="#E64B35" />
<circle cx="123.96" cy="540.18" r="1.55" fill="#E64B35" />
<circle cx="125.30" cy="547.51" r="1.55" fill="#E64B35" />
<circle cx="122.36" cy="536.60" r="1.55" fill="#E64B35" />
<circle cx="120.55" cy="562.55" r="1.55" fill="#E64B35" />
<circle cx="122.16" cy="521.42" r="1.55" fill="#E64B35" />
<circle cx="118.22" cy="553.70" r="1.55" fill="#E64B35" />
<circle cx="117.14" cy="544.76" r="1.55" fill="#E64B35" />
<circle cx="120.43" cy="515.80" r="1.55" fill="#E64B35" />
<circle cx="118.95" cy="534.54" r="1.55" fill="#E64B35" />
<circle cx="119.96" cy="552.82" r="1.55" fill="#E64B35" />
<circle cx="119.22" cy="558.16" r="1.55" fill="#E64B35" />
<circle cx="120.41" cy="552.44" r="1.55" fill="#E64B35" />
<circle cx="121.57" cy="537.50" r="1.55" fill="#E64B35" />
<circle cx="120.18" cy="542.71" r="1.55" fill="#E64B35" />
<circle cx="120.51" cy="542.08" r="1.55" fill="#E64B35" />
<circle cx="118.46" cy="556.05" r="1.55" fill="#E64B35" />
<circle cx="124.53" cy="540.29" r="1.55" fill="#E64B35" />
<circle cx="124.19" cy="534.47" r="1.55" fill="#E64B35" />
<circle cx="123.55" cy="556.68" r="1.55" fill="#E64B35" />
<circle cx="121.43" cy="526.97" r="1.55" fill="#E64B35" />
<circle cx="123.52" cy="530.78" r="1.55" fill="#E64B35" />
<circle cx="119.29" cy="525.75" r="1.55" fill="#E64B35" />
<circle cx="119.47" cy="527.71" r="1.55" fill="#E64B35" />
<circle cx="121.44" cy="512.02" r="1.55" fill="#E64B35" />
<circle cx="118.41" cy="530.08" r="1.55" fill="#E64B35" />
<circle cx="118.33" cy="558.77" r="1.55" fill="#E64B35" />
<circle cx="122.33" cy="532.20" r="1.55" fill="#E64B35" />
<circle cx="120.97" cy="549.29" r="1.55" fill="#E64B35" />
<circle cx="123.01" cy="560.82" r="1.55" fill="#E64B35" />
<circle cx="121.26" cy="521.26" r="1.55" fill="#E64B35" />
<circle cx="124.58" cy="555.68" r="1.55" fill="#E64B35" />
<circle cx="118.32" cy="536.38" r="1.55" fill="#E64B35" />
<circle cx="123.77" cy="546.69" r="1.55" fill="#E64B35" />
<circle cx="123.71" cy="555.72" r="1.55" fill="#E64B35" />
<circle cx="120.56" cy="556.38" r="1.55" fill="#E64B35" />
<circle cx="122.79" cy="527.11" r="1.55" fill="#E64B35" />
<circle cx="118.15" cy="554.50" r="1.55" fill="#E64B35" />
<circle cx="117.17" cy="544.37" r="1.55" fill="#E64B35" />
<circle cx="122.98" cy="548.59" r="1.55" fill="#E64B35" />
<circle cx="124.68" cy="552.29" r="1.55" fill="#E64B35" />
<circle cx="119.96" cy="546.53" r="1.55" fill="#E64B35" />
<circle cx="120.12" cy="527.89" r="1.55" fill="#E64B35" />
<circle cx="119.12" cy="527.46" r="1.55" fill="#E64B35" />
<circle cx="119.88" cy="529.79" r="1.55" fill="#E64B35" />
<circle cx="118.54" cy="543.74" r="1.55" fill="#E64B35" />
<circle cx="119.72" cy="551.33" r="1.55" fill="#E64B35" />
<circle cx="122.10" cy="544.21" r="1.55" fill="#E64B35" />
<circle cx="120.13" cy="542.85" r="1.55" fill="#E64B35" />
<circle cx="119.83" cy="531.57" r="1.55" fill="#E64B35" />
<circle cx="122.22" cy="530.77" r="1.55" fill="#E64B35" />
<circle cx="117.69" cy="553.18" r="1.55" fill="#E64B35" />
<circle cx="119.98" cy="559.28" r="1.55" fill="#E64B35" />
<circle cx="123.52" cy="567.70" r="1.55" fill="#E64B35" />
<circle cx="119.77" cy="546.39" r="1.55" fill="#E64B35" />
<circle cx="122.23" cy="543.01" r="1.55" fill="#E64B35" />
<circle cx="124.69" cy="524.76" r="1.55" fill="#E64B35" />
<circle cx="124.79" cy="531.78" r="1.55" fill="#E64B35" />
<circle cx="123.77" cy="542.63" r="1.55" fill="#E64B35" />
<circle cx="122.03" cy="552.82" r="1.55" fill="#E64B35" />
<circle cx="121.34" cy="497.24" r="1.55" fill="#E64B35" />
<circle cx="121.10" cy="505.14" r="1.55" fill="#E64B35" />
<circle cx="121.04" cy="582.70" r="1.55" fill="#E64B35" />
<circle cx="120.86" cy="578.75" r="1.55" fill="#E64B35" />
<polyline points="88.10,473.00 88.10,470.40 121.72,470.40 121.72,473.00" fill="none" stroke="#333333" stroke-width="0.9"/>
<text x="105.11" y="468.60" font-size="8.85" text-anchor="middle" fill="#000" font-weight="normal" >p &lt; 2.22e–16</text>
<polyline points="54.47,484.40 54.47,481.80 88.10,481.80 88.10,484.40" fill="none" stroke="#333333" stroke-width="0.9"/>
<text x="71.49" y="480.00" font-size="8.85" text-anchor="middle" fill="#000" font-weight="normal" >1.9e–05</text>
<polyline points="54.47,495.80 54.47,493.20 121.72,493.20 121.72,495.80" fill="none" stroke="#333333" stroke-width="0.9"/>
<text x="88.30" y="491.40" font-size="8.85" text-anchor="middle" fill="#000" font-weight="normal" >p &lt; 2.22e–16</text>
<rect x="162.30" y="442.30" width="107.30" height="16.50" fill="#3C578B" stroke="#1a1a1a" stroke-width="0.8" />
<text x="215.95" y="454.20" font-size="8.7" text-anchor="middle" fill="#fff" font-weight="bold" >WID–cervical–BC</text>
<line x1="162.30" y1="578.05" x2="269.60" y2="578.05" stroke="#EBEBEB" stroke-width="0.5" />
<line x1="162.30" y1="542.15" x2="269.60" y2="542.15" stroke="#EBEBEB" stroke-width="0.5" />
<line x1="162.30" y1="506.25" x2="269.60" y2="506.25" stroke="#EBEBEB" stroke-width="0.5" />
<line x1="162.30" y1="470.35" x2="269.60" y2="470.35" stroke="#EBEBEB" stroke-width="0.5" />
<line x1="162.30" y1="560.10" x2="269.60" y2="560.10" stroke="#EBEBEB" stroke-width="1" />
<line x1="162.30" y1="524.20" x2="269.60" y2="524.20" stroke="#EBEBEB" stroke-width="1" />
<line x1="162.30" y1="488.30" x2="269.60" y2="488.30" stroke="#EBEBEB" stroke-width="1" />
<line x1="182.42" y1="458.80" x2="182.42" y2="585.00" stroke="#EBEBEB" stroke-width="1" />
<line x1="215.95" y1="458.80" x2="215.95" y2="585.00" stroke="#EBEBEB" stroke-width="1" />
<line x1="249.48" y1="458.80" x2="249.48" y2="585.00" stroke="#EBEBEB" stroke-width="1" />
<text x="158.10" y="563.20" font-size="8.8" text-anchor="end" fill="#4D4D4D" font-weight="normal" >–5</text>
<text x="158.10" y="527.30" font-size="8.8" text-anchor="end" fill="#4D4D4D" font-weight="normal" >0</text>
<text x="158.10" y="491.40" font-size="8.8" text-anchor="end" fill="#4D4D4D" font-weight="normal" >5</text>
<line x1="182.42" y1="513.43" x2="182.42" y2="521.40" stroke="#333333" stroke-width="1.0" />
<line x1="182.42" y1="528.44" x2="182.42" y2="540.00" stroke="#333333" stroke-width="1.0" />
<rect x="169.22" y="521.40" width="26.40" height="7.04" fill="#B1BBCF" stroke="#333333" stroke-width="1.0" />
<line x1="169.22" y1="524.20" x2="195.62" y2="524.20" stroke="#333333" stroke-width="1.9" />
<circle cx="182.44" cy="521.09" r="1.55" fill="#3C5488" />
<circle cx="180.29" cy="522.37" r="1.55" fill="#3C5488" />
<circle cx="176.97" cy="527.27" r="1.55" fill="#3C5488" />
<circle cx="190.79" cy="521.83" r="1.55" fill="#3C5488" />
<circle cx="179.28" cy="530.41" r="1.55" fill="#3C5488" />
<circle cx="179.54" cy="528.01" r="1.55" fill="#3C5488" />
<circle cx="182.94" cy="520.13" r="1.55" fill="#3C5488" />
<circle cx="186.48" cy="524.79" r="1.55" fill="#3C5488" />
<circle cx="191.23" cy="523.18" r="1.55" fill="#3C5488" />
<circle cx="181.68" cy="529.59" r="1.55" fill="#3C5488" />
<circle cx="171.45" cy="523.67" r="1.55" fill="#3C5488" />
<circle cx="181.43" cy="529.25" r="1.55" fill="#3C5488" />
<circle cx="187.73" cy="522.79" r="1.55" fill="#3C5488" />
<circle cx="180.70" cy="527.16" r="1.55" fill="#3C5488" />
<circle cx="188.10" cy="526.76" r="1.55" fill="#3C5488" />
<circle cx="189.28" cy="521.36" r="1.55" fill="#3C5488" />
<circle cx="172.58" cy="524.11" r="1.55" fill="#3C5488" />
<circle cx="181.59" cy="520.59" r="1.55" fill="#3C5488" />
<circle cx="174.48" cy="520.54" r="1.55" fill="#3C5488" />
<circle cx="182.61" cy="531.04" r="1.55" fill="#3C5488" />
<circle cx="186.96" cy="525.60" r="1.55" fill="#3C5488" />
<circle cx="180.95" cy="529.99" r="1.55" fill="#3C5488" />
<circle cx="184.08" cy="527.20" r="1.55" fill="#3C5488" />
<circle cx="179.66" cy="521.40" r="1.55" fill="#3C5488" />
<circle cx="188.80" cy="527.94" r="1.55" fill="#3C5488" />
<circle cx="190.74" cy="525.97" r="1.55" fill="#3C5488" />
<circle cx="184.93" cy="530.54" r="1.55" fill="#3C5488" />
<circle cx="174.15" cy="521.60" r="1.55" fill="#3C5488" />
<circle cx="185.06" cy="523.48" r="1.55" fill="#3C5488" />
<circle cx="186.98" cy="527.78" r="1.55" fill="#3C5488" />
<circle cx="189.83" cy="525.81" r="1.55" fill="#3C5488" />
<circle cx="183.85" cy="517.14" r="1.55" fill="#3C5488" />
<circle cx="190.49" cy="521.17" r="1.55" fill="#3C5488" />
<circle cx="181.54" cy="533.94" r="1.55" fill="#3C5488" />
<circle cx="176.39" cy="521.14" r="1.55" fill="#3C5488" />
<circle cx="184.91" cy="528.52" r="1.55" fill="#3C5488" />
<circle cx="188.71" cy="524.12" r="1.55" fill="#3C5488" />
<circle cx="177.57" cy="528.09" r="1.55" fill="#3C5488" />
<circle cx="180.69" cy="520.99" r="1.55" fill="#3C5488" />
<circle cx="189.19" cy="521.44" r="1.55" fill="#3C5488" />
<circle cx="186.91" cy="527.39" r="1.55" fill="#3C5488" />
<circle cx="184.93" cy="517.46" r="1.55" fill="#3C5488" />
<circle cx="180.04" cy="522.55" r="1.55" fill="#3C5488" />
<circle cx="182.41" cy="522.28" r="1.55" fill="#3C5488" />
<circle cx="181.50" cy="531.35" r="1.55" fill="#3C5488" />
<circle cx="186.55" cy="519.11" r="1.55" fill="#3C5488" />
<circle cx="183.11" cy="533.38" r="1.55" fill="#3C5488" />
<circle cx="173.15" cy="524.01" r="1.55" fill="#3C5488" />
<circle cx="187.76" cy="525.68" r="1.55" fill="#3C5488" />
<circle cx="181.92" cy="531.24" r="1.55" fill="#3C5488" />
<circle cx="193.36" cy="523.38" r="1.55" fill="#3C5488" />
<circle cx="181.29" cy="531.58" r="1.55" fill="#3C5488" />
<circle cx="178.82" cy="519.50" r="1.55" fill="#3C5488" />
<circle cx="183.22" cy="532.36" r="1.55" fill="#3C5488" />
<circle cx="192.55" cy="525.31" r="1.55" fill="#3C5488" />
<circle cx="171.61" cy="524.89" r="1.55" fill="#3C5488" />
<circle cx="170.11" cy="522.92" r="1.55" fill="#3C5488" />
<circle cx="182.61" cy="514.04" r="1.55" fill="#3C5488" />
<circle cx="175.59" cy="523.56" r="1.55" fill="#3C5488" />
<circle cx="181.23" cy="520.88" r="1.55" fill="#3C5488" />
<circle cx="175.01" cy="524.25" r="1.55" fill="#3C5488" />
<circle cx="186.93" cy="521.41" r="1.55" fill="#3C5488" />
<circle cx="189.81" cy="524.23" r="1.55" fill="#3C5488" />
<circle cx="185.87" cy="526.53" r="1.55" fill="#3C5488" />
<circle cx="190.72" cy="522.46" r="1.55" fill="#3C5488" />
<circle cx="174.51" cy="525.98" r="1.55" fill="#3C5488" />
<circle cx="181.13" cy="532.19" r="1.55" fill="#3C5488" />
<circle cx="191.41" cy="524.45" r="1.55" fill="#3C5488" />
<circle cx="177.55" cy="521.14" r="1.55" fill="#3C5488" />
<circle cx="173.43" cy="522.61" r="1.55" fill="#3C5488" />
<circle cx="179.70" cy="528.15" r="1.55" fill="#3C5488" />
<circle cx="171.03" cy="525.12" r="1.55" fill="#3C5488" />
<circle cx="194.17" cy="523.03" r="1.55" fill="#3C5488" />
<circle cx="185.07" cy="516.80" r="1.55" fill="#3C5488" />
<circle cx="179.33" cy="524.11" r="1.55" fill="#3C5488" />
<circle cx="177.93" cy="521.76" r="1.55" fill="#3C5488" />
<circle cx="186.21" cy="523.46" r="1.55" fill="#3C5488" />
<circle cx="191.68" cy="522.88" r="1.55" fill="#3C5488" />
<circle cx="179.51" cy="523.11" r="1.55" fill="#3C5488" />
<circle cx="184.68" cy="531.29" r="1.55" fill="#3C5488" />
<circle cx="186.45" cy="521.23" r="1.55" fill="#3C5488" />
<circle cx="187.22" cy="520.90" r="1.55" fill="#3C5488" />
<circle cx="184.62" cy="521.73" r="1.55" fill="#3C5488" />
<circle cx="182.55" cy="519.98" r="1.55" fill="#3C5488" />
<circle cx="184.36" cy="526.81" r="1.55" fill="#3C5488" />
<circle cx="192.83" cy="523.52" r="1.55" fill="#3C5488" />
<circle cx="177.47" cy="523.73" r="1.55" fill="#3C5488" />
<circle cx="180.79" cy="519.20" r="1.55" fill="#3C5488" />
<circle cx="184.20" cy="523.62" r="1.55" fill="#3C5488" />
<circle cx="184.98" cy="517.04" r="1.55" fill="#3C5488" />
<circle cx="177.97" cy="518.83" r="1.55" fill="#3C5488" />
<circle cx="180.31" cy="532.37" r="1.55" fill="#3C5488" />
<circle cx="182.84" cy="522.79" r="1.55" fill="#3C5488" />
<circle cx="173.11" cy="525.04" r="1.55" fill="#3C5488" />
<circle cx="193.88" cy="523.16" r="1.55" fill="#3C5488" />
<circle cx="176.90" cy="521.38" r="1.55" fill="#3C5488" />
<circle cx="181.44" cy="525.54" r="1.55" fill="#3C5488" />
<circle cx="188.82" cy="525.18" r="1.55" fill="#3C5488" />
<circle cx="182.15" cy="516.15" r="1.55" fill="#3C5488" />
<circle cx="182.48" cy="526.99" r="1.55" fill="#3C5488" />
<circle cx="193.98" cy="522.70" r="1.55" fill="#3C5488" />
<circle cx="184.08" cy="521.09" r="1.55" fill="#3C5488" />
<circle cx="184.76" cy="522.80" r="1.55" fill="#3C5488" />
<circle cx="178.08" cy="518.33" r="1.55" fill="#3C5488" />
<circle cx="183.37" cy="524.76" r="1.55" fill="#3C5488" />
<circle cx="181.72" cy="525.96" r="1.55" fill="#3C5488" />
<circle cx="182.07" cy="526.01" r="1.55" fill="#3C5488" />
<circle cx="177.15" cy="523.37" r="1.55" fill="#3C5488" />
<circle cx="184.51" cy="515.95" r="1.55" fill="#3C5488" />
<circle cx="187.78" cy="519.18" r="1.55" fill="#3C5488" />
<circle cx="183.21" cy="524.38" r="1.55" fill="#3C5488" />
<circle cx="175.69" cy="524.90" r="1.55" fill="#3C5488" />
<circle cx="183.63" cy="526.02" r="1.55" fill="#3C5488" />
<circle cx="185.95" cy="528.58" r="1.55" fill="#3C5488" />
<circle cx="176.75" cy="523.86" r="1.55" fill="#3C5488" />
<circle cx="185.56" cy="530.58" r="1.55" fill="#3C5488" />
<circle cx="184.33" cy="525.05" r="1.55" fill="#3C5488" />
<circle cx="187.90" cy="524.45" r="1.55" fill="#3C5488" />
<circle cx="181.68" cy="533.91" r="1.55" fill="#3C5488" />
<circle cx="174.93" cy="525.61" r="1.55" fill="#3C5488" />
<circle cx="186.85" cy="527.69" r="1.55" fill="#3C5488" />
<circle cx="179.97" cy="518.83" r="1.55" fill="#3C5488" />
<circle cx="179.29" cy="524.93" r="1.55" fill="#3C5488" />
<circle cx="194.24" cy="523.92" r="1.55" fill="#3C5488" />
<circle cx="178.32" cy="526.78" r="1.55" fill="#3C5488" />
<circle cx="175.68" cy="527.18" r="1.55" fill="#3C5488" />
<circle cx="172.63" cy="523.16" r="1.55" fill="#3C5488" />
<circle cx="179.77" cy="525.22" r="1.55" fill="#3C5488" />
<circle cx="186.94" cy="518.60" r="1.55" fill="#3C5488" />
<circle cx="180.19" cy="525.09" r="1.55" fill="#3C5488" />
<circle cx="186.22" cy="525.65" r="1.55" fill="#3C5488" />
<circle cx="186.77" cy="528.46" r="1.55" fill="#3C5488" />
<circle cx="176.76" cy="528.09" r="1.55" fill="#3C5488" />
<circle cx="179.40" cy="525.45" r="1.55" fill="#3C5488" />
<circle cx="182.94" cy="520.65" r="1.55" fill="#3C5488" />
<circle cx="184.19" cy="519.07" r="1.55" fill="#3C5488" />
<circle cx="181.48" cy="515.18" r="1.55" fill="#3C5488" />
<circle cx="185.51" cy="525.92" r="1.55" fill="#3C5488" />
<circle cx="184.10" cy="525.80" r="1.55" fill="#3C5488" />
<circle cx="181.61" cy="519.24" r="1.55" fill="#3C5488" />
<circle cx="191.10" cy="521.10" r="1.55" fill="#3C5488" />
<circle cx="192.14" cy="523.35" r="1.55" fill="#3C5488" />
<circle cx="183.99" cy="519.76" r="1.55" fill="#3C5488" />
<circle cx="181.51" cy="514.40" r="1.55" fill="#3C5488" />
<circle cx="185.26" cy="525.07" r="1.55" fill="#3C5488" />
<circle cx="182.18" cy="538.45" r="1.55" fill="#3C5488" />
<circle cx="177.85" cy="519.84" r="1.55" fill="#3C5488" />
<circle cx="184.48" cy="529.79" r="1.55" fill="#3C5488" />
<circle cx="174.63" cy="526.72" r="1.55" fill="#3C5488" />
<circle cx="192.72" cy="523.70" r="1.55" fill="#3C5488" />
<circle cx="170.52" cy="522.86" r="1.55" fill="#3C5488" />
<circle cx="188.44" cy="521.92" r="1.55" fill="#3C5488" />
<circle cx="189.41" cy="522.66" r="1.55" fill="#3C5488" />
<circle cx="182.80" cy="511.85" r="1.55" fill="#3C5488" />
<circle cx="188.38" cy="521.95" r="1.55" fill="#3C5488" />
<circle cx="176.20" cy="521.69" r="1.55" fill="#3C5488" />
<circle cx="188.65" cy="522.77" r="1.55" fill="#3C5488" />
<circle cx="185.86" cy="528.85" r="1.55" fill="#3C5488" />
<circle cx="178.18" cy="521.69" r="1.55" fill="#3C5488" />
<circle cx="187.82" cy="526.62" r="1.55" fill="#3C5488" />
<circle cx="170.47" cy="524.85" r="1.55" fill="#3C5488" />
<circle cx="188.64" cy="524.10" r="1.55" fill="#3C5488" />
<circle cx="184.99" cy="525.66" r="1.55" fill="#3C5488" />
<circle cx="172.91" cy="526.44" r="1.55" fill="#3C5488" />
<circle cx="179.32" cy="526.07" r="1.55" fill="#3C5488" />
<circle cx="180.64" cy="525.95" r="1.55" fill="#3C5488" />
<circle cx="190.11" cy="522.27" r="1.55" fill="#3C5488" />
<circle cx="185.78" cy="522.54" r="1.55" fill="#3C5488" />
<circle cx="183.94" cy="516.79" r="1.55" fill="#3C5488" />
<circle cx="183.07" cy="520.79" r="1.55" fill="#3C5488" />
<circle cx="182.72" cy="531.75" r="1.55" fill="#3C5488" />
<circle cx="185.57" cy="522.89" r="1.55" fill="#3C5488" />
<circle cx="184.11" cy="524.25" r="1.55" fill="#3C5488" />
<circle cx="178.07" cy="522.48" r="1.55" fill="#3C5488" />
<circle cx="182.26" cy="536.01" r="1.55" fill="#3C5488" />
<circle cx="177.76" cy="519.27" r="1.55" fill="#3C5488" />
<circle cx="184.98" cy="518.88" r="1.55" fill="#3C5488" />
<circle cx="184.14" cy="529.30" r="1.55" fill="#3C5488" />
<circle cx="180.51" cy="525.20" r="1.55" fill="#3C5488" />
<circle cx="172.11" cy="525.89" r="1.55" fill="#3C5488" />
<circle cx="187.96" cy="524.11" r="1.55" fill="#3C5488" />
<circle cx="185.56" cy="528.42" r="1.55" fill="#3C5488" />
<circle cx="178.40" cy="523.34" r="1.55" fill="#3C5488" />
<circle cx="191.60" cy="524.51" r="1.55" fill="#3C5488" />
<circle cx="181.73" cy="516.14" r="1.55" fill="#3C5488" />
<circle cx="192.35" cy="524.33" r="1.55" fill="#3C5488" />
<circle cx="182.41" cy="539.33" r="1.55" fill="#3C5488" />
<circle cx="179.80" cy="516.86" r="1.55" fill="#3C5488" />
<circle cx="179.18" cy="526.37" r="1.55" fill="#3C5488" />
<circle cx="179.83" cy="527.68" r="1.55" fill="#3C5488" />
<circle cx="185.61" cy="517.78" r="1.55" fill="#3C5488" />
<circle cx="194.78" cy="524.14" r="1.55" fill="#3C5488" />
<circle cx="187.03" cy="527.96" r="1.55" fill="#3C5488" />
<circle cx="183.15" cy="523.50" r="1.55" fill="#3C5488" />
<circle cx="182.00" cy="512.36" r="1.55" fill="#3C5488" />
<circle cx="179.61" cy="523.16" r="1.55" fill="#3C5488" />
<circle cx="179.77" cy="526.78" r="1.55" fill="#3C5488" />
<circle cx="185.49" cy="521.40" r="1.55" fill="#3C5488" />
<circle cx="183.25" cy="534.73" r="1.55" fill="#3C5488" />
<circle cx="174.44" cy="523.84" r="1.55" fill="#3C5488" />
<circle cx="176.90" cy="524.93" r="1.55" fill="#3C5488" />
<circle cx="184.53" cy="530.53" r="1.55" fill="#3C5488" />
<circle cx="182.51" cy="516.02" r="1.55" fill="#3C5488" />
<circle cx="189.28" cy="523.04" r="1.55" fill="#3C5488" />
<circle cx="188.26" cy="524.25" r="1.55" fill="#3C5488" />
<circle cx="181.63" cy="513.61" r="1.55" fill="#3C5488" />
<circle cx="191.82" cy="525.37" r="1.55" fill="#3C5488" />
<circle cx="181.82" cy="518.38" r="1.55" fill="#3C5488" />
<circle cx="174.30" cy="525.74" r="1.55" fill="#3C5488" />
<circle cx="176.47" cy="520.29" r="1.55" fill="#3C5488" />
<circle cx="188.32" cy="524.23" r="1.55" fill="#3C5488" />
<circle cx="182.55" cy="532.50" r="1.55" fill="#3C5488" />
<circle cx="170.14" cy="523.96" r="1.55" fill="#3C5488" />
<circle cx="185.61" cy="518.70" r="1.55" fill="#3C5488" />
<circle cx="189.65" cy="527.44" r="1.55" fill="#3C5488" />
<circle cx="175.25" cy="520.81" r="1.55" fill="#3C5488" />
<circle cx="183.90" cy="531.64" r="1.55" fill="#3C5488" />
<circle cx="175.98" cy="525.92" r="1.55" fill="#3C5488" />
<circle cx="184.31" cy="524.05" r="1.55" fill="#3C5488" />
<circle cx="192.32" cy="522.60" r="1.55" fill="#3C5488" />
<circle cx="185.63" cy="518.20" r="1.55" fill="#3C5488" />
<circle cx="178.26" cy="523.52" r="1.55" fill="#3C5488" />
<circle cx="182.57" cy="514.02" r="1.55" fill="#3C5488" />
<circle cx="181.68" cy="521.33" r="1.55" fill="#3C5488" />
<circle cx="188.79" cy="525.37" r="1.55" fill="#3C5488" />
<circle cx="191.92" cy="522.46" r="1.55" fill="#3C5488" />
<circle cx="172.58" cy="526.36" r="1.55" fill="#3C5488" />
<circle cx="179.34" cy="518.78" r="1.55" fill="#3C5488" />
<circle cx="178.67" cy="524.38" r="1.55" fill="#3C5488" />
<circle cx="192.07" cy="523.22" r="1.55" fill="#3C5488" />
<circle cx="179.57" cy="517.31" r="1.55" fill="#3C5488" />
<circle cx="191.78" cy="524.97" r="1.55" fill="#3C5488" />
<circle cx="193.06" cy="522.60" r="1.55" fill="#3C5488" />
<circle cx="180.99" cy="525.35" r="1.55" fill="#3C5488" />
<circle cx="184.02" cy="525.79" r="1.55" fill="#3C5488" />
<circle cx="190.12" cy="521.06" r="1.55" fill="#3C5488" />
<circle cx="187.19" cy="524.40" r="1.55" fill="#3C5488" />
<circle cx="185.95" cy="529.50" r="1.55" fill="#3C5488" />
<circle cx="184.33" cy="517.42" r="1.55" fill="#3C5488" />
<circle cx="184.20" cy="523.20" r="1.55" fill="#3C5488" />
<circle cx="182.56" cy="501.22" r="1.55" fill="#3C5488" />
<circle cx="182.81" cy="502.66" r="1.55" fill="#3C5488" />
<circle cx="182.00" cy="503.38" r="1.55" fill="#3C5488" />
<circle cx="182.64" cy="504.10" r="1.55" fill="#3C5488" />
<circle cx="182.99" cy="504.81" r="1.55" fill="#3C5488" />
<circle cx="183.25" cy="505.53" r="1.55" fill="#3C5488" />
<circle cx="182.80" cy="506.25" r="1.55" fill="#3C5488" />
<circle cx="182.37" cy="506.61" r="1.55" fill="#3C5488" />
<circle cx="183.08" cy="506.97" r="1.55" fill="#3C5488" />
<circle cx="182.60" cy="507.69" r="1.55" fill="#3C5488" />
<circle cx="181.80" cy="508.40" r="1.55" fill="#3C5488" />
<circle cx="182.42" cy="509.12" r="1.55" fill="#3C5488" />
<circle cx="182.25" cy="509.84" r="1.55" fill="#3C5488" />
<circle cx="182.70" cy="510.56" r="1.55" fill="#3C5488" />
<line x1="215.95" y1="506.25" x2="215.95" y2="520.04" stroke="#333333" stroke-width="1.0" />
<line x1="215.95" y1="529.80" x2="215.95" y2="542.15" stroke="#333333" stroke-width="1.0" />
<rect x="202.75" y="520.04" width="26.40" height="9.76" fill="#B8E4EE" stroke="#333333" stroke-width="1.0" />
<line x1="202.75" y1="524.77" x2="229.15" y2="524.77" stroke="#333333" stroke-width="1.9" />
<circle cx="210.57" cy="519.93" r="1.55" fill="#4DBBD5" />
<circle cx="215.86" cy="516.81" r="1.55" fill="#4DBBD5" />
<circle cx="224.02" cy="524.03" r="1.55" fill="#4DBBD5" />
<circle cx="208.30" cy="521.21" r="1.55" fill="#4DBBD5" />
<circle cx="213.04" cy="529.01" r="1.55" fill="#4DBBD5" />
<circle cx="208.60" cy="521.35" r="1.55" fill="#4DBBD5" />
<circle cx="217.89" cy="522.92" r="1.55" fill="#4DBBD5" />
<circle cx="210.31" cy="528.60" r="1.55" fill="#4DBBD5" />
<circle cx="215.14" cy="515.83" r="1.55" fill="#4DBBD5" />
<circle cx="213.54" cy="529.61" r="1.55" fill="#4DBBD5" />
<circle cx="225.55" cy="525.14" r="1.55" fill="#4DBBD5" />
<circle cx="224.78" cy="525.93" r="1.55" fill="#4DBBD5" />
<circle cx="215.59" cy="513.47" r="1.55" fill="#4DBBD5" />
<circle cx="216.01" cy="511.50" r="1.55" fill="#4DBBD5" />
<circle cx="211.30" cy="520.55" r="1.55" fill="#4DBBD5" />
<circle cx="215.61" cy="537.59" r="1.55" fill="#4DBBD5" />
<circle cx="221.61" cy="524.14" r="1.55" fill="#4DBBD5" />
<circle cx="212.84" cy="523.88" r="1.55" fill="#4DBBD5" />
<circle cx="209.05" cy="525.78" r="1.55" fill="#4DBBD5" />
<circle cx="216.32" cy="537.95" r="1.55" fill="#4DBBD5" />
<circle cx="224.27" cy="525.12" r="1.55" fill="#4DBBD5" />
<circle cx="225.20" cy="525.00" r="1.55" fill="#4DBBD5" />
<circle cx="215.37" cy="511.87" r="1.55" fill="#4DBBD5" />
<circle cx="220.11" cy="520.91" r="1.55" fill="#4DBBD5" />
<circle cx="218.24" cy="517.13" r="1.55" fill="#4DBBD5" />
<circle cx="212.99" cy="533.46" r="1.55" fill="#4DBBD5" />
<circle cx="217.00" cy="531.38" r="1.55" fill="#4DBBD5" />
<circle cx="225.06" cy="524.46" r="1.55" fill="#4DBBD5" />
<circle cx="222.20" cy="523.38" r="1.55" fill="#4DBBD5" />
<circle cx="221.92" cy="527.08" r="1.55" fill="#4DBBD5" />
<circle cx="209.93" cy="524.67" r="1.55" fill="#4DBBD5" />
<circle cx="216.62" cy="511.84" r="1.55" fill="#4DBBD5" />
<circle cx="211.34" cy="526.20" r="1.55" fill="#4DBBD5" />
<circle cx="213.26" cy="517.28" r="1.55" fill="#4DBBD5" />
<circle cx="213.60" cy="535.00" r="1.55" fill="#4DBBD5" />
<circle cx="215.81" cy="539.69" r="1.55" fill="#4DBBD5" />
<circle cx="212.93" cy="522.92" r="1.55" fill="#4DBBD5" />
<circle cx="214.57" cy="534.10" r="1.55" fill="#4DBBD5" />
<circle cx="215.29" cy="524.08" r="1.55" fill="#4DBBD5" />
<circle cx="215.65" cy="523.42" r="1.55" fill="#4DBBD5" />
<circle cx="211.01" cy="520.14" r="1.55" fill="#4DBBD5" />
<circle cx="217.26" cy="524.36" r="1.55" fill="#4DBBD5" />
<circle cx="215.79" cy="521.97" r="1.55" fill="#4DBBD5" />
<circle cx="213.79" cy="522.71" r="1.55" fill="#4DBBD5" />
<circle cx="215.59" cy="523.39" r="1.55" fill="#4DBBD5" />
<circle cx="225.28" cy="525.25" r="1.55" fill="#4DBBD5" />
<circle cx="225.09" cy="522.57" r="1.55" fill="#4DBBD5" />
<circle cx="214.18" cy="524.10" r="1.55" fill="#4DBBD5" />
<circle cx="211.16" cy="529.40" r="1.55" fill="#4DBBD5" />
<circle cx="212.98" cy="529.96" r="1.55" fill="#4DBBD5" />
<circle cx="210.53" cy="524.70" r="1.55" fill="#4DBBD5" />
<circle cx="215.49" cy="518.84" r="1.55" fill="#4DBBD5" />
<circle cx="213.10" cy="529.39" r="1.55" fill="#4DBBD5" />
<circle cx="212.68" cy="521.93" r="1.55" fill="#4DBBD5" />
<circle cx="207.92" cy="521.41" r="1.55" fill="#4DBBD5" />
<circle cx="216.16" cy="522.55" r="1.55" fill="#4DBBD5" />
<circle cx="215.94" cy="506.81" r="1.55" fill="#4DBBD5" />
<circle cx="209.17" cy="523.43" r="1.55" fill="#4DBBD5" />
<circle cx="216.65" cy="534.05" r="1.55" fill="#4DBBD5" />
<circle cx="227.65" cy="524.56" r="1.55" fill="#4DBBD5" />
<circle cx="225.37" cy="522.45" r="1.55" fill="#4DBBD5" />
<circle cx="215.17" cy="533.96" r="1.55" fill="#4DBBD5" />
<circle cx="210.37" cy="528.68" r="1.55" fill="#4DBBD5" />
<circle cx="215.59" cy="517.17" r="1.55" fill="#4DBBD5" />
<circle cx="215.72" cy="506.70" r="1.55" fill="#4DBBD5" />
<circle cx="216.09" cy="533.85" r="1.55" fill="#4DBBD5" />
<circle cx="216.10" cy="527.95" r="1.55" fill="#4DBBD5" />
<circle cx="212.96" cy="527.31" r="1.55" fill="#4DBBD5" />
<circle cx="209.73" cy="527.55" r="1.55" fill="#4DBBD5" />
<circle cx="215.43" cy="524.84" r="1.55" fill="#4DBBD5" />
<circle cx="215.19" cy="523.90" r="1.55" fill="#4DBBD5" />
<circle cx="223.74" cy="526.89" r="1.55" fill="#4DBBD5" />
<circle cx="218.77" cy="529.83" r="1.55" fill="#4DBBD5" />
<circle cx="213.67" cy="534.53" r="1.55" fill="#4DBBD5" />
<circle cx="216.73" cy="537.67" r="1.55" fill="#4DBBD5" />
<circle cx="218.80" cy="522.37" r="1.55" fill="#4DBBD5" />
<circle cx="209.85" cy="520.73" r="1.55" fill="#4DBBD5" />
<circle cx="213.49" cy="529.26" r="1.55" fill="#4DBBD5" />
<circle cx="221.62" cy="526.15" r="1.55" fill="#4DBBD5" />
<circle cx="215.72" cy="506.68" r="1.55" fill="#4DBBD5" />
<circle cx="216.60" cy="514.83" r="1.55" fill="#4DBBD5" />
<circle cx="215.35" cy="523.92" r="1.55" fill="#4DBBD5" />
<circle cx="213.27" cy="529.34" r="1.55" fill="#4DBBD5" />
<circle cx="216.10" cy="520.93" r="1.55" fill="#4DBBD5" />
<circle cx="218.08" cy="521.07" r="1.55" fill="#4DBBD5" />
<circle cx="217.88" cy="534.47" r="1.55" fill="#4DBBD5" />
<circle cx="216.15" cy="541.38" r="1.55" fill="#4DBBD5" />
<circle cx="216.61" cy="536.08" r="1.55" fill="#4DBBD5" />
<circle cx="219.44" cy="521.53" r="1.55" fill="#4DBBD5" />
<circle cx="205.50" cy="522.58" r="1.55" fill="#4DBBD5" />
<circle cx="216.95" cy="531.69" r="1.55" fill="#4DBBD5" />
<circle cx="216.99" cy="515.64" r="1.55" fill="#4DBBD5" />
<circle cx="217.88" cy="519.90" r="1.55" fill="#4DBBD5" />
<circle cx="214.49" cy="536.46" r="1.55" fill="#4DBBD5" />
<circle cx="212.73" cy="523.34" r="1.55" fill="#4DBBD5" />
<circle cx="214.21" cy="527.59" r="1.55" fill="#4DBBD5" />
<circle cx="221.20" cy="528.32" r="1.55" fill="#4DBBD5" />
<circle cx="214.76" cy="531.73" r="1.55" fill="#4DBBD5" />
<circle cx="209.95" cy="520.25" r="1.55" fill="#4DBBD5" />
<circle cx="218.65" cy="518.54" r="1.55" fill="#4DBBD5" />
<circle cx="216.11" cy="539.94" r="1.55" fill="#4DBBD5" />
<circle cx="218.89" cy="526.19" r="1.55" fill="#4DBBD5" />
<circle cx="217.56" cy="530.73" r="1.55" fill="#4DBBD5" />
<circle cx="212.03" cy="530.70" r="1.55" fill="#4DBBD5" />
<circle cx="215.86" cy="512.95" r="1.55" fill="#4DBBD5" />
<circle cx="221.07" cy="522.80" r="1.55" fill="#4DBBD5" />
<circle cx="214.81" cy="525.06" r="1.55" fill="#4DBBD5" />
<circle cx="224.25" cy="523.28" r="1.55" fill="#4DBBD5" />
<circle cx="212.40" cy="521.04" r="1.55" fill="#4DBBD5" />
<circle cx="223.94" cy="521.10" r="1.55" fill="#4DBBD5" />
<circle cx="221.73" cy="527.03" r="1.55" fill="#4DBBD5" />
<circle cx="213.71" cy="519.84" r="1.55" fill="#4DBBD5" />
<circle cx="211.55" cy="524.36" r="1.55" fill="#4DBBD5" />
<circle cx="210.62" cy="526.80" r="1.55" fill="#4DBBD5" />
<circle cx="205.65" cy="524.29" r="1.55" fill="#4DBBD5" />
<circle cx="207.20" cy="526.56" r="1.55" fill="#4DBBD5" />
<circle cx="212.53" cy="519.49" r="1.55" fill="#4DBBD5" />
<circle cx="213.88" cy="520.65" r="1.55" fill="#4DBBD5" />
<circle cx="215.75" cy="528.68" r="1.55" fill="#4DBBD5" />
<circle cx="208.22" cy="526.77" r="1.55" fill="#4DBBD5" />
<circle cx="215.17" cy="534.50" r="1.55" fill="#4DBBD5" />
<circle cx="218.77" cy="530.75" r="1.55" fill="#4DBBD5" />
<circle cx="216.34" cy="538.77" r="1.55" fill="#4DBBD5" />
<circle cx="217.19" cy="518.36" r="1.55" fill="#4DBBD5" />
<circle cx="209.89" cy="525.63" r="1.55" fill="#4DBBD5" />
<circle cx="223.07" cy="526.86" r="1.55" fill="#4DBBD5" />
<circle cx="214.35" cy="535.62" r="1.55" fill="#4DBBD5" />
<circle cx="215.76" cy="532.23" r="1.55" fill="#4DBBD5" />
<circle cx="211.75" cy="525.24" r="1.55" fill="#4DBBD5" />
<circle cx="219.10" cy="529.32" r="1.55" fill="#4DBBD5" />
<circle cx="215.07" cy="536.59" r="1.55" fill="#4DBBD5" />
<circle cx="226.68" cy="522.68" r="1.55" fill="#4DBBD5" />
<circle cx="219.28" cy="528.54" r="1.55" fill="#4DBBD5" />
<circle cx="214.30" cy="515.27" r="1.55" fill="#4DBBD5" />
<circle cx="215.02" cy="514.28" r="1.55" fill="#4DBBD5" />
<circle cx="213.92" cy="524.57" r="1.55" fill="#4DBBD5" />
<circle cx="218.93" cy="520.52" r="1.55" fill="#4DBBD5" />
<circle cx="217.57" cy="523.16" r="1.55" fill="#4DBBD5" />
<circle cx="222.20" cy="522.92" r="1.55" fill="#4DBBD5" />
<circle cx="212.95" cy="529.16" r="1.55" fill="#4DBBD5" />
<circle cx="221.47" cy="521.00" r="1.55" fill="#4DBBD5" />
<circle cx="214.19" cy="516.98" r="1.55" fill="#4DBBD5" />
<circle cx="222.12" cy="521.82" r="1.55" fill="#4DBBD5" />
<circle cx="218.22" cy="525.55" r="1.55" fill="#4DBBD5" />
<circle cx="215.79" cy="532.39" r="1.55" fill="#4DBBD5" />
<circle cx="216.06" cy="512.85" r="1.55" fill="#4DBBD5" />
<circle cx="213.24" cy="523.45" r="1.55" fill="#4DBBD5" />
<circle cx="210.26" cy="523.40" r="1.55" fill="#4DBBD5" />
<circle cx="216.47" cy="530.59" r="1.55" fill="#4DBBD5" />
<circle cx="215.45" cy="512.81" r="1.55" fill="#4DBBD5" />
<circle cx="214.69" cy="527.76" r="1.55" fill="#4DBBD5" />
<circle cx="224.09" cy="526.07" r="1.55" fill="#4DBBD5" />
<circle cx="224.80" cy="526.79" r="1.55" fill="#4DBBD5" />
<circle cx="215.43" cy="511.35" r="1.55" fill="#4DBBD5" />
<circle cx="214.82" cy="533.73" r="1.55" fill="#4DBBD5" />
<circle cx="217.52" cy="517.81" r="1.55" fill="#4DBBD5" />
<circle cx="208.20" cy="523.02" r="1.55" fill="#4DBBD5" />
<circle cx="214.12" cy="523.35" r="1.55" fill="#4DBBD5" />
<circle cx="206.35" cy="522.80" r="1.55" fill="#4DBBD5" />
<circle cx="221.61" cy="521.31" r="1.55" fill="#4DBBD5" />
<circle cx="217.98" cy="531.42" r="1.55" fill="#4DBBD5" />
<circle cx="214.55" cy="535.21" r="1.55" fill="#4DBBD5" />
<circle cx="216.34" cy="535.32" r="1.55" fill="#4DBBD5" />
<circle cx="210.46" cy="526.07" r="1.55" fill="#4DBBD5" />
<circle cx="213.80" cy="534.60" r="1.55" fill="#4DBBD5" />
<circle cx="220.50" cy="521.53" r="1.55" fill="#4DBBD5" />
<circle cx="227.01" cy="524.38" r="1.55" fill="#4DBBD5" />
<circle cx="217.21" cy="534.91" r="1.55" fill="#4DBBD5" />
<circle cx="213.52" cy="534.84" r="1.55" fill="#4DBBD5" />
<circle cx="214.41" cy="524.13" r="1.55" fill="#4DBBD5" />
<circle cx="222.08" cy="521.66" r="1.55" fill="#4DBBD5" />
<circle cx="226.76" cy="522.91" r="1.55" fill="#4DBBD5" />
<circle cx="225.34" cy="524.66" r="1.55" fill="#4DBBD5" />
<circle cx="213.57" cy="517.33" r="1.55" fill="#4DBBD5" />
<circle cx="216.80" cy="515.04" r="1.55" fill="#4DBBD5" />
<circle cx="208.85" cy="525.33" r="1.55" fill="#4DBBD5" />
<circle cx="214.36" cy="516.28" r="1.55" fill="#4DBBD5" />
<circle cx="210.18" cy="528.33" r="1.55" fill="#4DBBD5" />
<circle cx="213.49" cy="526.02" r="1.55" fill="#4DBBD5" />
<circle cx="211.76" cy="522.13" r="1.55" fill="#4DBBD5" />
<circle cx="217.37" cy="530.38" r="1.55" fill="#4DBBD5" />
<circle cx="217.08" cy="517.32" r="1.55" fill="#4DBBD5" />
<circle cx="216.49" cy="518.00" r="1.55" fill="#4DBBD5" />
<circle cx="214.76" cy="525.21" r="1.55" fill="#4DBBD5" />
<circle cx="215.94" cy="527.09" r="1.55" fill="#4DBBD5" />
<circle cx="216.28" cy="529.46" r="1.55" fill="#4DBBD5" />
<circle cx="219.49" cy="526.11" r="1.55" fill="#4DBBD5" />
<circle cx="214.20" cy="520.33" r="1.55" fill="#4DBBD5" />
<circle cx="216.09" cy="532.94" r="1.55" fill="#4DBBD5" />
<circle cx="216.59" cy="529.39" r="1.55" fill="#4DBBD5" />
<circle cx="214.79" cy="526.65" r="1.55" fill="#4DBBD5" />
<circle cx="217.56" cy="526.88" r="1.55" fill="#4DBBD5" />
<circle cx="210.11" cy="523.26" r="1.55" fill="#4DBBD5" />
<circle cx="215.05" cy="518.56" r="1.55" fill="#4DBBD5" />
<circle cx="218.07" cy="534.97" r="1.55" fill="#4DBBD5" />
<circle cx="218.84" cy="533.87" r="1.55" fill="#4DBBD5" />
<circle cx="217.91" cy="520.38" r="1.55" fill="#4DBBD5" />
<circle cx="213.96" cy="522.71" r="1.55" fill="#4DBBD5" />
<circle cx="223.43" cy="527.27" r="1.55" fill="#4DBBD5" />
<circle cx="212.56" cy="528.17" r="1.55" fill="#4DBBD5" />
<circle cx="215.98" cy="498.35" r="1.55" fill="#4DBBD5" />
<circle cx="216.00" cy="504.10" r="1.55" fill="#4DBBD5" />
<circle cx="215.90" cy="545.74" r="1.55" fill="#4DBBD5" />
<circle cx="215.98" cy="550.05" r="1.55" fill="#4DBBD5" />
<circle cx="215.91" cy="552.92" r="1.55" fill="#4DBBD5" />
<circle cx="215.93" cy="557.23" r="1.55" fill="#4DBBD5" />
<circle cx="216.03" cy="560.82" r="1.55" fill="#4DBBD5" />
<circle cx="215.94" cy="562.97" r="1.55" fill="#4DBBD5" />
<circle cx="215.93" cy="567.28" r="1.55" fill="#4DBBD5" />
<circle cx="215.98" cy="571.59" r="1.55" fill="#4DBBD5" />
<circle cx="216.00" cy="575.90" r="1.55" fill="#4DBBD5" />
<line x1="249.48" y1="513.43" x2="249.48" y2="531.95" stroke="#333333" stroke-width="1.0" />
<line x1="249.48" y1="551.99" x2="249.48" y2="578.77" stroke="#333333" stroke-width="1.0" />
<rect x="236.28" y="531.95" width="26.40" height="20.03" fill="#F5B7AE" stroke="#333333" stroke-width="1.0" />
<line x1="236.28" y1="541.79" x2="262.68" y2="541.79" stroke="#333333" stroke-width="1.9" />
<circle cx="252.84" cy="548.64" r="1.55" fill="#E64B35" />
<circle cx="247.80" cy="529.00" r="1.55" fill="#E64B35" />
<circle cx="248.23" cy="552.40" r="1.55" fill="#E64B35" />
<circle cx="251.60" cy="559.59" r="1.55" fill="#E64B35" />
<circle cx="252.80" cy="535.44" r="1.55" fill="#E64B35" />
<circle cx="248.05" cy="542.67" r="1.55" fill="#E64B35" />
<circle cx="250.12" cy="523.53" r="1.55" fill="#E64B35" />
<circle cx="248.75" cy="545.16" r="1.55" fill="#E64B35" />
<circle cx="248.02" cy="548.26" r="1.55" fill="#E64B35" />
<circle cx="252.84" cy="537.15" r="1.55" fill="#E64B35" />
<circle cx="245.93" cy="542.04" r="1.55" fill="#E64B35" />
<circle cx="250.64" cy="556.08" r="1.55" fill="#E64B35" />
<circle cx="251.26" cy="545.56" r="1.55" fill="#E64B35" />
<circle cx="251.27" cy="555.82" r="1.55" fill="#E64B35" />
<circle cx="249.92" cy="555.93" r="1.55" fill="#E64B35" />
<circle cx="252.51" cy="541.29" r="1.55" fill="#E64B35" />
<circle cx="251.01" cy="520.57" r="1.55" fill="#E64B35" />
<circle cx="250.53" cy="542.10" r="1.55" fill="#E64B35" />
<circle cx="246.11" cy="536.52" r="1.55" fill="#E64B35" />
<circle cx="252.14" cy="546.81" r="1.55" fill="#E64B35" />
<circle cx="248.66" cy="572.59" r="1.55" fill="#E64B35" />
<circle cx="246.99" cy="543.71" r="1.55" fill="#E64B35" />
<circle cx="248.29" cy="557.76" r="1.55" fill="#E64B35" />
<circle cx="249.51" cy="556.05" r="1.55" fill="#E64B35" />
<circle cx="248.41" cy="557.83" r="1.55" fill="#E64B35" />
<circle cx="249.00" cy="538.69" r="1.55" fill="#E64B35" />
<circle cx="248.17" cy="550.95" r="1.55" fill="#E64B35" />
<circle cx="247.98" cy="525.62" r="1.55" fill="#E64B35" />
<circle cx="250.90" cy="555.87" r="1.55" fill="#E64B35" />
<circle cx="250.33" cy="521.10" r="1.55" fill="#E64B35" />
<circle cx="246.42" cy="552.48" r="1.55" fill="#E64B35" />
<circle cx="250.88" cy="516.87" r="1.55" fill="#E64B35" />
<circle cx="247.27" cy="549.60" r="1.55" fill="#E64B35" />
<circle cx="248.63" cy="562.69" r="1.55" fill="#E64B35" />
<circle cx="251.56" cy="538.91" r="1.55" fill="#E64B35" />
<circle cx="251.81" cy="556.37" r="1.55" fill="#E64B35" />
<circle cx="252.14" cy="526.28" r="1.55" fill="#E64B35" />
<circle cx="251.73" cy="527.75" r="1.55" fill="#E64B35" />
<circle cx="249.77" cy="546.71" r="1.55" fill="#E64B35" />
<circle cx="251.72" cy="523.67" r="1.55" fill="#E64B35" />
<circle cx="251.71" cy="538.59" r="1.55" fill="#E64B35" />
<circle cx="251.68" cy="531.03" r="1.55" fill="#E64B35" />
<circle cx="251.71" cy="563.07" r="1.55" fill="#E64B35" />
<circle cx="252.45" cy="555.70" r="1.55" fill="#E64B35" />
<circle cx="249.33" cy="561.50" r="1.55" fill="#E64B35" />
<circle cx="249.30" cy="520.60" r="1.55" fill="#E64B35" />
<circle cx="251.18" cy="547.06" r="1.55" fill="#E64B35" />
<circle cx="251.76" cy="548.93" r="1.55" fill="#E64B35" />
<circle cx="250.84" cy="526.77" r="1.55" fill="#E64B35" />
<circle cx="248.46" cy="535.32" r="1.55" fill="#E64B35" />
<circle cx="246.51" cy="554.57" r="1.55" fill="#E64B35" />
<circle cx="247.75" cy="563.67" r="1.55" fill="#E64B35" />
<circle cx="252.10" cy="532.84" r="1.55" fill="#E64B35" />
<circle cx="252.23" cy="554.43" r="1.55" fill="#E64B35" />
<circle cx="246.26" cy="550.44" r="1.55" fill="#E64B35" />
<circle cx="248.58" cy="545.14" r="1.55" fill="#E64B35" />
<circle cx="250.31" cy="543.13" r="1.55" fill="#E64B35" />
<circle cx="249.47" cy="533.32" r="1.55" fill="#E64B35" />
<circle cx="247.92" cy="568.78" r="1.55" fill="#E64B35" />
<circle cx="251.87" cy="532.15" r="1.55" fill="#E64B35" />
<circle cx="250.53" cy="536.02" r="1.55" fill="#E64B35" />
<circle cx="248.05" cy="537.54" r="1.55" fill="#E64B35" />
<circle cx="249.32" cy="533.63" r="1.55" fill="#E64B35" />
<circle cx="248.89" cy="520.66" r="1.55" fill="#E64B35" />
<circle cx="250.36" cy="557.02" r="1.55" fill="#E64B35" />
<circle cx="252.32" cy="541.51" r="1.55" fill="#E64B35" />
<circle cx="250.06" cy="538.53" r="1.55" fill="#E64B35" />
<circle cx="248.12" cy="536.24" r="1.55" fill="#E64B35" />
<circle cx="248.31" cy="538.62" r="1.55" fill="#E64B35" />
<circle cx="252.03" cy="536.46" r="1.55" fill="#E64B35" />
<circle cx="250.87" cy="525.93" r="1.55" fill="#E64B35" />
<circle cx="248.56" cy="529.47" r="1.55" fill="#E64B35" />
<circle cx="252.56" cy="535.67" r="1.55" fill="#E64B35" />
<circle cx="250.16" cy="548.18" r="1.55" fill="#E64B35" />
<circle cx="251.46" cy="518.00" r="1.55" fill="#E64B35" />
<circle cx="252.12" cy="532.36" r="1.55" fill="#E64B35" />
<circle cx="246.53" cy="551.26" r="1.55" fill="#E64B35" />
<circle cx="249.13" cy="531.36" r="1.55" fill="#E64B35" />
<circle cx="246.15" cy="546.92" r="1.55" fill="#E64B35" />
<circle cx="252.79" cy="542.32" r="1.55" fill="#E64B35" />
<circle cx="247.43" cy="536.44" r="1.55" fill="#E64B35" />
<circle cx="247.69" cy="528.87" r="1.55" fill="#E64B35" />
<circle cx="249.70" cy="521.57" r="1.55" fill="#E64B35" />
<circle cx="251.45" cy="519.78" r="1.55" fill="#E64B35" />
<circle cx="250.56" cy="550.11" r="1.55" fill="#E64B35" />
<circle cx="251.61" cy="526.36" r="1.55" fill="#E64B35" />
<circle cx="250.44" cy="528.99" r="1.55" fill="#E64B35" />
<circle cx="249.88" cy="526.11" r="1.55" fill="#E64B35" />
<circle cx="249.37" cy="514.99" r="1.55" fill="#E64B35" />
<circle cx="249.98" cy="543.55" r="1.55" fill="#E64B35" />
<circle cx="245.99" cy="541.56" r="1.55" fill="#E64B35" />
<circle cx="248.31" cy="570.17" r="1.55" fill="#E64B35" />
<circle cx="252.91" cy="552.78" r="1.55" fill="#E64B35" />
<circle cx="247.12" cy="536.00" r="1.55" fill="#E64B35" />
<circle cx="248.19" cy="529.03" r="1.55" fill="#E64B35" />
<circle cx="249.59" cy="540.45" r="1.55" fill="#E64B35" />
<circle cx="250.93" cy="526.69" r="1.55" fill="#E64B35" />
<circle cx="246.62" cy="534.44" r="1.55" fill="#E64B35" />
<circle cx="251.56" cy="533.97" r="1.55" fill="#E64B35" />
<circle cx="250.27" cy="538.37" r="1.55" fill="#E64B35" />
<circle cx="246.12" cy="537.35" r="1.55" fill="#E64B35" />
<circle cx="248.65" cy="557.47" r="1.55" fill="#E64B35" />
<circle cx="251.05" cy="568.52" r="1.55" fill="#E64B35" />
<circle cx="251.27" cy="536.42" r="1.55" fill="#E64B35" />
<circle cx="247.78" cy="561.70" r="1.55" fill="#E64B35" />
<circle cx="250.18" cy="561.07" r="1.55" fill="#E64B35" />
<circle cx="246.84" cy="557.42" r="1.55" fill="#E64B35" />
<circle cx="248.85" cy="539.00" r="1.55" fill="#E64B35" />
<circle cx="248.17" cy="538.94" r="1.55" fill="#E64B35" />
<circle cx="253.14" cy="535.73" r="1.55" fill="#E64B35" />
<circle cx="249.52" cy="514.02" r="1.55" fill="#E64B35" />
<circle cx="251.43" cy="565.66" r="1.55" fill="#E64B35" />
<circle cx="249.42" cy="535.23" r="1.55" fill="#E64B35" />
<circle cx="250.87" cy="559.83" r="1.55" fill="#E64B35" />
<circle cx="245.91" cy="541.94" r="1.55" fill="#E64B35" />
<circle cx="252.10" cy="544.30" r="1.55" fill="#E64B35" />
<circle cx="250.28" cy="537.36" r="1.55" fill="#E64B35" />
<circle cx="248.58" cy="541.36" r="1.55" fill="#E64B35" />
<circle cx="252.00" cy="538.58" r="1.55" fill="#E64B35" />
<circle cx="252.23" cy="551.99" r="1.55" fill="#E64B35" />
<circle cx="247.05" cy="542.61" r="1.55" fill="#E64B35" />
<circle cx="246.12" cy="545.07" r="1.55" fill="#E64B35" />
<circle cx="250.40" cy="557.80" r="1.55" fill="#E64B35" />
<circle cx="252.36" cy="538.44" r="1.55" fill="#E64B35" />
<circle cx="246.84" cy="532.94" r="1.55" fill="#E64B35" />
<circle cx="249.96" cy="545.99" r="1.55" fill="#E64B35" />
<circle cx="246.18" cy="535.46" r="1.55" fill="#E64B35" />
<circle cx="246.44" cy="546.48" r="1.55" fill="#E64B35" />
<circle cx="249.51" cy="526.47" r="1.55" fill="#E64B35" />
<circle cx="252.45" cy="535.50" r="1.55" fill="#E64B35" />
<circle cx="251.89" cy="554.07" r="1.55" fill="#E64B35" />
<circle cx="250.59" cy="522.14" r="1.55" fill="#E64B35" />
<circle cx="250.93" cy="551.47" r="1.55" fill="#E64B35" />
<circle cx="248.14" cy="562.77" r="1.55" fill="#E64B35" />
<circle cx="249.20" cy="536.73" r="1.55" fill="#E64B35" />
<circle cx="247.19" cy="555.83" r="1.55" fill="#E64B35" />
<circle cx="247.52" cy="554.36" r="1.55" fill="#E64B35" />
<circle cx="247.01" cy="543.61" r="1.55" fill="#E64B35" />
<circle cx="249.02" cy="539.80" r="1.55" fill="#E64B35" />
<circle cx="246.28" cy="554.57" r="1.55" fill="#E64B35" />
<circle cx="246.95" cy="545.34" r="1.55" fill="#E64B35" />
<circle cx="250.64" cy="529.11" r="1.55" fill="#E64B35" />
<circle cx="250.25" cy="541.00" r="1.55" fill="#E64B35" />
<circle cx="247.69" cy="532.61" r="1.55" fill="#E64B35" />
<circle cx="247.56" cy="549.44" r="1.55" fill="#E64B35" />
<circle cx="250.35" cy="549.88" r="1.55" fill="#E64B35" />
<circle cx="246.73" cy="528.97" r="1.55" fill="#E64B35" />
<circle cx="251.55" cy="539.33" r="1.55" fill="#E64B35" />
<circle cx="251.77" cy="536.63" r="1.55" fill="#E64B35" />
<circle cx="251.21" cy="564.86" r="1.55" fill="#E64B35" />
<circle cx="247.52" cy="526.33" r="1.55" fill="#E64B35" />
<circle cx="251.17" cy="558.27" r="1.55" fill="#E64B35" />
<circle cx="249.74" cy="554.46" r="1.55" fill="#E64B35" />
<circle cx="247.47" cy="539.90" r="1.55" fill="#E64B35" />
<circle cx="251.16" cy="522.38" r="1.55" fill="#E64B35" />
<circle cx="247.72" cy="531.91" r="1.55" fill="#E64B35" />
<circle cx="247.24" cy="553.14" r="1.55" fill="#E64B35" />
<circle cx="252.04" cy="552.96" r="1.55" fill="#E64B35" />
<circle cx="251.25" cy="517.32" r="1.55" fill="#E64B35" />
<circle cx="250.90" cy="530.89" r="1.55" fill="#E64B35" />
<circle cx="247.11" cy="557.96" r="1.55" fill="#E64B35" />
<circle cx="249.21" cy="543.17" r="1.55" fill="#E64B35" />
<circle cx="249.94" cy="520.80" r="1.55" fill="#E64B35" />
<circle cx="248.55" cy="569.83" r="1.55" fill="#E64B35" />
<circle cx="251.13" cy="562.02" r="1.55" fill="#E64B35" />
<circle cx="249.00" cy="530.41" r="1.55" fill="#E64B35" />
<circle cx="249.52" cy="567.00" r="1.55" fill="#E64B35" />
<circle cx="249.40" cy="547.42" r="1.55" fill="#E64B35" />
<circle cx="245.94" cy="543.83" r="1.55" fill="#E64B35" />
<circle cx="252.00" cy="554.54" r="1.55" fill="#E64B35" />
<circle cx="250.90" cy="517.66" r="1.55" fill="#E64B35" />
<circle cx="252.27" cy="533.77" r="1.55" fill="#E64B35" />
<circle cx="249.81" cy="524.18" r="1.55" fill="#E64B35" />
<circle cx="249.04" cy="522.11" r="1.55" fill="#E64B35" />
<circle cx="248.64" cy="520.01" r="1.55" fill="#E64B35" />
<circle cx="247.68" cy="524.01" r="1.55" fill="#E64B35" />
<circle cx="247.57" cy="548.39" r="1.55" fill="#E64B35" />
<circle cx="249.69" cy="521.00" r="1.55" fill="#E64B35" />
<circle cx="248.85" cy="533.07" r="1.55" fill="#E64B35" />
<circle cx="250.55" cy="520.58" r="1.55" fill="#E64B35" />
<circle cx="253.24" cy="537.03" r="1.55" fill="#E64B35" />
<circle cx="247.81" cy="528.69" r="1.55" fill="#E64B35" />
<circle cx="251.58" cy="559.25" r="1.55" fill="#E64B35" />
<circle cx="248.50" cy="551.50" r="1.55" fill="#E64B35" />
<circle cx="249.10" cy="526.65" r="1.55" fill="#E64B35" />
<circle cx="248.34" cy="527.70" r="1.55" fill="#E64B35" />
<circle cx="250.22" cy="523.66" r="1.55" fill="#E64B35" />
<circle cx="249.11" cy="546.95" r="1.55" fill="#E64B35" />
<circle cx="248.00" cy="565.47" r="1.55" fill="#E64B35" />
<circle cx="250.14" cy="535.31" r="1.55" fill="#E64B35" />
<circle cx="246.93" cy="550.55" r="1.55" fill="#E64B35" />
<circle cx="248.23" cy="557.80" r="1.55" fill="#E64B35" />
<circle cx="248.91" cy="545.78" r="1.55" fill="#E64B35" />
<circle cx="251.81" cy="554.10" r="1.55" fill="#E64B35" />
<circle cx="251.34" cy="533.36" r="1.55" fill="#E64B35" />
<circle cx="249.98" cy="560.15" r="1.55" fill="#E64B35" />
<circle cx="249.30" cy="550.93" r="1.55" fill="#E64B35" />
<circle cx="247.83" cy="535.69" r="1.55" fill="#E64B35" />
<circle cx="249.57" cy="562.20" r="1.55" fill="#E64B35" />
<circle cx="249.33" cy="524.22" r="1.55" fill="#E64B35" />
<circle cx="249.54" cy="545.47" r="1.55" fill="#E64B35" />
<circle cx="249.48" cy="555.39" r="1.55" fill="#E64B35" />
<circle cx="247.83" cy="529.05" r="1.55" fill="#E64B35" />
<circle cx="248.46" cy="552.18" r="1.55" fill="#E64B35" />
<circle cx="248.69" cy="547.96" r="1.55" fill="#E64B35" />
<circle cx="246.43" cy="543.88" r="1.55" fill="#E64B35" />
<circle cx="246.74" cy="554.14" r="1.55" fill="#E64B35" />
<circle cx="251.13" cy="544.53" r="1.55" fill="#E64B35" />
<circle cx="248.40" cy="556.22" r="1.55" fill="#E64B35" />
<circle cx="251.01" cy="540.39" r="1.55" fill="#E64B35" />
<circle cx="251.76" cy="532.40" r="1.55" fill="#E64B35" />
<circle cx="250.46" cy="532.44" r="1.55" fill="#E64B35" />
<circle cx="249.33" cy="565.02" r="1.55" fill="#E64B35" />
<circle cx="251.75" cy="549.60" r="1.55" fill="#E64B35" />
<circle cx="249.84" cy="535.59" r="1.55" fill="#E64B35" />
<circle cx="246.05" cy="536.04" r="1.55" fill="#E64B35" />
<circle cx="250.64" cy="565.80" r="1.55" fill="#E64B35" />
<circle cx="249.34" cy="526.91" r="1.55" fill="#E64B35" />
<circle cx="249.54" cy="550.53" r="1.55" fill="#E64B35" />
<circle cx="250.81" cy="529.81" r="1.55" fill="#E64B35" />
<circle cx="250.69" cy="554.97" r="1.55" fill="#E64B35" />
<circle cx="252.84" cy="540.66" r="1.55" fill="#E64B35" />
<circle cx="250.32" cy="545.12" r="1.55" fill="#E64B35" />
<circle cx="248.29" cy="568.95" r="1.55" fill="#E64B35" />
<circle cx="250.56" cy="543.98" r="1.55" fill="#E64B35" />
<circle cx="251.13" cy="555.47" r="1.55" fill="#E64B35" />
<circle cx="246.09" cy="551.43" r="1.55" fill="#E64B35" />
<circle cx="250.75" cy="550.33" r="1.55" fill="#E64B35" />
<circle cx="250.36" cy="545.52" r="1.55" fill="#E64B35" />
<circle cx="250.04" cy="570.41" r="1.55" fill="#E64B35" />
<circle cx="248.79" cy="550.75" r="1.55" fill="#E64B35" />
<circle cx="248.62" cy="561.67" r="1.55" fill="#E64B35" />
<circle cx="250.01" cy="541.58" r="1.55" fill="#E64B35" />
<circle cx="247.43" cy="541.71" r="1.55" fill="#E64B35" />
<circle cx="251.73" cy="540.23" r="1.55" fill="#E64B35" />
<circle cx="247.39" cy="528.25" r="1.55" fill="#E64B35" />
<circle cx="249.87" cy="539.14" r="1.55" fill="#E64B35" />
<circle cx="250.52" cy="552.85" r="1.55" fill="#E64B35" />
<circle cx="247.85" cy="537.81" r="1.55" fill="#E64B35" />
<circle cx="246.78" cy="540.79" r="1.55" fill="#E64B35" />
<circle cx="250.09" cy="578.77" r="1.55" fill="#E64B35" />
<circle cx="250.30" cy="576.61" r="1.55" fill="#E64B35" />
<polyline points="215.95,473.00 215.95,470.40 249.48,470.40 249.48,473.00" fill="none" stroke="#333333" stroke-width="0.9"/>
<text x="232.92" y="468.60" font-size="8.85" text-anchor="middle" fill="#000" font-weight="normal" >p &lt; 2.22e–16</text>
<polyline points="182.42,484.20 182.42,481.60 215.95,481.60 215.95,484.20" fill="none" stroke="#333333" stroke-width="0.9"/>
<text x="199.38" y="479.80" font-size="8.85" text-anchor="middle" fill="#000" font-weight="normal" >0.73</text>
<polyline points="182.42,495.60 182.42,493.00 249.48,493.00 249.48,495.60" fill="none" stroke="#333333" stroke-width="0.9"/>
<text x="216.15" y="491.20" font-size="8.85" text-anchor="middle" fill="#000" font-weight="normal" >p &lt; 2.22e–16</text>
<rect x="290.10" y="442.30" width="107.60" height="16.50" fill="#A41B35" stroke="#1a1a1a" stroke-width="0.8" />
<text x="343.90" y="454.20" font-size="8.7" text-anchor="middle" fill="#fff" font-weight="bold" >WID–blood–BC</text>
<line x1="290.10" y1="571.60" x2="397.70" y2="571.60" stroke="#EBEBEB" stroke-width="0.5" />
<line x1="290.10" y1="542.80" x2="397.70" y2="542.80" stroke="#EBEBEB" stroke-width="0.5" />
<line x1="290.10" y1="514.00" x2="397.70" y2="514.00" stroke="#EBEBEB" stroke-width="0.5" />
<line x1="290.10" y1="485.20" x2="397.70" y2="485.20" stroke="#EBEBEB" stroke-width="0.5" />
<line x1="290.10" y1="557.20" x2="397.70" y2="557.20" stroke="#EBEBEB" stroke-width="1" />
<line x1="290.10" y1="528.40" x2="397.70" y2="528.40" stroke="#EBEBEB" stroke-width="1" />
<line x1="290.10" y1="499.60" x2="397.70" y2="499.60" stroke="#EBEBEB" stroke-width="1" />
<line x1="290.10" y1="470.80" x2="397.70" y2="470.80" stroke="#EBEBEB" stroke-width="1" />
<line x1="310.28" y1="458.80" x2="310.28" y2="585.00" stroke="#EBEBEB" stroke-width="1" />
<line x1="343.90" y1="458.80" x2="343.90" y2="585.00" stroke="#EBEBEB" stroke-width="1" />
<line x1="377.52" y1="458.80" x2="377.52" y2="585.00" stroke="#EBEBEB" stroke-width="1" />
<text x="285.90" y="560.30" font-size="8.8" text-anchor="end" fill="#4D4D4D" font-weight="normal" >–2</text>
<text x="285.90" y="531.50" font-size="8.8" text-anchor="end" fill="#4D4D4D" font-weight="normal" >0</text>
<text x="285.90" y="502.70" font-size="8.8" text-anchor="end" fill="#4D4D4D" font-weight="normal" >2</text>
<text x="285.90" y="473.90" font-size="8.8" text-anchor="end" fill="#4D4D4D" font-weight="normal" >4</text>
<line x1="310.28" y1="509.68" x2="310.28" y2="523.65" stroke="#333333" stroke-width="1.0" />
<line x1="310.28" y1="533.15" x2="310.28" y2="545.68" stroke="#333333" stroke-width="1.0" />
<rect x="297.08" y="523.65" width="26.40" height="9.50" fill="#B1BBCF" stroke="#333333" stroke-width="1.0" />
<line x1="297.08" y1="528.40" x2="323.48" y2="528.40" stroke="#333333" stroke-width="1.9" />
<circle cx="308.29" cy="526.58" r="1.55" fill="#3C5488" />
<circle cx="312.32" cy="521.89" r="1.55" fill="#3C5488" />
<circle cx="317.50" cy="529.26" r="1.55" fill="#3C5488" />
<circle cx="312.46" cy="532.51" r="1.55" fill="#3C5488" />
<circle cx="309.95" cy="528.10" r="1.55" fill="#3C5488" />
<circle cx="317.48" cy="527.69" r="1.55" fill="#3C5488" />
<circle cx="307.99" cy="522.39" r="1.55" fill="#3C5488" />
<circle cx="316.36" cy="531.35" r="1.55" fill="#3C5488" />
<circle cx="310.71" cy="514.09" r="1.55" fill="#3C5488" />
<circle cx="308.65" cy="538.40" r="1.55" fill="#3C5488" />
<circle cx="307.07" cy="533.03" r="1.55" fill="#3C5488" />
<circle cx="305.51" cy="526.70" r="1.55" fill="#3C5488" />
<circle cx="306.85" cy="527.44" r="1.55" fill="#3C5488" />
<circle cx="311.66" cy="519.81" r="1.55" fill="#3C5488" />
<circle cx="311.83" cy="522.12" r="1.55" fill="#3C5488" />
<circle cx="310.53" cy="542.16" r="1.55" fill="#3C5488" />
<circle cx="309.69" cy="521.75" r="1.55" fill="#3C5488" />
<circle cx="306.00" cy="526.37" r="1.55" fill="#3C5488" />
<circle cx="308.00" cy="517.94" r="1.55" fill="#3C5488" />
<circle cx="310.45" cy="532.18" r="1.55" fill="#3C5488" />
<circle cx="313.04" cy="528.47" r="1.55" fill="#3C5488" />
<circle cx="310.93" cy="513.94" r="1.55" fill="#3C5488" />
<circle cx="306.32" cy="530.33" r="1.55" fill="#3C5488" />
<circle cx="308.95" cy="541.34" r="1.55" fill="#3C5488" />
<circle cx="308.47" cy="534.36" r="1.55" fill="#3C5488" />
<circle cx="306.57" cy="524.00" r="1.55" fill="#3C5488" />
<circle cx="308.42" cy="537.10" r="1.55" fill="#3C5488" />
<circle cx="311.30" cy="531.65" r="1.55" fill="#3C5488" />
<circle cx="311.75" cy="534.05" r="1.55" fill="#3C5488" />
<circle cx="306.44" cy="529.33" r="1.55" fill="#3C5488" />
<circle cx="312.76" cy="538.07" r="1.55" fill="#3C5488" />
<circle cx="309.63" cy="508.83" r="1.55" fill="#3C5488" />
<circle cx="309.33" cy="516.87" r="1.55" fill="#3C5488" />
<circle cx="312.09" cy="538.97" r="1.55" fill="#3C5488" />
<circle cx="311.47" cy="536.94" r="1.55" fill="#3C5488" />
<circle cx="310.53" cy="527.66" r="1.55" fill="#3C5488" />
<circle cx="310.06" cy="508.25" r="1.55" fill="#3C5488" />
<circle cx="311.95" cy="522.99" r="1.55" fill="#3C5488" />
<circle cx="310.48" cy="536.72" r="1.55" fill="#3C5488" />
<circle cx="308.06" cy="520.69" r="1.55" fill="#3C5488" />
<circle cx="311.52" cy="528.44" r="1.55" fill="#3C5488" />
<circle cx="314.94" cy="524.17" r="1.55" fill="#3C5488" />
<circle cx="316.84" cy="529.56" r="1.55" fill="#3C5488" />
<circle cx="306.23" cy="526.34" r="1.55" fill="#3C5488" />
<circle cx="307.19" cy="524.69" r="1.55" fill="#3C5488" />
<circle cx="307.47" cy="535.43" r="1.55" fill="#3C5488" />
<circle cx="310.74" cy="537.83" r="1.55" fill="#3C5488" />
<circle cx="313.23" cy="531.86" r="1.55" fill="#3C5488" />
<circle cx="311.98" cy="540.62" r="1.55" fill="#3C5488" />
<circle cx="311.46" cy="536.19" r="1.55" fill="#3C5488" />
<circle cx="308.72" cy="531.29" r="1.55" fill="#3C5488" />
<circle cx="315.91" cy="525.02" r="1.55" fill="#3C5488" />
<circle cx="306.94" cy="535.86" r="1.55" fill="#3C5488" />
<circle cx="311.89" cy="528.92" r="1.55" fill="#3C5488" />
<circle cx="311.19" cy="538.96" r="1.55" fill="#3C5488" />
<circle cx="309.67" cy="534.77" r="1.55" fill="#3C5488" />
<circle cx="315.04" cy="530.69" r="1.55" fill="#3C5488" />
<circle cx="311.26" cy="513.72" r="1.55" fill="#3C5488" />
<circle cx="310.39" cy="534.75" r="1.55" fill="#3C5488" />
<circle cx="309.90" cy="538.14" r="1.55" fill="#3C5488" />
<circle cx="312.72" cy="519.82" r="1.55" fill="#3C5488" />
<circle cx="303.92" cy="531.35" r="1.55" fill="#3C5488" />
<circle cx="302.77" cy="529.78" r="1.55" fill="#3C5488" />
<circle cx="302.90" cy="529.18" r="1.55" fill="#3C5488" />
<circle cx="309.05" cy="528.64" r="1.55" fill="#3C5488" />
<circle cx="310.67" cy="525.48" r="1.55" fill="#3C5488" />
<circle cx="309.73" cy="517.35" r="1.55" fill="#3C5488" />
<circle cx="309.38" cy="535.98" r="1.55" fill="#3C5488" />
<circle cx="309.57" cy="517.84" r="1.55" fill="#3C5488" />
<circle cx="307.51" cy="522.33" r="1.55" fill="#3C5488" />
<circle cx="316.48" cy="526.41" r="1.55" fill="#3C5488" />
<circle cx="308.52" cy="525.85" r="1.55" fill="#3C5488" />
<circle cx="311.00" cy="529.19" r="1.55" fill="#3C5488" />
<circle cx="305.23" cy="526.48" r="1.55" fill="#3C5488" />
<circle cx="308.73" cy="516.98" r="1.55" fill="#3C5488" />
<circle cx="307.26" cy="522.67" r="1.55" fill="#3C5488" />
<circle cx="315.26" cy="527.72" r="1.55" fill="#3C5488" />
<circle cx="308.16" cy="518.36" r="1.55" fill="#3C5488" />
<circle cx="307.14" cy="529.29" r="1.55" fill="#3C5488" />
<circle cx="311.25" cy="526.27" r="1.55" fill="#3C5488" />
<circle cx="304.92" cy="525.75" r="1.55" fill="#3C5488" />
<circle cx="310.22" cy="528.24" r="1.55" fill="#3C5488" />
<circle cx="310.04" cy="536.77" r="1.55" fill="#3C5488" />
<circle cx="310.69" cy="544.45" r="1.55" fill="#3C5488" />
<circle cx="312.02" cy="522.57" r="1.55" fill="#3C5488" />
<circle cx="305.79" cy="528.17" r="1.55" fill="#3C5488" />
<circle cx="304.17" cy="528.44" r="1.55" fill="#3C5488" />
<circle cx="315.28" cy="525.16" r="1.55" fill="#3C5488" />
<circle cx="306.99" cy="536.36" r="1.55" fill="#3C5488" />
<circle cx="315.78" cy="526.03" r="1.55" fill="#3C5488" />
<circle cx="307.85" cy="528.40" r="1.55" fill="#3C5488" />
<circle cx="311.18" cy="515.59" r="1.55" fill="#3C5488" />
<circle cx="313.97" cy="524.86" r="1.55" fill="#3C5488" />
<circle cx="310.51" cy="514.01" r="1.55" fill="#3C5488" />
<circle cx="309.79" cy="520.39" r="1.55" fill="#3C5488" />
<circle cx="309.93" cy="530.62" r="1.55" fill="#3C5488" />
<circle cx="305.31" cy="524.77" r="1.55" fill="#3C5488" />
<circle cx="313.95" cy="535.07" r="1.55" fill="#3C5488" />
<circle cx="317.73" cy="530.27" r="1.55" fill="#3C5488" />
<circle cx="304.35" cy="525.70" r="1.55" fill="#3C5488" />
<circle cx="316.91" cy="531.17" r="1.55" fill="#3C5488" />
<circle cx="305.86" cy="528.69" r="1.55" fill="#3C5488" />
<circle cx="302.77" cy="527.20" r="1.55" fill="#3C5488" />
<circle cx="310.68" cy="506.61" r="1.55" fill="#3C5488" />
<circle cx="308.22" cy="536.16" r="1.55" fill="#3C5488" />
<circle cx="309.05" cy="517.70" r="1.55" fill="#3C5488" />
<circle cx="312.41" cy="535.00" r="1.55" fill="#3C5488" />
<circle cx="312.43" cy="534.32" r="1.55" fill="#3C5488" />
<circle cx="308.17" cy="525.67" r="1.55" fill="#3C5488" />
<circle cx="303.86" cy="526.61" r="1.55" fill="#3C5488" />
<circle cx="314.41" cy="527.21" r="1.55" fill="#3C5488" />
<circle cx="304.60" cy="531.33" r="1.55" fill="#3C5488" />
<circle cx="314.21" cy="526.10" r="1.55" fill="#3C5488" />
<circle cx="309.39" cy="527.53" r="1.55" fill="#3C5488" />
<circle cx="311.66" cy="522.08" r="1.55" fill="#3C5488" />
<circle cx="305.78" cy="531.11" r="1.55" fill="#3C5488" />
<circle cx="309.16" cy="527.31" r="1.55" fill="#3C5488" />
<circle cx="317.53" cy="527.74" r="1.55" fill="#3C5488" />
<circle cx="309.45" cy="512.32" r="1.55" fill="#3C5488" />
<circle cx="310.36" cy="519.75" r="1.55" fill="#3C5488" />
<circle cx="317.55" cy="528.51" r="1.55" fill="#3C5488" />
<circle cx="310.89" cy="521.06" r="1.55" fill="#3C5488" />
<circle cx="310.27" cy="544.70" r="1.55" fill="#3C5488" />
<circle cx="318.24" cy="529.46" r="1.55" fill="#3C5488" />
<circle cx="311.14" cy="540.75" r="1.55" fill="#3C5488" />
<circle cx="314.15" cy="529.69" r="1.55" fill="#3C5488" />
<circle cx="314.11" cy="532.04" r="1.55" fill="#3C5488" />
<circle cx="315.21" cy="528.29" r="1.55" fill="#3C5488" />
<circle cx="307.94" cy="524.78" r="1.55" fill="#3C5488" />
<circle cx="302.90" cy="527.06" r="1.55" fill="#3C5488" />
<circle cx="307.68" cy="537.45" r="1.55" fill="#3C5488" />
<circle cx="310.59" cy="530.35" r="1.55" fill="#3C5488" />
<circle cx="311.76" cy="518.81" r="1.55" fill="#3C5488" />
<circle cx="305.48" cy="526.76" r="1.55" fill="#3C5488" />
<circle cx="308.71" cy="529.35" r="1.55" fill="#3C5488" />
<circle cx="308.72" cy="518.46" r="1.55" fill="#3C5488" />
<circle cx="308.15" cy="521.78" r="1.55" fill="#3C5488" />
<circle cx="309.40" cy="540.85" r="1.55" fill="#3C5488" />
<circle cx="309.51" cy="529.14" r="1.55" fill="#3C5488" />
<circle cx="306.43" cy="530.50" r="1.55" fill="#3C5488" />
<circle cx="310.04" cy="520.83" r="1.55" fill="#3C5488" />
<circle cx="312.74" cy="531.92" r="1.55" fill="#3C5488" />
<circle cx="310.74" cy="542.39" r="1.55" fill="#3C5488" />
<circle cx="306.11" cy="532.93" r="1.55" fill="#3C5488" />
<circle cx="309.56" cy="522.71" r="1.55" fill="#3C5488" />
<circle cx="310.58" cy="534.49" r="1.55" fill="#3C5488" />
<circle cx="306.67" cy="528.29" r="1.55" fill="#3C5488" />
<circle cx="307.97" cy="528.39" r="1.55" fill="#3C5488" />
<circle cx="306.01" cy="528.02" r="1.55" fill="#3C5488" />
<circle cx="311.58" cy="523.11" r="1.55" fill="#3C5488" />
<circle cx="308.32" cy="525.06" r="1.55" fill="#3C5488" />
<circle cx="303.86" cy="526.00" r="1.55" fill="#3C5488" />
<circle cx="309.33" cy="532.43" r="1.55" fill="#3C5488" />
<circle cx="315.13" cy="526.09" r="1.55" fill="#3C5488" />
<circle cx="304.68" cy="531.51" r="1.55" fill="#3C5488" />
<circle cx="305.28" cy="525.27" r="1.55" fill="#3C5488" />
<circle cx="305.28" cy="524.96" r="1.55" fill="#3C5488" />
<circle cx="309.69" cy="511.37" r="1.55" fill="#3C5488" />
<circle cx="309.92" cy="544.71" r="1.55" fill="#3C5488" />
<circle cx="311.17" cy="520.75" r="1.55" fill="#3C5488" />
<circle cx="309.42" cy="521.72" r="1.55" fill="#3C5488" />
<circle cx="312.45" cy="532.01" r="1.55" fill="#3C5488" />
<circle cx="306.41" cy="526.84" r="1.55" fill="#3C5488" />
<circle cx="307.72" cy="519.42" r="1.55" fill="#3C5488" />
<circle cx="314.21" cy="524.00" r="1.55" fill="#3C5488" />
<circle cx="310.44" cy="514.13" r="1.55" fill="#3C5488" />
<circle cx="309.53" cy="530.81" r="1.55" fill="#3C5488" />
<circle cx="307.35" cy="520.08" r="1.55" fill="#3C5488" />
<circle cx="310.86" cy="519.77" r="1.55" fill="#3C5488" />
<circle cx="314.39" cy="532.89" r="1.55" fill="#3C5488" />
<circle cx="303.93" cy="528.31" r="1.55" fill="#3C5488" />
<circle cx="303.11" cy="529.20" r="1.55" fill="#3C5488" />
<circle cx="310.05" cy="540.81" r="1.55" fill="#3C5488" />
<circle cx="311.49" cy="522.42" r="1.55" fill="#3C5488" />
<circle cx="307.57" cy="518.41" r="1.55" fill="#3C5488" />
<circle cx="307.55" cy="534.17" r="1.55" fill="#3C5488" />
<circle cx="317.89" cy="526.86" r="1.55" fill="#3C5488" />
<circle cx="311.59" cy="518.83" r="1.55" fill="#3C5488" />
<circle cx="311.31" cy="540.92" r="1.55" fill="#3C5488" />
<circle cx="313.73" cy="532.11" r="1.55" fill="#3C5488" />
<circle cx="307.33" cy="520.59" r="1.55" fill="#3C5488" />
<circle cx="314.93" cy="526.72" r="1.55" fill="#3C5488" />
<circle cx="309.77" cy="511.61" r="1.55" fill="#3C5488" />
<circle cx="306.38" cy="526.05" r="1.55" fill="#3C5488" />
<circle cx="314.06" cy="523.43" r="1.55" fill="#3C5488" />
<circle cx="307.03" cy="526.05" r="1.55" fill="#3C5488" />
<circle cx="307.99" cy="520.66" r="1.55" fill="#3C5488" />
<circle cx="313.75" cy="532.88" r="1.55" fill="#3C5488" />
<circle cx="309.63" cy="536.03" r="1.55" fill="#3C5488" />
<circle cx="311.70" cy="516.91" r="1.55" fill="#3C5488" />
<circle cx="307.25" cy="533.93" r="1.55" fill="#3C5488" />
<circle cx="309.87" cy="519.79" r="1.55" fill="#3C5488" />
<circle cx="307.40" cy="533.91" r="1.55" fill="#3C5488" />
<circle cx="306.41" cy="532.90" r="1.55" fill="#3C5488" />
<circle cx="310.39" cy="542.83" r="1.55" fill="#3C5488" />
<circle cx="309.80" cy="536.17" r="1.55" fill="#3C5488" />
<circle cx="307.00" cy="531.86" r="1.55" fill="#3C5488" />
<circle cx="311.40" cy="542.60" r="1.55" fill="#3C5488" />
<circle cx="312.69" cy="530.23" r="1.55" fill="#3C5488" />
<circle cx="306.72" cy="526.43" r="1.55" fill="#3C5488" />
<circle cx="309.64" cy="509.59" r="1.55" fill="#3C5488" />
<circle cx="312.90" cy="534.28" r="1.55" fill="#3C5488" />
<circle cx="303.73" cy="529.66" r="1.55" fill="#3C5488" />
<circle cx="305.58" cy="528.83" r="1.55" fill="#3C5488" />
<circle cx="305.83" cy="531.62" r="1.55" fill="#3C5488" />
<circle cx="311.25" cy="542.89" r="1.55" fill="#3C5488" />
<circle cx="303.94" cy="530.22" r="1.55" fill="#3C5488" />
<circle cx="307.63" cy="525.90" r="1.55" fill="#3C5488" />
<circle cx="311.80" cy="528.67" r="1.55" fill="#3C5488" />
<circle cx="316.15" cy="527.98" r="1.55" fill="#3C5488" />
<circle cx="312.26" cy="534.82" r="1.55" fill="#3C5488" />
<circle cx="310.89" cy="532.92" r="1.55" fill="#3C5488" />
<circle cx="317.65" cy="528.11" r="1.55" fill="#3C5488" />
<circle cx="309.98" cy="538.20" r="1.55" fill="#3C5488" />
<circle cx="316.19" cy="531.50" r="1.55" fill="#3C5488" />
<circle cx="311.81" cy="518.05" r="1.55" fill="#3C5488" />
<circle cx="311.56" cy="516.25" r="1.55" fill="#3C5488" />
<circle cx="310.44" cy="517.44" r="1.55" fill="#3C5488" />
<circle cx="307.10" cy="528.83" r="1.55" fill="#3C5488" />
<circle cx="309.45" cy="514.59" r="1.55" fill="#3C5488" />
<circle cx="314.04" cy="527.47" r="1.55" fill="#3C5488" />
<circle cx="308.68" cy="539.51" r="1.55" fill="#3C5488" />
<circle cx="307.81" cy="528.43" r="1.55" fill="#3C5488" />
<circle cx="310.36" cy="508.10" r="1.55" fill="#3C5488" />
<circle cx="316.84" cy="531.28" r="1.55" fill="#3C5488" />
<circle cx="311.94" cy="530.99" r="1.55" fill="#3C5488" />
<circle cx="310.94" cy="539.76" r="1.55" fill="#3C5488" />
<circle cx="304.66" cy="530.29" r="1.55" fill="#3C5488" />
<circle cx="307.97" cy="538.64" r="1.55" fill="#3C5488" />
<circle cx="310.16" cy="509.16" r="1.55" fill="#3C5488" />
<circle cx="311.94" cy="528.42" r="1.55" fill="#3C5488" />
<circle cx="305.02" cy="532.31" r="1.55" fill="#3C5488" />
<circle cx="307.49" cy="531.24" r="1.55" fill="#3C5488" />
<circle cx="304.07" cy="527.24" r="1.55" fill="#3C5488" />
<circle cx="311.22" cy="535.47" r="1.55" fill="#3C5488" />
<circle cx="309.84" cy="523.06" r="1.55" fill="#3C5488" />
<circle cx="308.65" cy="531.51" r="1.55" fill="#3C5488" />
<circle cx="309.88" cy="529.00" r="1.55" fill="#3C5488" />
<circle cx="310.67" cy="511.61" r="1.55" fill="#3C5488" />
<circle cx="316.48" cy="529.04" r="1.55" fill="#3C5488" />
<circle cx="310.29" cy="502.48" r="1.55" fill="#3C5488" />
<circle cx="310.30" cy="503.92" r="1.55" fill="#3C5488" />
<line x1="343.90" y1="503.20" x2="343.90" y2="515.01" stroke="#333333" stroke-width="1.0" />
<line x1="343.90" y1="524.94" x2="343.90" y2="539.92" stroke="#333333" stroke-width="1.0" />
<rect x="330.70" y="515.01" width="26.40" height="9.94" fill="#B8E4EE" stroke="#333333" stroke-width="1.0" />
<line x1="330.70" y1="520.91" x2="357.10" y2="520.91" stroke="#333333" stroke-width="1.9" />
<circle cx="345.11" cy="524.74" r="1.55" fill="#4DBBD5" />
<circle cx="345.17" cy="513.18" r="1.55" fill="#4DBBD5" />
<circle cx="343.92" cy="540.65" r="1.55" fill="#4DBBD5" />
<circle cx="339.75" cy="525.69" r="1.55" fill="#4DBBD5" />
<circle cx="348.23" cy="524.10" r="1.55" fill="#4DBBD5" />
<circle cx="338.23" cy="517.68" r="1.55" fill="#4DBBD5" />
<circle cx="348.68" cy="516.51" r="1.55" fill="#4DBBD5" />
<circle cx="346.49" cy="511.68" r="1.55" fill="#4DBBD5" />
<circle cx="337.95" cy="517.03" r="1.55" fill="#4DBBD5" />
<circle cx="345.80" cy="521.59" r="1.55" fill="#4DBBD5" />
<circle cx="342.84" cy="533.51" r="1.55" fill="#4DBBD5" />
<circle cx="337.64" cy="523.26" r="1.55" fill="#4DBBD5" />
<circle cx="348.37" cy="518.27" r="1.55" fill="#4DBBD5" />
<circle cx="343.58" cy="513.34" r="1.55" fill="#4DBBD5" />
<circle cx="339.73" cy="521.96" r="1.55" fill="#4DBBD5" />
<circle cx="340.23" cy="516.36" r="1.55" fill="#4DBBD5" />
<circle cx="341.72" cy="525.72" r="1.55" fill="#4DBBD5" />
<circle cx="345.95" cy="523.14" r="1.55" fill="#4DBBD5" />
<circle cx="345.48" cy="520.18" r="1.55" fill="#4DBBD5" />
<circle cx="338.47" cy="523.64" r="1.55" fill="#4DBBD5" />
<circle cx="341.88" cy="522.34" r="1.55" fill="#4DBBD5" />
<circle cx="350.45" cy="521.87" r="1.55" fill="#4DBBD5" />
<circle cx="336.99" cy="519.16" r="1.55" fill="#4DBBD5" />
<circle cx="344.91" cy="510.06" r="1.55" fill="#4DBBD5" />
<circle cx="341.41" cy="511.35" r="1.55" fill="#4DBBD5" />
<circle cx="346.65" cy="524.44" r="1.55" fill="#4DBBD5" />
<circle cx="345.33" cy="514.51" r="1.55" fill="#4DBBD5" />
<circle cx="340.97" cy="523.67" r="1.55" fill="#4DBBD5" />
<circle cx="347.64" cy="521.32" r="1.55" fill="#4DBBD5" />
<circle cx="338.89" cy="516.76" r="1.55" fill="#4DBBD5" />
<circle cx="340.52" cy="516.31" r="1.55" fill="#4DBBD5" />
<circle cx="348.17" cy="528.00" r="1.55" fill="#4DBBD5" />
<circle cx="344.42" cy="532.30" r="1.55" fill="#4DBBD5" />
<circle cx="348.42" cy="527.59" r="1.55" fill="#4DBBD5" />
<circle cx="344.13" cy="509.63" r="1.55" fill="#4DBBD5" />
<circle cx="342.90" cy="538.46" r="1.55" fill="#4DBBD5" />
<circle cx="340.87" cy="530.51" r="1.55" fill="#4DBBD5" />
<circle cx="340.77" cy="523.70" r="1.55" fill="#4DBBD5" />
<circle cx="340.84" cy="522.16" r="1.55" fill="#4DBBD5" />
<circle cx="344.46" cy="503.18" r="1.55" fill="#4DBBD5" />
<circle cx="346.00" cy="524.85" r="1.55" fill="#4DBBD5" />
<circle cx="343.77" cy="529.29" r="1.55" fill="#4DBBD5" />
<circle cx="344.71" cy="529.36" r="1.55" fill="#4DBBD5" />
<circle cx="349.24" cy="518.53" r="1.55" fill="#4DBBD5" />
<circle cx="342.44" cy="516.94" r="1.55" fill="#4DBBD5" />
<circle cx="344.54" cy="523.42" r="1.55" fill="#4DBBD5" />
<circle cx="343.57" cy="536.03" r="1.55" fill="#4DBBD5" />
<circle cx="347.99" cy="517.83" r="1.55" fill="#4DBBD5" />
<circle cx="347.63" cy="526.01" r="1.55" fill="#4DBBD5" />
<circle cx="344.66" cy="539.64" r="1.55" fill="#4DBBD5" />
<circle cx="341.44" cy="528.52" r="1.55" fill="#4DBBD5" />
<circle cx="343.34" cy="536.88" r="1.55" fill="#4DBBD5" />
<circle cx="351.13" cy="522.09" r="1.55" fill="#4DBBD5" />
<circle cx="343.98" cy="529.43" r="1.55" fill="#4DBBD5" />
<circle cx="340.62" cy="514.89" r="1.55" fill="#4DBBD5" />
<circle cx="340.84" cy="520.78" r="1.55" fill="#4DBBD5" />
<circle cx="341.31" cy="531.68" r="1.55" fill="#4DBBD5" />
<circle cx="338.89" cy="525.29" r="1.55" fill="#4DBBD5" />
<circle cx="342.95" cy="520.76" r="1.55" fill="#4DBBD5" />
<circle cx="348.46" cy="522.66" r="1.55" fill="#4DBBD5" />
<circle cx="343.54" cy="528.01" r="1.55" fill="#4DBBD5" />
<circle cx="342.52" cy="514.96" r="1.55" fill="#4DBBD5" />
<circle cx="343.72" cy="516.34" r="1.55" fill="#4DBBD5" />
<circle cx="344.63" cy="531.51" r="1.55" fill="#4DBBD5" />
<circle cx="347.66" cy="524.09" r="1.55" fill="#4DBBD5" />
<circle cx="345.87" cy="530.75" r="1.55" fill="#4DBBD5" />
<circle cx="344.24" cy="539.96" r="1.55" fill="#4DBBD5" />
<circle cx="342.69" cy="516.84" r="1.55" fill="#4DBBD5" />
<circle cx="340.52" cy="527.24" r="1.55" fill="#4DBBD5" />
<circle cx="343.84" cy="519.67" r="1.55" fill="#4DBBD5" />
<circle cx="350.09" cy="519.79" r="1.55" fill="#4DBBD5" />
<circle cx="348.58" cy="526.43" r="1.55" fill="#4DBBD5" />
<circle cx="342.25" cy="532.57" r="1.55" fill="#4DBBD5" />
<circle cx="347.21" cy="517.05" r="1.55" fill="#4DBBD5" />
<circle cx="343.44" cy="512.33" r="1.55" fill="#4DBBD5" />
<circle cx="340.39" cy="526.15" r="1.55" fill="#4DBBD5" />
<circle cx="351.41" cy="521.34" r="1.55" fill="#4DBBD5" />
<circle cx="341.10" cy="515.27" r="1.55" fill="#4DBBD5" />
<circle cx="346.14" cy="510.56" r="1.55" fill="#4DBBD5" />
<circle cx="344.87" cy="531.07" r="1.55" fill="#4DBBD5" />
<circle cx="340.13" cy="519.80" r="1.55" fill="#4DBBD5" />
<circle cx="345.02" cy="520.68" r="1.55" fill="#4DBBD5" />
<circle cx="346.35" cy="512.26" r="1.55" fill="#4DBBD5" />
<circle cx="342.91" cy="533.20" r="1.55" fill="#4DBBD5" />
<circle cx="341.48" cy="521.51" r="1.55" fill="#4DBBD5" />
<circle cx="339.73" cy="526.25" r="1.55" fill="#4DBBD5" />
<circle cx="340.41" cy="521.82" r="1.55" fill="#4DBBD5" />
<circle cx="344.19" cy="508.20" r="1.55" fill="#4DBBD5" />
<circle cx="347.55" cy="526.53" r="1.55" fill="#4DBBD5" />
<circle cx="341.23" cy="523.85" r="1.55" fill="#4DBBD5" />
<circle cx="348.74" cy="522.52" r="1.55" fill="#4DBBD5" />
<circle cx="349.01" cy="518.28" r="1.55" fill="#4DBBD5" />
<circle cx="340.76" cy="522.12" r="1.55" fill="#4DBBD5" />
<circle cx="348.16" cy="523.81" r="1.55" fill="#4DBBD5" />
<circle cx="339.87" cy="526.16" r="1.55" fill="#4DBBD5" />
<circle cx="344.64" cy="518.68" r="1.55" fill="#4DBBD5" />
<circle cx="344.89" cy="520.62" r="1.55" fill="#4DBBD5" />
<circle cx="349.98" cy="520.15" r="1.55" fill="#4DBBD5" />
<circle cx="346.63" cy="524.48" r="1.55" fill="#4DBBD5" />
<circle cx="338.63" cy="521.36" r="1.55" fill="#4DBBD5" />
<circle cx="346.03" cy="516.91" r="1.55" fill="#4DBBD5" />
<circle cx="337.44" cy="521.39" r="1.55" fill="#4DBBD5" />
<circle cx="350.28" cy="518.08" r="1.55" fill="#4DBBD5" />
<circle cx="342.87" cy="521.48" r="1.55" fill="#4DBBD5" />
<circle cx="343.42" cy="519.33" r="1.55" fill="#4DBBD5" />
<circle cx="346.87" cy="528.43" r="1.55" fill="#4DBBD5" />
<circle cx="347.02" cy="519.33" r="1.55" fill="#4DBBD5" />
<circle cx="342.89" cy="521.36" r="1.55" fill="#4DBBD5" />
<circle cx="344.36" cy="503.45" r="1.55" fill="#4DBBD5" />
<circle cx="341.06" cy="529.09" r="1.55" fill="#4DBBD5" />
<circle cx="343.46" cy="503.46" r="1.55" fill="#4DBBD5" />
<circle cx="348.02" cy="515.69" r="1.55" fill="#4DBBD5" />
<circle cx="341.91" cy="516.00" r="1.55" fill="#4DBBD5" />
<circle cx="344.18" cy="505.85" r="1.55" fill="#4DBBD5" />
<circle cx="343.56" cy="510.80" r="1.55" fill="#4DBBD5" />
<circle cx="340.83" cy="524.32" r="1.55" fill="#4DBBD5" />
<circle cx="341.72" cy="511.19" r="1.55" fill="#4DBBD5" />
<circle cx="346.77" cy="517.41" r="1.55" fill="#4DBBD5" />
<circle cx="344.89" cy="535.27" r="1.55" fill="#4DBBD5" />
<circle cx="342.64" cy="509.01" r="1.55" fill="#4DBBD5" />
<circle cx="344.69" cy="528.09" r="1.55" fill="#4DBBD5" />
<circle cx="339.03" cy="522.33" r="1.55" fill="#4DBBD5" />
<circle cx="346.23" cy="521.58" r="1.55" fill="#4DBBD5" />
<circle cx="343.86" cy="507.85" r="1.55" fill="#4DBBD5" />
<circle cx="337.93" cy="523.51" r="1.55" fill="#4DBBD5" />
<circle cx="351.26" cy="523.10" r="1.55" fill="#4DBBD5" />
<circle cx="348.49" cy="516.93" r="1.55" fill="#4DBBD5" />
<circle cx="343.63" cy="532.43" r="1.55" fill="#4DBBD5" />
<circle cx="349.97" cy="520.50" r="1.55" fill="#4DBBD5" />
<circle cx="344.76" cy="531.51" r="1.55" fill="#4DBBD5" />
<circle cx="338.69" cy="524.81" r="1.55" fill="#4DBBD5" />
<circle cx="342.90" cy="520.30" r="1.55" fill="#4DBBD5" />
<circle cx="347.54" cy="526.78" r="1.55" fill="#4DBBD5" />
<circle cx="351.49" cy="522.74" r="1.55" fill="#4DBBD5" />
<circle cx="344.71" cy="512.38" r="1.55" fill="#4DBBD5" />
<circle cx="345.28" cy="519.28" r="1.55" fill="#4DBBD5" />
<circle cx="350.58" cy="520.01" r="1.55" fill="#4DBBD5" />
<circle cx="339.81" cy="525.22" r="1.55" fill="#4DBBD5" />
<circle cx="342.33" cy="515.61" r="1.55" fill="#4DBBD5" />
<circle cx="338.24" cy="518.98" r="1.55" fill="#4DBBD5" />
<circle cx="347.66" cy="516.84" r="1.55" fill="#4DBBD5" />
<circle cx="346.93" cy="512.59" r="1.55" fill="#4DBBD5" />
<circle cx="338.67" cy="523.15" r="1.55" fill="#4DBBD5" />
<circle cx="341.21" cy="518.52" r="1.55" fill="#4DBBD5" />
<circle cx="342.12" cy="530.16" r="1.55" fill="#4DBBD5" />
<circle cx="348.07" cy="517.85" r="1.55" fill="#4DBBD5" />
<circle cx="345.66" cy="531.51" r="1.55" fill="#4DBBD5" />
<circle cx="340.23" cy="529.02" r="1.55" fill="#4DBBD5" />
<circle cx="344.20" cy="509.50" r="1.55" fill="#4DBBD5" />
<circle cx="348.06" cy="526.72" r="1.55" fill="#4DBBD5" />
<circle cx="340.99" cy="527.56" r="1.55" fill="#4DBBD5" />
<circle cx="339.33" cy="520.45" r="1.55" fill="#4DBBD5" />
<circle cx="340.19" cy="523.25" r="1.55" fill="#4DBBD5" />
<circle cx="347.85" cy="525.65" r="1.55" fill="#4DBBD5" />
<circle cx="341.82" cy="528.55" r="1.55" fill="#4DBBD5" />
<circle cx="339.89" cy="517.14" r="1.55" fill="#4DBBD5" />
<circle cx="339.67" cy="528.88" r="1.55" fill="#4DBBD5" />
<circle cx="345.15" cy="508.05" r="1.55" fill="#4DBBD5" />
<circle cx="341.87" cy="513.78" r="1.55" fill="#4DBBD5" />
<circle cx="343.24" cy="536.32" r="1.55" fill="#4DBBD5" />
<circle cx="349.75" cy="522.94" r="1.55" fill="#4DBBD5" />
<circle cx="343.49" cy="510.22" r="1.55" fill="#4DBBD5" />
<circle cx="347.50" cy="524.09" r="1.55" fill="#4DBBD5" />
<circle cx="349.63" cy="522.49" r="1.55" fill="#4DBBD5" />
<circle cx="343.13" cy="538.64" r="1.55" fill="#4DBBD5" />
<circle cx="347.74" cy="520.22" r="1.55" fill="#4DBBD5" />
<circle cx="343.52" cy="514.31" r="1.55" fill="#4DBBD5" />
<circle cx="343.75" cy="520.29" r="1.55" fill="#4DBBD5" />
<circle cx="342.51" cy="535.27" r="1.55" fill="#4DBBD5" />
<circle cx="341.47" cy="528.46" r="1.55" fill="#4DBBD5" />
<circle cx="342.52" cy="527.99" r="1.55" fill="#4DBBD5" />
<circle cx="342.50" cy="513.93" r="1.55" fill="#4DBBD5" />
<circle cx="342.13" cy="520.89" r="1.55" fill="#4DBBD5" />
<circle cx="345.82" cy="517.20" r="1.55" fill="#4DBBD5" />
<circle cx="344.23" cy="515.33" r="1.55" fill="#4DBBD5" />
<circle cx="340.13" cy="518.18" r="1.55" fill="#4DBBD5" />
<circle cx="343.45" cy="511.27" r="1.55" fill="#4DBBD5" />
<circle cx="345.45" cy="524.81" r="1.55" fill="#4DBBD5" />
<circle cx="348.68" cy="520.40" r="1.55" fill="#4DBBD5" />
<circle cx="346.94" cy="516.84" r="1.55" fill="#4DBBD5" />
<circle cx="345.96" cy="516.42" r="1.55" fill="#4DBBD5" />
<circle cx="344.38" cy="531.68" r="1.55" fill="#4DBBD5" />
<circle cx="344.28" cy="525.23" r="1.55" fill="#4DBBD5" />
<circle cx="347.37" cy="524.55" r="1.55" fill="#4DBBD5" />
<circle cx="341.70" cy="527.44" r="1.55" fill="#4DBBD5" />
<circle cx="346.77" cy="514.78" r="1.55" fill="#4DBBD5" />
<circle cx="344.66" cy="505.68" r="1.55" fill="#4DBBD5" />
<circle cx="346.02" cy="513.03" r="1.55" fill="#4DBBD5" />
<circle cx="340.03" cy="517.89" r="1.55" fill="#4DBBD5" />
<circle cx="338.86" cy="516.14" r="1.55" fill="#4DBBD5" />
<circle cx="339.89" cy="524.12" r="1.55" fill="#4DBBD5" />
<circle cx="346.89" cy="530.78" r="1.55" fill="#4DBBD5" />
<circle cx="346.33" cy="512.15" r="1.55" fill="#4DBBD5" />
<circle cx="351.75" cy="521.00" r="1.55" fill="#4DBBD5" />
<circle cx="344.03" cy="520.16" r="1.55" fill="#4DBBD5" />
<circle cx="340.68" cy="528.90" r="1.55" fill="#4DBBD5" />
<circle cx="344.38" cy="536.18" r="1.55" fill="#4DBBD5" />
<circle cx="344.72" cy="506.23" r="1.55" fill="#4DBBD5" />
<circle cx="343.65" cy="533.98" r="1.55" fill="#4DBBD5" />
<circle cx="336.92" cy="518.86" r="1.55" fill="#4DBBD5" />
<circle cx="343.83" cy="562.24" r="1.55" fill="#4DBBD5" />
<circle cx="343.89" cy="542.80" r="1.55" fill="#4DBBD5" />
<line x1="377.52" y1="498.16" x2="377.52" y2="517.89" stroke="#333333" stroke-width="1.0" />
<line x1="377.52" y1="535.89" x2="377.52" y2="561.52" stroke="#333333" stroke-width="1.0" />
<rect x="364.32" y="517.89" width="26.40" height="18.00" fill="#F5B7AE" stroke="#333333" stroke-width="1.0" />
<line x1="364.32" y1="526.38" x2="390.72" y2="526.38" stroke="#333333" stroke-width="1.9" />
<circle cx="377.57" cy="521.61" r="1.55" fill="#E64B35" />
<circle cx="374.31" cy="519.08" r="1.55" fill="#E64B35" />
<circle cx="375.96" cy="515.14" r="1.55" fill="#E64B35" />
<circle cx="378.35" cy="551.15" r="1.55" fill="#E64B35" />
<circle cx="379.81" cy="543.74" r="1.55" fill="#E64B35" />
<circle cx="375.86" cy="518.75" r="1.55" fill="#E64B35" />
<circle cx="375.94" cy="519.62" r="1.55" fill="#E64B35" />
<circle cx="377.04" cy="529.39" r="1.55" fill="#E64B35" />
<circle cx="377.69" cy="527.13" r="1.55" fill="#E64B35" />
<circle cx="377.18" cy="525.79" r="1.55" fill="#E64B35" />
<circle cx="377.30" cy="530.14" r="1.55" fill="#E64B35" />
<circle cx="377.93" cy="513.84" r="1.55" fill="#E64B35" />
<circle cx="380.44" cy="529.40" r="1.55" fill="#E64B35" />
<circle cx="378.59" cy="542.26" r="1.55" fill="#E64B35" />
<circle cx="375.30" cy="525.80" r="1.55" fill="#E64B35" />
<circle cx="374.79" cy="521.41" r="1.55" fill="#E64B35" />
<circle cx="379.24" cy="521.22" r="1.55" fill="#E64B35" />
<circle cx="378.75" cy="524.76" r="1.55" fill="#E64B35" />
<circle cx="378.86" cy="515.63" r="1.55" fill="#E64B35" />
<circle cx="375.50" cy="523.40" r="1.55" fill="#E64B35" />
<circle cx="375.47" cy="520.64" r="1.55" fill="#E64B35" />
<circle cx="378.27" cy="545.93" r="1.55" fill="#E64B35" />
<circle cx="375.35" cy="523.32" r="1.55" fill="#E64B35" />
<circle cx="376.35" cy="521.40" r="1.55" fill="#E64B35" />
<circle cx="378.21" cy="553.87" r="1.55" fill="#E64B35" />
<circle cx="377.48" cy="560.64" r="1.55" fill="#E64B35" />
<circle cx="374.27" cy="533.41" r="1.55" fill="#E64B35" />
<circle cx="378.52" cy="504.28" r="1.55" fill="#E64B35" />
<circle cx="378.86" cy="508.34" r="1.55" fill="#E64B35" />
<circle cx="374.42" cy="536.81" r="1.55" fill="#E64B35" />
<circle cx="377.19" cy="540.53" r="1.55" fill="#E64B35" />
<circle cx="374.69" cy="539.04" r="1.55" fill="#E64B35" />
<circle cx="374.29" cy="528.17" r="1.55" fill="#E64B35" />
<circle cx="378.64" cy="554.67" r="1.55" fill="#E64B35" />
<circle cx="379.08" cy="515.38" r="1.55" fill="#E64B35" />
<circle cx="377.55" cy="516.34" r="1.55" fill="#E64B35" />
<circle cx="375.01" cy="540.79" r="1.55" fill="#E64B35" />
<circle cx="375.68" cy="525.21" r="1.55" fill="#E64B35" />
<circle cx="376.57" cy="502.56" r="1.55" fill="#E64B35" />
<circle cx="375.75" cy="507.48" r="1.55" fill="#E64B35" />
<circle cx="376.89" cy="532.88" r="1.55" fill="#E64B35" />
<circle cx="376.39" cy="520.29" r="1.55" fill="#E64B35" />
<circle cx="378.06" cy="547.28" r="1.55" fill="#E64B35" />
<circle cx="376.94" cy="523.77" r="1.55" fill="#E64B35" />
<circle cx="374.52" cy="538.06" r="1.55" fill="#E64B35" />
<circle cx="379.96" cy="515.24" r="1.55" fill="#E64B35" />
<circle cx="375.80" cy="550.12" r="1.55" fill="#E64B35" />
<circle cx="374.20" cy="535.13" r="1.55" fill="#E64B35" />
<circle cx="379.08" cy="542.98" r="1.55" fill="#E64B35" />
<circle cx="377.04" cy="536.38" r="1.55" fill="#E64B35" />
<circle cx="375.60" cy="528.77" r="1.55" fill="#E64B35" />
<circle cx="380.90" cy="518.82" r="1.55" fill="#E64B35" />
<circle cx="374.48" cy="515.49" r="1.55" fill="#E64B35" />
<circle cx="379.96" cy="536.14" r="1.55" fill="#E64B35" />
<circle cx="380.07" cy="534.41" r="1.55" fill="#E64B35" />
<circle cx="380.09" cy="532.90" r="1.55" fill="#E64B35" />
<circle cx="377.45" cy="531.33" r="1.55" fill="#E64B35" />
<circle cx="377.48" cy="520.05" r="1.55" fill="#E64B35" />
<circle cx="376.66" cy="517.82" r="1.55" fill="#E64B35" />
<circle cx="374.71" cy="522.80" r="1.55" fill="#E64B35" />
<circle cx="376.66" cy="532.20" r="1.55" fill="#E64B35" />
<circle cx="376.22" cy="520.90" r="1.55" fill="#E64B35" />
<circle cx="380.67" cy="525.81" r="1.55" fill="#E64B35" />
<circle cx="378.29" cy="541.25" r="1.55" fill="#E64B35" />
<circle cx="376.94" cy="539.30" r="1.55" fill="#E64B35" />
<circle cx="380.72" cy="519.13" r="1.55" fill="#E64B35" />
<circle cx="377.52" cy="554.82" r="1.55" fill="#E64B35" />
<circle cx="377.63" cy="547.42" r="1.55" fill="#E64B35" />
<circle cx="374.81" cy="518.03" r="1.55" fill="#E64B35" />
<circle cx="375.97" cy="507.22" r="1.55" fill="#E64B35" />
<circle cx="378.40" cy="512.02" r="1.55" fill="#E64B35" />
<circle cx="377.51" cy="539.50" r="1.55" fill="#E64B35" />
<circle cx="377.07" cy="517.48" r="1.55" fill="#E64B35" />
<circle cx="377.56" cy="516.32" r="1.55" fill="#E64B35" />
<circle cx="375.72" cy="548.55" r="1.55" fill="#E64B35" />
<circle cx="378.85" cy="542.08" r="1.55" fill="#E64B35" />
<circle cx="377.40" cy="508.38" r="1.55" fill="#E64B35" />
<circle cx="379.38" cy="523.73" r="1.55" fill="#E64B35" />
<circle cx="379.92" cy="524.73" r="1.55" fill="#E64B35" />
<circle cx="376.62" cy="545.41" r="1.55" fill="#E64B35" />
<circle cx="378.25" cy="526.83" r="1.55" fill="#E64B35" />
<circle cx="376.97" cy="519.65" r="1.55" fill="#E64B35" />
<circle cx="378.08" cy="541.91" r="1.55" fill="#E64B35" />
<circle cx="378.70" cy="530.43" r="1.55" fill="#E64B35" />
<circle cx="374.07" cy="529.49" r="1.55" fill="#E64B35" />
<circle cx="377.34" cy="535.04" r="1.55" fill="#E64B35" />
<circle cx="379.69" cy="542.90" r="1.55" fill="#E64B35" />
<circle cx="376.48" cy="519.97" r="1.55" fill="#E64B35" />
<circle cx="377.32" cy="539.62" r="1.55" fill="#E64B35" />
<circle cx="376.55" cy="560.07" r="1.55" fill="#E64B35" />
<circle cx="378.32" cy="540.53" r="1.55" fill="#E64B35" />
<circle cx="378.01" cy="545.17" r="1.55" fill="#E64B35" />
<circle cx="374.36" cy="531.60" r="1.55" fill="#E64B35" />
<circle cx="376.20" cy="527.96" r="1.55" fill="#E64B35" />
<circle cx="375.66" cy="522.03" r="1.55" fill="#E64B35" />
<circle cx="379.63" cy="515.63" r="1.55" fill="#E64B35" />
<circle cx="376.85" cy="517.27" r="1.55" fill="#E64B35" />
<circle cx="380.31" cy="534.73" r="1.55" fill="#E64B35" />
<circle cx="379.62" cy="530.45" r="1.55" fill="#E64B35" />
<circle cx="378.43" cy="512.38" r="1.55" fill="#E64B35" />
<circle cx="377.27" cy="548.98" r="1.55" fill="#E64B35" />
<circle cx="380.22" cy="531.23" r="1.55" fill="#E64B35" />
<circle cx="378.48" cy="536.29" r="1.55" fill="#E64B35" />
<circle cx="378.08" cy="528.86" r="1.55" fill="#E64B35" />
<circle cx="375.10" cy="527.63" r="1.55" fill="#E64B35" />
<circle cx="379.12" cy="537.78" r="1.55" fill="#E64B35" />
<circle cx="376.15" cy="523.18" r="1.55" fill="#E64B35" />
<circle cx="379.50" cy="544.47" r="1.55" fill="#E64B35" />
<circle cx="374.29" cy="532.32" r="1.55" fill="#E64B35" />
<circle cx="376.03" cy="532.31" r="1.55" fill="#E64B35" />
<circle cx="378.66" cy="526.72" r="1.55" fill="#E64B35" />
<circle cx="375.17" cy="538.49" r="1.55" fill="#E64B35" />
<circle cx="378.96" cy="527.63" r="1.55" fill="#E64B35" />
<circle cx="378.97" cy="534.29" r="1.55" fill="#E64B35" />
<circle cx="379.33" cy="517.83" r="1.55" fill="#E64B35" />
<circle cx="375.72" cy="520.90" r="1.55" fill="#E64B35" />
<circle cx="380.45" cy="536.00" r="1.55" fill="#E64B35" />
<circle cx="375.19" cy="529.97" r="1.55" fill="#E64B35" />
<circle cx="375.94" cy="516.99" r="1.55" fill="#E64B35" />
<circle cx="378.86" cy="512.67" r="1.55" fill="#E64B35" />
<circle cx="379.95" cy="534.64" r="1.55" fill="#E64B35" />
<circle cx="378.98" cy="541.28" r="1.55" fill="#E64B35" />
<circle cx="379.06" cy="536.52" r="1.55" fill="#E64B35" />
<circle cx="380.81" cy="525.58" r="1.55" fill="#E64B35" />
<circle cx="379.03" cy="512.17" r="1.55" fill="#E64B35" />
<circle cx="377.82" cy="557.87" r="1.55" fill="#E64B35" />
<circle cx="375.02" cy="519.37" r="1.55" fill="#E64B35" />
<circle cx="379.16" cy="511.51" r="1.55" fill="#E64B35" />
<circle cx="379.02" cy="545.22" r="1.55" fill="#E64B35" />
<circle cx="374.98" cy="515.26" r="1.55" fill="#E64B35" />
<circle cx="377.16" cy="513.78" r="1.55" fill="#E64B35" />
<circle cx="379.34" cy="509.52" r="1.55" fill="#E64B35" />
<circle cx="379.54" cy="508.87" r="1.55" fill="#E64B35" />
<circle cx="375.26" cy="516.14" r="1.55" fill="#E64B35" />
<circle cx="377.17" cy="525.40" r="1.55" fill="#E64B35" />
<circle cx="379.93" cy="530.02" r="1.55" fill="#E64B35" />
<circle cx="380.61" cy="538.46" r="1.55" fill="#E64B35" />
<circle cx="376.08" cy="537.73" r="1.55" fill="#E64B35" />
<circle cx="377.15" cy="554.95" r="1.55" fill="#E64B35" />
<circle cx="377.72" cy="533.03" r="1.55" fill="#E64B35" />
<circle cx="379.62" cy="521.50" r="1.55" fill="#E64B35" />
<circle cx="374.32" cy="532.97" r="1.55" fill="#E64B35" />
<circle cx="374.82" cy="535.54" r="1.55" fill="#E64B35" />
<circle cx="379.88" cy="523.70" r="1.55" fill="#E64B35" />
<circle cx="373.93" cy="534.47" r="1.55" fill="#E64B35" />
<circle cx="379.89" cy="536.66" r="1.55" fill="#E64B35" />
<circle cx="378.71" cy="539.12" r="1.55" fill="#E64B35" />
<circle cx="378.36" cy="551.23" r="1.55" fill="#E64B35" />
<circle cx="376.53" cy="512.65" r="1.55" fill="#E64B35" />
<circle cx="374.96" cy="513.53" r="1.55" fill="#E64B35" />
<circle cx="376.69" cy="529.85" r="1.55" fill="#E64B35" />
<circle cx="380.53" cy="529.87" r="1.55" fill="#E64B35" />
<circle cx="377.83" cy="534.47" r="1.55" fill="#E64B35" />
<circle cx="374.22" cy="534.96" r="1.55" fill="#E64B35" />
<circle cx="379.78" cy="541.22" r="1.55" fill="#E64B35" />
<circle cx="379.80" cy="515.56" r="1.55" fill="#E64B35" />
<circle cx="377.25" cy="528.02" r="1.55" fill="#E64B35" />
<circle cx="379.33" cy="533.72" r="1.55" fill="#E64B35" />
<circle cx="377.44" cy="537.69" r="1.55" fill="#E64B35" />
<circle cx="379.88" cy="536.91" r="1.55" fill="#E64B35" />
<circle cx="374.92" cy="518.29" r="1.55" fill="#E64B35" />
<circle cx="380.07" cy="516.26" r="1.55" fill="#E64B35" />
<circle cx="375.41" cy="514.01" r="1.55" fill="#E64B35" />
<circle cx="376.14" cy="535.28" r="1.55" fill="#E64B35" />
<circle cx="379.73" cy="511.89" r="1.55" fill="#E64B35" />
<circle cx="374.38" cy="521.02" r="1.55" fill="#E64B35" />
<circle cx="380.36" cy="525.13" r="1.55" fill="#E64B35" />
<circle cx="375.86" cy="528.55" r="1.55" fill="#E64B35" />
<circle cx="380.33" cy="531.23" r="1.55" fill="#E64B35" />
<circle cx="375.24" cy="534.05" r="1.55" fill="#E64B35" />
<circle cx="377.09" cy="529.33" r="1.55" fill="#E64B35" />
<circle cx="377.65" cy="541.15" r="1.55" fill="#E64B35" />
<circle cx="378.84" cy="508.40" r="1.55" fill="#E64B35" />
<circle cx="380.54" cy="514.86" r="1.55" fill="#E64B35" />
<circle cx="380.94" cy="535.66" r="1.55" fill="#E64B35" />
<circle cx="374.87" cy="535.34" r="1.55" fill="#E64B35" />
<circle cx="375.92" cy="510.66" r="1.55" fill="#E64B35" />
<circle cx="377.97" cy="498.48" r="1.55" fill="#E64B35" />
<circle cx="376.78" cy="529.22" r="1.55" fill="#E64B35" />
<circle cx="375.04" cy="519.62" r="1.55" fill="#E64B35" />
<circle cx="378.44" cy="511.04" r="1.55" fill="#E64B35" />
<circle cx="377.16" cy="523.83" r="1.55" fill="#E64B35" />
<circle cx="379.69" cy="521.23" r="1.55" fill="#E64B35" />
<circle cx="378.15" cy="513.61" r="1.55" fill="#E64B35" />
<circle cx="375.30" cy="536.67" r="1.55" fill="#E64B35" />
<circle cx="377.89" cy="552.83" r="1.55" fill="#E64B35" />
<circle cx="376.63" cy="522.77" r="1.55" fill="#E64B35" />
<circle cx="375.02" cy="533.72" r="1.55" fill="#E64B35" />
<circle cx="378.86" cy="527.53" r="1.55" fill="#E64B35" />
<circle cx="376.40" cy="561.65" r="1.55" fill="#E64B35" />
<circle cx="380.05" cy="538.06" r="1.55" fill="#E64B35" />
<circle cx="375.80" cy="512.88" r="1.55" fill="#E64B35" />
<circle cx="377.04" cy="559.10" r="1.55" fill="#E64B35" />
<circle cx="374.13" cy="527.71" r="1.55" fill="#E64B35" />
<circle cx="376.27" cy="521.02" r="1.55" fill="#E64B35" />
<circle cx="379.18" cy="518.21" r="1.55" fill="#E64B35" />
<circle cx="380.36" cy="517.46" r="1.55" fill="#E64B35" />
<circle cx="378.76" cy="529.34" r="1.55" fill="#E64B35" />
<circle cx="379.42" cy="540.45" r="1.55" fill="#E64B35" />
<circle cx="377.81" cy="523.37" r="1.55" fill="#E64B35" />
<circle cx="377.20" cy="542.29" r="1.55" fill="#E64B35" />
<circle cx="375.41" cy="543.61" r="1.55" fill="#E64B35" />
<circle cx="377.29" cy="499.65" r="1.55" fill="#E64B35" />
<circle cx="376.14" cy="508.48" r="1.55" fill="#E64B35" />
<circle cx="375.42" cy="534.50" r="1.55" fill="#E64B35" />
<circle cx="380.58" cy="520.73" r="1.55" fill="#E64B35" />
<circle cx="374.26" cy="538.75" r="1.55" fill="#E64B35" />
<circle cx="380.47" cy="534.62" r="1.55" fill="#E64B35" />
<circle cx="377.01" cy="543.69" r="1.55" fill="#E64B35" />
<circle cx="375.03" cy="516.80" r="1.55" fill="#E64B35" />
<circle cx="377.24" cy="514.11" r="1.55" fill="#E64B35" />
<circle cx="374.44" cy="518.56" r="1.55" fill="#E64B35" />
<circle cx="380.57" cy="525.31" r="1.55" fill="#E64B35" />
<circle cx="378.41" cy="521.88" r="1.55" fill="#E64B35" />
<circle cx="374.86" cy="529.42" r="1.55" fill="#E64B35" />
<circle cx="376.82" cy="527.90" r="1.55" fill="#E64B35" />
<circle cx="375.71" cy="513.88" r="1.55" fill="#E64B35" />
<circle cx="377.93" cy="545.32" r="1.55" fill="#E64B35" />
<circle cx="377.16" cy="542.19" r="1.55" fill="#E64B35" />
<circle cx="376.44" cy="536.54" r="1.55" fill="#E64B35" />
<circle cx="377.36" cy="550.10" r="1.55" fill="#E64B35" />
<circle cx="376.68" cy="540.74" r="1.55" fill="#E64B35" />
<circle cx="380.05" cy="533.86" r="1.55" fill="#E64B35" />
<circle cx="380.11" cy="525.68" r="1.55" fill="#E64B35" />
<circle cx="375.93" cy="549.16" r="1.55" fill="#E64B35" />
<circle cx="377.14" cy="509.53" r="1.55" fill="#E64B35" />
<circle cx="376.13" cy="538.34" r="1.55" fill="#E64B35" />
<circle cx="374.86" cy="523.54" r="1.55" fill="#E64B35" />
<circle cx="377.08" cy="523.30" r="1.55" fill="#E64B35" />
<circle cx="377.13" cy="521.48" r="1.55" fill="#E64B35" />
<circle cx="376.68" cy="503.08" r="1.55" fill="#E64B35" />
<circle cx="380.12" cy="528.77" r="1.55" fill="#E64B35" />
<circle cx="379.63" cy="532.62" r="1.55" fill="#E64B35" />
<circle cx="376.15" cy="536.72" r="1.55" fill="#E64B35" />
<circle cx="378.41" cy="534.39" r="1.55" fill="#E64B35" />
<circle cx="374.65" cy="522.84" r="1.55" fill="#E64B35" />
<circle cx="374.83" cy="531.37" r="1.55" fill="#E64B35" />
<circle cx="375.90" cy="506.79" r="1.55" fill="#E64B35" />
<circle cx="377.23" cy="511.35" r="1.55" fill="#E64B35" />
<circle cx="377.01" cy="521.77" r="1.55" fill="#E64B35" />
<circle cx="377.52" cy="584.56" r="1.55" fill="#E64B35" />
<circle cx="377.30" cy="564.40" r="1.55" fill="#E64B35" />
<circle cx="376.98" cy="565.84" r="1.55" fill="#E64B35" />
<circle cx="377.89" cy="568.00" r="1.55" fill="#E64B35" />
<circle cx="377.76" cy="569.44" r="1.55" fill="#E64B35" />
<circle cx="377.55" cy="498.88" r="1.55" fill="#E64B35" />
<circle cx="376.77" cy="500.32" r="1.55" fill="#E64B35" />
<polyline points="343.90,473.00 343.90,470.40 377.52,470.40 377.52,473.00" fill="none" stroke="#333333" stroke-width="0.9"/>
<text x="360.91" y="468.60" font-size="8.85" text-anchor="middle" fill="#000" font-weight="normal" >1.9e–08</text>
<polyline points="310.28,484.40 310.28,481.80 343.90,481.80 343.90,484.40" fill="none" stroke="#333333" stroke-width="0.9"/>
<text x="327.29" y="480.00" font-size="8.85" text-anchor="middle" fill="#000" font-weight="normal" >p &lt; 2.22e–16</text>
<polyline points="310.28,495.80 310.28,493.20 377.52,493.20 377.52,495.80" fill="none" stroke="#333333" stroke-width="0.9"/>
<text x="344.10" y="491.40" font-size="8.85" text-anchor="middle" fill="#000" font-weight="normal" >0.34</text>
<line x1="438.80" y1="504.90" x2="438.80" y2="518.90" stroke="#333333" stroke-width="1" />
<rect x="432.10" y="507.30" width="13.40" height="9.20" fill="#B1BBCF" stroke="#333333" stroke-width="1" />
<line x1="432.10" y1="511.90" x2="445.50" y2="511.90" stroke="#333333" stroke-width="1" />
<circle cx="438.80" cy="511.90" r="1.5" fill="#3C5488" />
<text x="452.80" y="515.80" font-size="8.7" text-anchor="start" fill="#000" font-weight="normal" >Normal</text>
<line x1="438.80" y1="522.15" x2="438.80" y2="536.05" stroke="#333333" stroke-width="1" />
<rect x="432.10" y="524.55" width="13.40" height="9.10" fill="#B8E4EE" stroke="#333333" stroke-width="1" />
<line x1="432.10" y1="529.10" x2="445.50" y2="529.10" stroke="#333333" stroke-width="1" />
<circle cx="438.80" cy="529.10" r="1.5" fill="#4DBBD5" />
<text x="452.80" y="528.40" font-size="8.7" text-anchor="start" fill="#000" font-weight="normal" >Normal</text>
<text x="452.80" y="537.30" font-size="8.7" text-anchor="start" fill="#000" font-weight="normal" >adjacent</text>
<line x1="438.80" y1="539.65" x2="438.80" y2="553.55" stroke="#333333" stroke-width="1" />
<rect x="432.10" y="542.05" width="13.40" height="9.10" fill="#F5B7AE" stroke="#333333" stroke-width="1" />
<line x1="432.10" y1="546.60" x2="445.50" y2="546.60" stroke="#333333" stroke-width="1" />
<circle cx="438.80" cy="546.60" r="1.5" fill="#E64B35" />
<text x="452.80" y="549.80" font-size="8.7" text-anchor="start" fill="#000" font-weight="normal" >Tumor</text>
<text x="518.50" y="216.70" font-size="12.6" text-anchor="start" fill="#000" font-weight="bold" >d</text>
<line x1="566.30" y1="370.90" x2="676.60" y2="257.70" stroke="#858585" stroke-width="1.15" />
<polyline points="566.30,370.90 568.14,370.90 568.14,370.67 568.14,370.45 569.98,370.45 569.98,370.22 571.81,370.22 571.81,369.99 573.65,369.99 575.49,369.99 575.49,369.77 575.49,369.54 577.33,369.54 577.33,369.42 579.17,369.42 579.17,369.30 581.01,369.30 582.84,369.30 582.84,369.17 584.68,369.17 584.68,369.05 586.52,369.05 586.52,368.93 588.36,368.93 588.36,368.81 590.20,368.81 590.20,368.68 592.04,368.68 592.04,368.56 592.04,368.44 593.88,368.44 595.71,368.44 595.71,368.32 595.71,368.19 597.55,368.19 597.55,368.07 599.39,368.07 599.39,367.98 601.23,367.98 601.23,367.88 603.07,367.88 603.07,367.79 604.90,367.79 606.74,367.79 606.74,367.69 608.58,367.69 608.58,367.60 608.58,367.50 610.42,367.50 612.26,367.50 612.26,367.41 612.26,367.32 614.10,367.32 614.10,367.22 615.93,367.22 617.77,367.22 617.77,367.13 617.77,367.03 619.61,367.03 621.45,367.03 621.45,366.94 621.45,366.84 623.29,366.84 623.29,366.75 625.13,366.75 626.97,366.75 626.97,366.65 628.80,366.65 628.80,366.56 628.80,366.47 630.64,366.47 630.64,366.37 632.48,366.37 632.48,366.28 634.32,366.28 634.32,366.18 636.16,366.18 638.00,366.18 638.00,366.09 638.00,365.99 639.83,365.99 639.83,365.90 641.67,365.90 643.51,365.90 643.51,365.81 645.40,365.81 645.40,365.60 647.29,365.60 647.29,365.40 647.29,365.20 649.18,365.20 649.18,365.00 651.07,365.00 652.96,365.00 652.96,364.80 654.86,364.80 654.86,364.59 656.75,364.59 656.75,364.39 658.64,364.39 658.64,364.19 660.53,364.19 660.53,363.99 662.42,363.99 662.42,363.78 662.42,363.58 664.31,363.58 664.31,363.38 666.20,363.38 666.20,363.18 668.09,363.18 668.09,362.98 669.98,362.98 669.98,361.84 671.45,361.84 671.45,360.71 672.92,360.71 674.39,360.71 674.39,359.58 674.39,357.40 674.67,357.40 674.67,355.22 674.95,355.22 674.95,353.04 675.22,353.04 675.50,353.04 675.50,350.86 675.62,350.86 675.62,348.94 675.62,347.01 675.74,347.01 675.74,345.09 675.86,345.09 675.99,345.09 675.99,343.17 676.11,343.17 676.11,341.24 676.11,339.32 676.23,339.32 676.23,337.39 676.35,337.39 676.35,335.47 676.48,335.47 676.60,335.47 676.60,333.54 676.60,333.54 676.60,331.65 676.60,331.65 676.60,329.75 676.60,329.75 676.60,327.86 676.60,327.86 676.60,325.96 676.60,325.96 676.60,324.06 676.60,322.17 676.60,322.17 676.60,322.17 676.60,320.27 676.60,320.27 676.60,318.38 676.60,316.48 676.60,316.48 676.60,316.48 676.60,314.58 676.60,314.58 676.60,312.69 676.60,312.69 676.60,310.79 676.60,310.79 676.60,308.89 676.60,307.00 676.60,307.00 676.60,305.10 676.60,305.10 676.60,305.10 676.60,303.21 676.60,303.21 676.60,301.31 676.60,301.31 676.60,299.41 676.60,299.41 676.60,297.52 676.60,297.52 676.60,295.62 676.60,295.62 676.60,293.73 676.60,293.73 676.60,291.83 676.60,289.93 676.60,289.93 676.60,289.93 676.60,288.04 676.60,286.14 676.60,286.14 676.60,286.14 676.60,284.25 676.60,282.35 676.60,282.35 676.60,282.35 676.60,280.45 676.60,280.45 676.60,278.56 676.60,278.56 676.60,276.66 676.60,274.76 676.60,274.76 676.60,272.87 676.60,272.87 676.60,270.97 676.60,270.97 676.60,269.08 676.60,269.08 676.60,269.08 676.60,267.18 676.60,265.28 676.60,265.28 676.60,263.39 676.60,263.39 676.60,261.49 676.60,261.49 676.60,261.49 676.60,259.60 676.60,259.60 676.60,257.70" fill="none" stroke="#3C5488" stroke-width="1.5" stroke-linejoin="miter" />
<polyline points="566.30,370.90 566.96,370.90 566.96,369.01 567.62,369.01 567.62,367.13 568.29,367.13 568.29,365.24 568.29,363.26 569.39,363.26 569.39,361.28 570.49,361.28 571.59,361.28 571.59,359.30 571.59,357.32 572.70,357.32 574.35,357.32 574.35,355.70 576.01,355.70 576.01,354.09 576.01,352.48 577.66,352.48 579.32,352.48 579.32,350.86 579.32,349.48 581.03,349.48 582.73,349.48 582.73,348.09 584.44,348.09 584.44,346.70 584.44,345.32 586.15,345.32 587.92,345.32 587.92,344.66 589.68,344.66 589.68,344.00 589.68,343.35 591.45,343.35 591.45,342.69 593.21,342.69 594.98,342.69 594.98,342.03 596.74,342.03 596.74,341.15 596.74,340.27 598.51,340.27 598.51,339.39 600.27,339.39 602.04,339.39 602.04,338.50 602.04,337.62 603.80,337.62 603.80,336.53 605.57,336.53 605.57,335.45 607.33,335.45 607.33,334.36 609.10,334.36 609.10,333.27 610.86,333.27 610.86,332.19 612.63,332.19 612.63,331.19 614.39,331.19 616.16,331.19 616.16,330.19 617.92,330.19 617.92,329.20 617.92,328.20 619.69,328.20 619.69,327.20 621.45,327.20 623.21,327.20 623.21,326.21 623.21,325.21 624.98,325.21 626.74,325.21 626.74,324.22 626.74,323.22 628.51,323.22 630.27,323.22 630.27,322.22 630.27,321.00 631.74,321.00 631.74,319.78 633.22,319.78 634.69,319.78 634.69,318.56 634.69,317.34 636.16,317.34 637.63,317.34 637.63,316.12 637.63,314.90 639.10,314.90 639.10,313.68 640.57,313.68 640.57,312.46 642.04,312.46 642.04,311.24 643.51,311.24 645.05,311.24 645.05,310.19 646.60,310.19 646.60,309.14 648.14,309.14 648.14,308.09 648.14,307.03 649.69,307.03 649.69,305.98 651.23,305.98 652.78,305.98 652.78,304.93 654.32,304.93 654.32,303.87 655.86,303.87 655.86,302.82 655.86,301.77 657.41,301.77 658.95,301.77 658.95,300.72 660.99,300.72 660.99,299.41 663.03,299.41 663.03,298.11 664.03,298.11 664.03,295.57 665.02,295.57 665.02,293.02 665.02,292.04 666.67,292.04 666.67,291.06 668.33,291.06 669.98,291.06 669.98,290.08 669.98,288.04 670.11,288.04 670.25,288.04 670.25,286.00 670.25,283.96 670.38,283.96 670.51,283.96 670.51,281.92 670.51,279.89 670.64,279.89 670.64,277.40 672.74,277.40 672.74,275.87 674.01,275.87 674.01,274.34 675.28,274.34 675.72,274.34 675.72,271.96 675.72,269.59 676.16,269.59 676.16,267.21 676.60,267.21 676.60,265.31 676.60,265.31 676.60,265.31 676.60,263.41 676.60,263.41 676.60,261.50 676.60,259.60 676.60,259.60 676.60,257.70 676.60,257.70" fill="none" stroke="#A51C36" stroke-width="1.5" stroke-linejoin="miter" />
<polyline points="566.30,370.90 566.31,370.90 566.31,369.01 566.33,369.01 566.33,367.13 566.33,365.24 566.34,365.24 566.34,363.35 566.36,363.35 566.37,363.35 566.37,361.47 566.37,359.58 566.39,359.58 566.39,357.69 566.40,357.69 566.42,357.69 566.42,355.81 566.43,355.81 566.43,353.92 566.43,352.03 566.45,352.03 566.46,352.03 566.46,350.15 566.46,348.26 566.48,348.26 566.49,348.26 566.49,346.37 566.51,346.37 566.51,344.49 566.51,342.60 566.52,342.60 566.54,342.60 566.54,340.71 566.55,340.71 566.55,338.83 566.55,336.94 566.56,336.94 566.56,335.05 566.58,335.05 566.59,335.05 566.59,333.17 566.61,333.17 566.61,331.28 566.61,329.39 566.62,329.39 566.64,329.39 566.64,327.51 566.65,327.51 566.65,325.62 566.67,325.62 566.67,323.73 566.67,321.85 566.68,321.85 566.70,321.85 566.70,319.96 566.71,319.96 566.71,318.07 566.71,316.19 566.73,316.19 566.74,316.19 566.74,314.30 566.74,314.30 566.74,312.39 566.74,312.39 566.74,310.48 566.74,310.48 566.74,308.57 566.74,306.66 566.74,306.66 566.74,306.66 566.74,304.75 566.74,302.84 566.74,302.84 566.74,302.84 566.74,300.93 566.74,299.03 566.74,299.03 566.74,299.03 566.74,297.12 566.74,297.12 566.74,295.21 566.74,293.30 566.74,293.30 566.74,293.30 566.74,291.39 566.74,289.48 566.74,289.48 566.74,289.48 566.74,287.57 566.74,287.57 566.74,285.66 567.95,285.66 567.95,285.66 567.95,285.66 567.95,283.28 567.95,283.28 567.95,280.91 568.84,280.91 568.84,278.76 568.84,278.30 571.15,278.30 571.15,277.85 573.47,277.85 573.47,277.40 575.79,277.40 575.79,275.70 577.11,275.70 577.11,274.74 579.04,274.74 580.97,274.74 580.97,273.77 582.93,273.77 582.93,273.29 584.89,273.29 584.89,272.81 584.89,272.33 586.84,272.33 588.80,272.33 588.80,271.85 590.68,271.85 590.68,271.77 592.55,271.77 592.55,271.69 592.55,271.61 594.43,271.61 596.30,271.61 596.30,271.53 596.30,271.45 598.18,271.45 600.05,271.45 600.05,271.36 601.93,271.36 601.93,271.28 603.69,271.28 603.69,270.66 605.46,270.66 605.46,270.04 605.46,269.88 607.35,269.88 607.35,269.72 609.25,269.72 609.25,269.56 611.15,269.56 613.05,269.56 613.05,269.40 613.05,269.25 614.94,269.25 616.99,269.25 616.99,269.13 616.99,269.02 619.05,269.02 621.10,269.02 621.10,268.91 623.15,268.91 623.15,268.79 625.20,268.79 625.20,268.68 625.20,267.66 627.74,267.66 627.74,266.64 630.27,266.64 632.33,266.64 632.33,266.44 634.38,266.44 634.38,266.24 636.43,266.24 636.43,266.03 636.43,265.83 638.48,265.83 640.53,265.83 640.53,265.62 640.53,265.41 642.46,265.41 642.46,265.20 644.38,265.20 646.30,265.20 646.30,264.98 648.23,264.98 648.23,264.77 650.15,264.77 650.15,264.55 650.15,264.34 652.08,264.34 652.08,264.13 654.00,264.13 655.92,264.13 655.92,263.91 657.85,263.91 657.85,263.70 659.87,263.70 659.87,263.45 661.89,263.45 661.89,263.21 661.89,262.96 663.92,262.96 665.94,262.96 665.94,262.72 665.94,262.47 667.96,262.47 669.98,262.47 669.98,262.23 669.98,261.38 671.64,261.38 671.64,260.53 673.29,260.53 673.29,259.68 674.95,259.68 676.60,259.68 676.60,258.83 676.60,258.83 676.60,257.70" fill="none" stroke="#12A085" stroke-width="1.5" stroke-linejoin="miter" />
<rect x="587.80" y="300.80" width="77.50" height="15.40" rx="1" fill="#1CA285"/>
<text x="626.55" y="306.50" font-size="5.85" text-anchor="middle" fill="#fff" font-weight="normal" >AUC (WID–buccal–BC) = 0.9</text>
<text x="626.55" y="314.40" font-size="5.85" text-anchor="middle" fill="#fff" font-weight="normal" >(95% CI: 0.88–0.92)</text>
<rect x="589.10" y="323.70" width="75.10" height="14.90" rx="1" fill="#A41B35"/>
<text x="626.65" y="329.40" font-size="5.85" text-anchor="middle" fill="#fff" font-weight="normal" >AUC (WID–blood–BC) = 0.4</text>
<text x="626.65" y="337.30" font-size="5.85" text-anchor="middle" fill="#fff" font-weight="normal" >(95% CI: 0.35–0.45)</text>
<rect x="585.10" y="352.10" width="84.50" height="14.80" rx="1" fill="#3C578B"/>
<text x="627.35" y="357.80" font-size="5.85" text-anchor="middle" fill="#fff" font-weight="normal" >AUC (WID–cervical–BC) = 0.04</text>
<text x="627.35" y="365.70" font-size="5.85" text-anchor="middle" fill="#fff" font-weight="normal" >(95% CI: 0.03–0.05)</text>
<line x1="561.30" y1="252.20" x2="561.30" y2="376.80" stroke="#1a1a1a" stroke-width="1.3" />
<line x1="560.65" y1="376.20" x2="681.80" y2="376.20" stroke="#1a1a1a" stroke-width="1.3" />
<text x="556.30" y="374.00" font-size="8.8" text-anchor="end" fill="#4D4D4D" font-weight="normal" >0.00</text>
<text x="566.30" y="387.60" font-size="8.8" text-anchor="middle" fill="#4D4D4D" font-weight="normal" >0.00</text>
<text x="556.30" y="345.70" font-size="8.8" text-anchor="end" fill="#4D4D4D" font-weight="normal" >0.25</text>
<text x="593.88" y="387.60" font-size="8.8" text-anchor="middle" fill="#4D4D4D" font-weight="normal" >0.25</text>
<text x="556.30" y="317.40" font-size="8.8" text-anchor="end" fill="#4D4D4D" font-weight="normal" >0.50</text>
<text x="621.45" y="387.60" font-size="8.8" text-anchor="middle" fill="#4D4D4D" font-weight="normal" >0.50</text>
<text x="556.30" y="289.10" font-size="8.8" text-anchor="end" fill="#4D4D4D" font-weight="normal" >0.75</text>
<text x="649.02" y="387.60" font-size="8.8" text-anchor="middle" fill="#4D4D4D" font-weight="normal" >0.75</text>
<text x="556.30" y="260.80" font-size="8.8" text-anchor="end" fill="#4D4D4D" font-weight="normal" >1.00</text>
<text x="676.60" y="387.60" font-size="8.8" text-anchor="middle" fill="#4D4D4D" font-weight="normal" >1.00</text>
<text x="621.80" y="399.20" font-size="10.7" text-anchor="middle" fill="#000" font-weight="normal" >1 – Specificity</text>
<text x="0" y="0" font-size="10.7" text-anchor="middle" fill="#000" transform="translate(534.3,313.90) rotate(-90)">Sensitivity</text>
<text x="518.50" y="424.10" font-size="12.6" text-anchor="start" fill="#000" font-weight="bold" >f</text>
<line x1="566.30" y1="578.40" x2="676.60" y2="464.40" stroke="#858585" stroke-width="1.15" />
<polyline points="566.30,578.40 566.30,578.40 568.35,578.40 570.40,578.40 570.40,578.40 570.40,578.40 572.45,578.40 572.45,578.40 574.49,578.40 576.54,578.40 576.54,578.40 576.54,578.40 578.59,578.40 580.64,578.40 580.64,578.40 580.64,577.26 583.95,577.26 583.95,574.98 585.05,574.98 586.82,574.98 586.82,574.30 588.58,574.30 588.58,573.61 590.35,573.61 590.35,572.93 590.35,572.24 592.11,572.24 593.88,572.24 593.88,571.56 595.71,571.56 595.71,571.18 595.71,570.80 597.55,570.80 597.55,570.42 599.39,570.42 601.23,570.42 601.23,570.04 603.07,570.04 603.07,569.66 604.90,569.66 604.90,569.28 604.90,568.90 606.74,568.90 608.58,568.90 608.58,568.52 608.58,568.14 610.42,568.14 610.42,567.76 612.26,567.76 612.26,567.38 614.10,567.38 615.93,567.38 615.93,567.00 615.93,566.62 617.77,566.62 617.77,566.24 619.61,566.24 619.61,565.86 621.45,565.86 623.29,565.86 623.29,565.48 625.13,565.48 625.13,565.10 625.13,564.72 626.97,564.72 628.80,564.72 628.80,564.34 628.80,563.96 630.64,563.96 632.48,563.96 632.48,563.58 632.48,563.20 634.32,563.20 634.32,562.82 636.16,562.82 636.16,562.44 638.00,562.44 639.83,562.44 639.83,561.98 641.67,561.98 641.67,561.53 643.51,561.53 643.51,561.07 643.51,560.62 645.35,560.62 647.19,560.62 647.19,560.16 649.02,560.16 649.02,559.70 649.02,559.25 650.86,559.25 650.86,558.79 652.70,558.79 654.54,558.79 654.54,558.34 654.54,557.58 656.38,557.58 658.22,557.58 658.22,556.82 660.06,556.82 660.06,556.06 661.89,556.06 661.89,555.30 663.73,555.30 663.73,554.54 665.57,554.54 665.57,553.78 667.22,553.78 667.22,552.38 668.88,552.38 668.88,550.98 670.53,550.98 670.53,549.59 670.53,548.19 672.19,548.19 672.19,546.41 672.85,546.41 672.85,544.63 673.51,544.63 674.17,544.63 674.17,542.85 674.84,542.85 674.84,541.08 674.84,539.30 675.50,539.30 675.50,537.38 675.55,537.38 675.60,537.38 675.60,535.47 675.60,533.55 675.65,533.55 675.71,533.55 675.71,531.63 675.76,531.63 675.76,529.72 675.81,529.72 675.81,527.80 675.81,525.88 675.86,525.88 675.92,525.88 675.92,523.97 675.97,523.97 675.97,522.05 675.97,520.14 676.02,520.14 676.02,518.22 676.07,518.22 676.13,518.22 676.13,516.30 676.18,516.30 676.18,514.39 676.18,512.47 676.23,512.47 676.28,512.47 676.28,510.55 676.28,508.64 676.34,508.64 676.34,506.72 676.39,506.72 676.39,504.80 676.44,504.80 676.49,504.80 676.49,502.89 676.49,500.97 676.55,500.97 676.60,500.97 676.60,499.06 676.60,499.06 676.60,497.13 676.60,497.13 676.60,495.21 676.60,493.28 676.60,493.28 676.60,493.28 676.60,491.35 676.60,491.35 676.60,489.43 676.60,489.43 676.60,487.50 676.60,485.58 676.60,485.58 676.60,485.58 676.60,483.65 676.60,483.65 676.60,481.73 676.60,479.80 676.60,479.80 676.60,477.88 676.60,477.88 676.60,477.88 676.60,475.95 676.60,475.95 676.60,474.03 676.60,474.03 676.60,472.10 676.60,470.18 676.60,470.18 676.60,470.18 676.60,468.25 676.60,468.25 676.60,466.33 676.60,466.33 676.60,464.40" fill="none" stroke="#3C5488" stroke-width="1.5" stroke-linejoin="miter" />
<polyline points="566.30,578.40 567.40,578.40 567.40,574.98 568.40,574.98 568.40,573.27 569.39,573.27 569.39,571.56 569.91,571.56 569.91,569.56 569.91,567.57 570.44,567.57 570.96,567.57 570.96,565.57 571.48,565.57 571.48,563.58 571.48,560.16 572.59,560.16 572.59,558.45 573.75,558.45 573.75,556.74 574.90,556.74 574.90,555.03 576.06,555.03 576.06,553.32 577.22,553.32 578.54,553.32 578.54,551.23 578.54,549.14 579.87,549.14 581.19,549.14 581.19,547.05 581.19,545.49 582.92,545.49 582.92,543.93 584.65,543.93 584.65,542.38 586.37,542.38 587.53,542.38 587.53,540.78 588.68,540.78 588.68,539.18 589.83,539.18 589.83,537.59 589.83,535.99 590.98,535.99 590.98,534.40 592.13,534.40 593.29,534.40 593.29,532.80 594.44,532.80 594.44,531.20 594.44,529.61 595.59,529.61 595.59,528.01 596.74,528.01 596.74,527.10 598.57,527.10 598.57,526.19 600.40,526.19 600.40,525.28 602.24,525.28 604.07,525.28 604.07,524.36 605.90,524.36 605.90,523.45 605.90,522.77 608.14,522.77 610.38,522.77 610.38,522.08 610.38,521.40 612.63,521.40 612.63,520.65 614.34,520.65 614.34,519.91 616.06,519.91 616.06,519.16 617.77,519.16 619.49,519.16 619.49,518.41 619.49,517.66 621.20,517.66 622.92,517.66 622.92,516.92 624.64,516.92 624.64,516.17 624.64,515.42 626.35,515.42 626.35,514.67 628.07,514.67 628.07,513.69 629.78,513.69 629.78,512.70 631.50,512.70 633.22,512.70 633.22,511.71 634.93,511.71 634.93,510.72 634.93,509.73 636.65,509.73 638.36,509.73 638.36,508.75 638.36,507.76 640.08,507.76 640.08,506.77 641.79,506.77 641.79,505.78 643.51,505.78 643.51,504.66 645.35,504.66 645.35,503.54 647.19,503.54 647.19,502.42 649.02,502.42 650.86,502.42 650.86,501.30 650.86,500.18 652.70,500.18 654.54,500.18 654.54,499.06 656.01,499.06 656.01,497.81 656.01,496.57 657.48,496.57 658.95,496.57 658.95,495.33 658.95,494.09 660.42,494.09 660.42,492.85 661.89,492.85 663.36,492.85 663.36,491.61 664.83,491.61 664.83,490.37 666.31,490.37 666.31,489.13 666.31,487.88 667.78,487.88 667.78,486.54 669.32,486.54 670.86,486.54 670.86,485.19 670.86,483.85 672.41,483.85 673.95,483.85 673.95,482.50 673.95,481.16 675.50,481.16 675.50,478.93 676.05,478.93 676.60,478.93 676.60,476.71 676.60,474.66 676.60,474.66 676.60,474.66 676.60,472.61 676.60,470.56 676.60,470.56 676.60,470.56 676.60,468.50 676.60,466.45 676.60,466.45 676.60,464.40 676.60,464.40" fill="none" stroke="#A51C36" stroke-width="1.5" stroke-linejoin="miter" />
<polyline points="566.30,578.40 566.31,578.40 566.31,576.50 566.31,574.60 566.32,574.60 566.32,572.70 566.34,572.70 566.35,572.70 566.35,570.80 566.35,568.90 566.36,568.90 566.37,568.90 566.37,567.00 566.37,565.10 566.39,565.10 566.39,563.20 566.40,563.20 566.41,563.20 566.41,561.30 566.42,561.30 566.42,559.40 566.43,559.40 566.43,557.50 566.43,555.60 566.45,555.60 566.45,553.70 566.46,553.70 566.47,553.70 566.47,551.80 566.47,549.90 566.48,549.90 566.50,549.90 566.50,548.00 566.51,548.00 566.51,546.10 566.51,544.20 566.52,544.20 566.52,542.26 566.54,542.26 566.56,542.26 566.56,540.32 566.56,538.39 566.58,538.39 566.58,536.45 566.60,536.45 566.60,534.51 566.62,534.51 566.62,532.57 566.64,532.57 566.64,530.63 566.67,530.63 566.69,530.63 566.69,528.70 566.69,526.76 566.71,526.76 566.71,524.82 566.73,524.82 566.73,522.88 566.75,522.88 566.77,522.88 566.77,520.94 566.77,519.01 566.79,519.01 566.79,517.07 566.81,517.07 566.83,517.07 566.83,515.13 566.83,513.19 566.85,513.19 566.91,513.19 566.91,511.11 566.97,511.11 566.97,509.04 567.04,509.04 567.04,506.96 567.10,506.96 567.10,504.88 567.10,502.81 567.16,502.81 567.16,500.73 567.22,500.73 567.22,498.65 567.28,498.65 567.28,496.57 567.34,496.57 567.34,494.50 567.40,494.50 567.40,491.65 569.28,491.65 571.04,491.65 571.04,489.88 571.04,488.11 572.81,488.11 572.81,486.17 575.68,486.17 575.68,485.20 578.16,485.20 578.16,484.24 580.64,484.24 582.35,484.24 582.35,483.35 582.35,482.47 584.06,482.47 584.06,481.59 585.77,481.59 587.48,481.59 587.48,480.70 587.48,480.47 589.71,480.47 589.71,480.25 591.94,480.25 594.18,480.25 594.18,480.02 596.41,480.02 596.41,479.79 596.41,478.31 598.29,478.31 598.29,478.31 600.27,478.31 602.26,478.31 602.26,478.31 602.26,478.31 604.24,478.31 606.23,478.31 606.23,478.31 606.23,477.79 608.41,477.79 608.41,477.28 610.59,477.28 612.76,477.28 612.76,476.77 612.76,476.26 614.94,476.26 614.94,475.80 617.48,475.80 617.48,475.34 620.02,475.34 620.02,475.19 621.97,475.19 621.97,475.04 623.93,475.04 623.93,474.89 625.89,474.89 625.89,474.74 627.85,474.74 627.85,474.58 629.81,474.58 629.81,474.43 631.76,474.43 633.72,474.43 633.72,474.28 635.68,474.28 635.68,474.13 635.68,473.98 637.64,473.98 639.59,473.98 639.59,473.82 639.59,473.67 641.55,473.67 643.51,473.67 643.51,473.52 645.47,473.52 645.47,473.18 645.47,472.84 647.43,472.84 647.43,472.49 649.39,472.49 651.35,472.49 651.35,472.15 653.31,472.15 653.31,471.81 653.31,471.47 655.28,471.47 655.28,471.13 657.24,471.13 657.24,470.78 659.20,470.78 659.20,470.44 661.16,470.44 663.00,470.44 663.00,470.06 663.00,469.68 664.83,469.68 664.83,469.30 666.67,469.30 666.67,468.92 668.51,468.92 670.35,468.92 670.35,468.54 672.19,468.54 672.19,468.16 672.19,466.91 673.66,466.91 675.13,466.91 675.13,465.65 675.13,464.40 676.60,464.40" fill="none" stroke="#12A085" stroke-width="1.5" stroke-linejoin="miter" />
<rect x="586.10" y="508.50" width="81.70" height="14.80" rx="1" fill="#1CA285"/>
<text x="626.95" y="514.20" font-size="5.85" text-anchor="middle" fill="#fff" font-weight="normal" >AUC (WID–buccal–BC) = 0.88</text>
<text x="626.95" y="522.10" font-size="5.85" text-anchor="middle" fill="#fff" font-weight="normal" >(95% CI: 0.85–0.92)</text>
<rect x="586.80" y="530.90" width="80.30" height="15.50" rx="1" fill="#A41B35"/>
<text x="626.95" y="536.60" font-size="5.85" text-anchor="middle" fill="#fff" font-weight="normal" >AUC (WID–blood–BC) = 0.53</text>
<text x="626.95" y="544.50" font-size="5.85" text-anchor="middle" fill="#fff" font-weight="normal" >(95% CI: 0.47–0.58)</text>
<rect x="584.40" y="559.50" width="85.10" height="15.50" rx="1" fill="#3C578B"/>
<text x="626.95" y="565.20" font-size="5.85" text-anchor="middle" fill="#fff" font-weight="normal" >AUC (WID–cervical–BC) = 0.12</text>
<text x="626.95" y="573.10" font-size="5.85" text-anchor="middle" fill="#fff" font-weight="normal" >(95% CI: 0.09–0.15)</text>
<line x1="561.30" y1="459.20" x2="561.30" y2="584.10" stroke="#1a1a1a" stroke-width="1.3" />
<line x1="560.65" y1="583.50" x2="681.80" y2="583.50" stroke="#1a1a1a" stroke-width="1.3" />
<text x="556.30" y="581.50" font-size="8.8" text-anchor="end" fill="#4D4D4D" font-weight="normal" >0.00</text>
<text x="566.30" y="594.90" font-size="8.8" text-anchor="middle" fill="#4D4D4D" font-weight="normal" >0.00</text>
<text x="556.30" y="553.00" font-size="8.8" text-anchor="end" fill="#4D4D4D" font-weight="normal" >0.25</text>
<text x="593.88" y="594.90" font-size="8.8" text-anchor="middle" fill="#4D4D4D" font-weight="normal" >0.25</text>
<text x="556.30" y="524.50" font-size="8.8" text-anchor="end" fill="#4D4D4D" font-weight="normal" >0.50</text>
<text x="621.45" y="594.90" font-size="8.8" text-anchor="middle" fill="#4D4D4D" font-weight="normal" >0.50</text>
<text x="556.30" y="496.00" font-size="8.8" text-anchor="end" fill="#4D4D4D" font-weight="normal" >0.75</text>
<text x="649.02" y="594.90" font-size="8.8" text-anchor="middle" fill="#4D4D4D" font-weight="normal" >0.75</text>
<text x="556.30" y="467.50" font-size="8.8" text-anchor="end" fill="#4D4D4D" font-weight="normal" >1.00</text>
<text x="676.60" y="594.90" font-size="8.8" text-anchor="middle" fill="#4D4D4D" font-weight="normal" >1.00</text>
<text x="621.80" y="606.50" font-size="10.7" text-anchor="middle" fill="#000" font-weight="normal" >1 – Specificity</text>
<text x="0" y="0" font-size="10.7" text-anchor="middle" fill="#000" transform="translate(534.3,521.40) rotate(-90)">Sensitivity</text>
</svg></body></html>
